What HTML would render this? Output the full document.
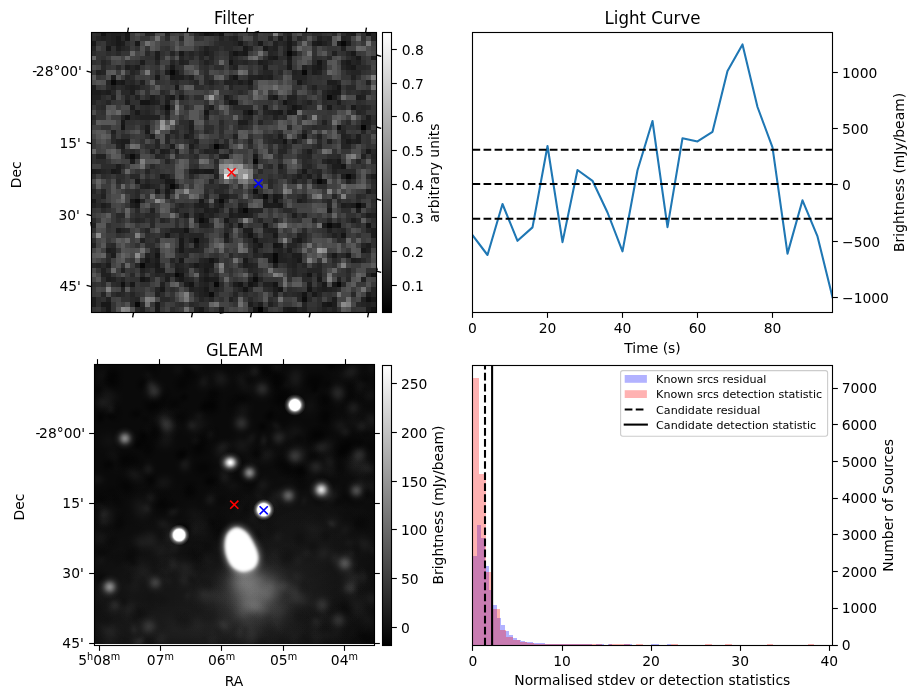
<!DOCTYPE html>
<html><head><meta charset="utf-8"><title>Candidate diagnostic plot</title>
<style>
html,body{margin:0;padding:0;background:#fff;}
body{width:918px;height:699px;overflow:hidden;}
svg{display:block;will-change:transform;font-family:'DejaVu Sans','Liberation Sans',sans-serif;fill:#000;}
</style></head><body>
<svg width="918" height="699" viewBox="0 0 918 699">
<defs>
<linearGradient id="gcb" x1="0" y1="1" x2="0" y2="0"><stop offset="0" stop-color="#000"/><stop offset="1" stop-color="#fff"/></linearGradient>
</defs>
<rect width="918" height="699" fill="#fff"/>
<g shape-rendering="crispEdges">
<rect x="92" y="33" width="284" height="279" fill="#383838"/>
<path fill="#000000" d="M258 307h5v5h-5z"/>
<path fill="#040404" d="M361 125h5v5h-5zM214 144h5v5h-5z"/>
<path fill="#080808" d="M341 41h5v5h-5zM287 51h5v5h-5zM170 70h5v5h-5zM302 70h5v5h-5zM111 80h5v5h-5zM327 95h5v5h-5zM253 159h5v5h-5zM346 174h5v5h-5zM317 179h5v5h-5zM170 184h5v5h-5zM356 203h5v5h-5zM243 208h5v5h-5zM327 223h5v5h-5zM273 253h5v5h-5zM273 258h5v5h-5zM140 263h5v5h-5zM175 273h4v4h-4zM214 282h5v5h-5zM337 282h4v5h-4zM135 302h5v5h-5z"/>
<path fill="#0c0c0c" d="M165 105h5v5h-5zM130 154h5v5h-5zM263 194h5v5h-5zM135 199h5v4h-5zM219 199h5v4h-5zM199 218h5v5h-5zM194 238h5v5h-5zM253 277h5v5h-5zM209 292h5v5h-5zM302 297h5v5h-5z"/>
<path fill="#101010" d="M248 110h5v5h-5zM337 125h4v5h-4zM253 189h5v5h-5zM121 282h4v5h-4zM366 297h5v5h-5z"/>
<path fill="#141414" d="M101 33h5v3h-5zM204 33h5v3h-5zM219 33h5v3h-5zM366 33h5v3h-5zM233 51h5v5h-5zM229 60h4v5h-4zM317 60h5v5h-5zM233 75h5v5h-5zM337 85h4v5h-4zM140 100h5v5h-5zM145 100h5v5h-5zM229 100h4v5h-4zM283 100h4v5h-4zM292 105h5v5h-5zM204 110h5v5h-5zM125 115h5v5h-5zM121 125h4v5h-4zM302 134h5v5h-5zM283 139h4v5h-4zM341 164h5v5h-5zM273 199h5v4h-5zM238 223h5v5h-5zM337 223h4v5h-4zM366 223h5v5h-5zM184 228h5v5h-5zM248 233h5v5h-5zM341 233h5v5h-5zM253 238h5v5h-5zM273 243h5v5h-5zM155 253h5v5h-5zM209 258h5v5h-5zM179 273h5v4h-5zM307 273h5v4h-5zM371 273h5v4h-5zM140 277h5v5h-5zM189 282h5v5h-5zM238 282h5v5h-5zM248 282h5v5h-5zM273 282h5v5h-5zM243 287h5v5h-5zM278 287h5v5h-5zM307 287h5v5h-5zM302 292h5v5h-5zM327 302h5v5h-5zM253 307h5v5h-5zM371 307h5v5h-5z"/>
<path fill="#181818" d="M125 33h5v3h-5zM209 33h5v3h-5zM116 36h5v5h-5zM125 36h5v5h-5zM92 41h4v5h-4zM116 41h5v5h-5zM135 41h5v5h-5zM238 41h5v5h-5zM258 41h5v5h-5zM287 41h5v5h-5zM317 41h5v5h-5zM337 41h4v5h-4zM106 46h5v5h-5zM243 46h5v5h-5zM263 46h5v5h-5zM287 46h5v5h-5zM179 51h5v5h-5zM243 51h5v5h-5zM351 51h5v5h-5zM273 56h5v4h-5zM287 56h5v4h-5zM356 56h5v4h-5zM346 60h5v5h-5zM170 65h5v5h-5zM287 65h5v5h-5zM317 65h5v5h-5zM351 65h5v5h-5zM155 75h5v5h-5zM170 75h5v5h-5zM121 80h4v5h-4zM248 80h5v5h-5zM297 80h5v5h-5zM175 85h4v5h-4zM332 90h5v5h-5zM337 90h4v5h-4zM170 95h5v5h-5zM179 95h5v5h-5zM273 95h5v5h-5zM233 100h5v5h-5zM327 105h5v5h-5zM351 105h5v5h-5zM135 110h5v5h-5zM278 110h5v5h-5zM287 110h5v5h-5zM121 120h4v5h-4zM145 130h5v4h-5zM346 139h5v5h-5zM366 149h5v5h-5zM253 154h5v5h-5zM337 159h4v5h-4zM111 169h5v5h-5zM194 169h5v5h-5zM204 169h5v5h-5zM209 169h5v5h-5zM302 169h5v5h-5zM160 174h5v5h-5zM135 179h5v5h-5zM165 179h5v5h-5zM170 179h5v5h-5zM322 179h5v5h-5zM155 189h5v5h-5zM165 189h5v5h-5zM273 194h5v5h-5zM92 199h4v4h-4zM130 199h5v4h-5zM199 199h5v4h-5zM135 203h5v5h-5zM278 203h5v5h-5zM238 208h5v5h-5zM327 208h5v5h-5zM184 213h5v5h-5zM199 213h5v5h-5zM204 218h5v5h-5zM224 218h5v5h-5zM263 223h5v5h-5zM332 223h5v5h-5zM165 233h5v5h-5zM224 233h5v5h-5zM273 233h5v5h-5zM179 238h5v5h-5zM297 238h5v5h-5zM179 243h5v5h-5zM194 243h5v5h-5zM258 243h5v5h-5zM278 243h5v5h-5zM179 248h5v5h-5zM361 248h5v5h-5zM332 253h5v5h-5zM346 253h5v5h-5zM145 258h5v5h-5zM179 258h5v5h-5zM243 258h5v5h-5zM297 258h5v5h-5zM155 263h5v5h-5zM194 263h5v5h-5zM204 268h5v5h-5zM179 277h5v5h-5zM204 277h5v5h-5zM317 277h5v5h-5zM130 282h5v5h-5zM322 282h5v5h-5zM332 282h5v5h-5zM160 287h5v5h-5zM204 287h5v5h-5zM312 292h5v5h-5zM371 297h5v5h-5zM101 302h5v5h-5zM106 302h5v5h-5zM155 302h5v5h-5zM322 302h5v5h-5zM106 307h5v5h-5zM155 307h5v5h-5zM199 307h5v5h-5zM287 307h5v5h-5zM292 307h5v5h-5z"/>
<path fill="#1c1c1c" d="M351 33h5v3h-5zM278 36h5v5h-5zM287 36h5v5h-5zM121 41h4v5h-4zM312 41h5v5h-5zM346 41h5v5h-5zM116 46h5v5h-5zM155 51h5v5h-5zM204 51h5v5h-5zM238 51h5v5h-5zM292 51h5v5h-5zM155 56h5v4h-5zM268 56h5v4h-5zM140 60h5v5h-5zM258 60h5v5h-5zM287 60h5v5h-5zM125 65h5v5h-5zM135 65h5v5h-5zM263 65h5v5h-5zM312 65h5v5h-5zM346 65h5v5h-5zM165 70h5v5h-5zM175 70h4v5h-4zM312 70h5v5h-5zM111 75h5v5h-5zM175 75h4v5h-4zM179 75h5v5h-5zM258 75h5v5h-5zM268 75h5v5h-5zM116 80h5v5h-5zM238 80h5v5h-5zM327 80h5v5h-5zM332 80h5v5h-5zM92 85h4v5h-4zM130 85h5v5h-5zM92 90h4v5h-4zM96 90h5v5h-5zM106 90h5v5h-5zM130 90h5v5h-5zM327 90h5v5h-5zM150 95h5v5h-5zM224 95h5v5h-5zM332 95h5v5h-5zM356 95h5v5h-5zM125 100h5v5h-5zM150 100h5v5h-5zM165 100h5v5h-5zM337 100h4v5h-4zM130 105h5v5h-5zM209 105h5v5h-5zM263 105h5v5h-5zM297 105h5v5h-5zM165 110h5v5h-5zM243 110h5v5h-5zM273 110h5v5h-5zM292 110h5v5h-5zM366 115h5v5h-5zM238 120h5v5h-5zM243 120h5v5h-5zM145 125h5v5h-5zM189 125h5v5h-5zM150 134h5v5h-5zM184 134h5v5h-5zM278 134h5v5h-5zM356 134h5v5h-5zM121 139h4v5h-4zM125 139h5v5h-5zM292 139h5v5h-5zM356 139h5v5h-5zM121 144h4v5h-4zM170 144h5v5h-5zM189 144h5v5h-5zM219 144h5v5h-5zM160 149h5v5h-5zM307 149h5v5h-5zM224 154h5v5h-5zM130 159h5v5h-5zM327 159h5v5h-5zM116 164h5v5h-5zM278 164h5v5h-5zM332 164h5v5h-5zM337 164h4v5h-4zM92 169h4v5h-4zM116 169h5v5h-5zM189 169h5v5h-5zM199 169h5v5h-5zM297 174h5v5h-5zM307 174h5v5h-5zM341 174h5v5h-5zM351 174h5v5h-5zM371 174h5v5h-5zM145 184h5v5h-5zM175 184h4v5h-4zM366 189h5v5h-5zM219 194h5v5h-5zM224 194h5v5h-5zM278 194h5v5h-5zM263 199h5v4h-5zM297 199h5v4h-5zM101 203h5v5h-5zM199 203h5v5h-5zM219 203h5v5h-5zM263 203h5v5h-5zM268 203h5v5h-5zM273 203h5v5h-5zM341 203h5v5h-5zM351 203h5v5h-5zM361 203h5v5h-5zM204 208h5v5h-5zM214 208h5v5h-5zM356 208h5v5h-5zM229 213h4v5h-4zM238 213h5v5h-5zM243 213h5v5h-5zM292 213h5v5h-5zM366 213h5v5h-5zM351 218h5v5h-5zM322 223h5v5h-5zM116 228h5v5h-5zM243 228h5v5h-5zM248 228h5v5h-5zM371 228h5v5h-5zM371 233h5v5h-5zM366 243h5v5h-5zM106 248h5v5h-5zM253 248h5v5h-5zM287 248h5v5h-5zM111 253h5v5h-5zM263 253h5v5h-5zM268 253h5v5h-5zM292 253h5v5h-5zM297 253h5v5h-5zM155 258h5v5h-5zM268 258h5v5h-5zM351 258h5v5h-5zM106 263h5v5h-5zM204 263h5v5h-5zM209 263h5v5h-5zM243 263h5v5h-5zM273 263h5v5h-5zM155 268h5v5h-5zM160 268h5v5h-5zM175 268h4v5h-4zM106 277h5v5h-5zM145 277h5v5h-5zM165 277h5v5h-5zM209 277h5v5h-5zM214 277h5v5h-5zM184 282h5v5h-5zM233 282h5v5h-5zM253 282h5v5h-5zM307 282h5v5h-5zM273 287h5v5h-5zM322 287h5v5h-5zM204 292h5v5h-5zM366 292h5v5h-5zM92 297h4v5h-4zM332 297h5v5h-5zM92 302h4v5h-4zM248 302h5v5h-5zM258 302h5v5h-5zM332 302h5v5h-5zM219 307h5v5h-5zM283 307h4v5h-4zM366 307h5v5h-5z"/>
<path fill="#202020" d="M111 33h5v3h-5zM116 33h5v3h-5zM199 33h5v3h-5zM214 33h5v3h-5zM346 33h5v3h-5zM101 36h5v5h-5zM111 36h5v5h-5zM233 36h5v5h-5zM317 36h5v5h-5zM341 36h5v5h-5zM111 41h5v5h-5zM273 41h5v5h-5zM322 41h5v5h-5zM204 46h5v5h-5zM273 46h5v5h-5zM341 46h5v5h-5zM229 51h4v5h-4zM332 51h5v5h-5zM229 56h4v4h-4zM371 56h5v4h-5zM179 60h5v5h-5zM204 60h5v5h-5zM263 60h5v5h-5zM341 60h5v5h-5zM356 60h5v5h-5zM233 65h5v5h-5zM302 65h5v5h-5zM96 70h5v5h-5zM292 70h5v5h-5zM317 70h5v5h-5zM189 75h5v5h-5zM229 75h4v5h-4zM248 75h5v5h-5zM253 75h5v5h-5zM263 75h5v5h-5zM351 75h5v5h-5zM140 80h5v5h-5zM209 80h5v5h-5zM224 80h5v5h-5zM229 80h4v5h-4zM366 80h5v5h-5zM111 85h5v5h-5zM125 85h5v5h-5zM135 85h5v5h-5zM312 85h5v5h-5zM332 85h5v5h-5zM101 90h5v5h-5zM92 95h4v5h-4zM96 95h5v5h-5zM111 95h5v5h-5zM135 95h5v5h-5zM165 95h5v5h-5zM268 95h5v5h-5zM287 95h5v5h-5zM292 95h5v5h-5zM361 95h5v5h-5zM155 100h5v5h-5zM287 100h5v5h-5zM307 100h5v5h-5zM268 110h5v5h-5zM140 115h5v5h-5zM145 115h5v5h-5zM150 115h5v5h-5zM155 115h5v5h-5zM204 115h5v5h-5zM273 115h5v5h-5zM189 120h5v5h-5zM322 120h5v5h-5zM361 120h5v5h-5zM366 120h5v5h-5zM111 130h5v4h-5zM189 130h5v4h-5zM233 134h5v5h-5zM317 134h5v5h-5zM341 134h5v5h-5zM116 139h5v5h-5zM194 139h5v5h-5zM327 139h5v5h-5zM351 139h5v5h-5zM150 149h5v5h-5zM165 149h5v5h-5zM175 149h4v5h-4zM204 149h5v5h-5zM214 149h5v5h-5zM96 154h5v5h-5zM101 154h5v5h-5zM125 154h5v5h-5zM135 154h5v5h-5zM219 154h5v5h-5zM361 154h5v5h-5zM332 159h5v5h-5zM96 169h5v5h-5zM332 169h5v5h-5zM165 174h5v5h-5zM214 174h5v5h-5zM317 174h5v5h-5zM292 179h5v5h-5zM312 179h5v5h-5zM346 179h5v5h-5zM140 184h5v5h-5zM165 184h5v5h-5zM101 194h5v5h-5zM165 194h5v5h-5zM258 194h5v5h-5zM214 199h5v4h-5zM92 203h4v5h-4zM130 203h5v5h-5zM194 203h5v5h-5zM204 203h5v5h-5zM238 203h5v5h-5zM346 203h5v5h-5zM150 208h5v5h-5zM209 208h5v5h-5zM229 208h4v5h-4zM248 208h5v5h-5zM194 213h5v5h-5zM209 213h5v5h-5zM233 213h5v5h-5zM248 213h5v5h-5zM371 213h5v5h-5zM92 223h4v5h-4zM199 223h5v5h-5zM204 223h5v5h-5zM229 223h4v5h-4zM170 228h5v5h-5zM175 228h4v5h-4zM179 228h5v5h-5zM268 228h5v5h-5zM273 228h5v5h-5zM327 228h5v5h-5zM179 233h5v5h-5zM297 233h5v5h-5zM332 233h5v5h-5zM140 238h5v5h-5zM189 238h5v5h-5zM224 238h5v5h-5zM292 238h5v5h-5zM92 243h4v5h-4zM253 243h5v5h-5zM111 248h5v5h-5zM155 248h5v5h-5zM278 248h5v5h-5zM366 248h5v5h-5zM145 253h5v5h-5zM278 253h5v5h-5zM204 258h5v5h-5zM214 258h5v5h-5zM278 258h5v5h-5zM283 258h4v5h-4zM292 258h5v5h-5zM356 258h5v5h-5zM96 263h5v5h-5zM145 263h5v5h-5zM150 263h5v5h-5zM175 263h4v5h-4zM199 263h5v5h-5zM248 263h5v5h-5zM292 263h5v5h-5zM101 268h5v5h-5zM121 268h4v5h-4zM140 268h5v5h-5zM179 268h5v5h-5zM101 273h5v4h-5zM106 273h5v4h-5zM165 273h5v4h-5zM204 273h5v4h-5zM253 273h5v4h-5zM317 273h5v4h-5zM111 277h5v5h-5zM175 277h4v5h-4zM199 277h5v5h-5zM248 277h5v5h-5zM337 277h4v5h-4zM361 277h5v5h-5zM160 282h5v5h-5zM204 282h5v5h-5zM263 282h5v5h-5zM268 282h5v5h-5zM189 287h5v5h-5zM199 287h5v5h-5zM317 287h5v5h-5zM327 287h5v5h-5zM155 292h5v5h-5zM199 292h5v5h-5zM273 292h5v5h-5zM106 297h5v5h-5zM229 297h4v5h-4zM361 297h5v5h-5zM268 302h5v5h-5zM366 302h5v5h-5zM140 307h5v5h-5zM194 307h5v5h-5zM302 307h5v5h-5zM322 307h5v5h-5zM332 307h5v5h-5z"/>
<path fill="#242424" d="M106 33h5v3h-5zM121 33h4v3h-4zM145 33h5v3h-5zM165 33h5v3h-5zM287 33h5v3h-5zM371 33h5v3h-5zM96 36h5v5h-5zM106 36h5v5h-5zM219 36h5v5h-5zM229 36h4v5h-4zM268 36h5v5h-5zM327 36h5v5h-5zM346 36h5v5h-5zM371 36h5v5h-5zM106 41h5v5h-5zM233 41h5v5h-5zM283 41h4v5h-4zM292 41h5v5h-5zM92 46h4v5h-4zM121 46h4v5h-4zM248 46h5v5h-5zM268 46h5v5h-5zM170 51h5v5h-5zM189 51h5v5h-5zM199 51h5v5h-5zM209 51h5v5h-5zM268 51h5v5h-5zM283 51h4v5h-4zM346 51h5v5h-5zM179 56h5v4h-5zM199 56h5v4h-5zM209 56h5v4h-5zM351 56h5v4h-5zM101 60h5v5h-5zM155 60h5v5h-5zM170 60h5v5h-5zM184 60h5v5h-5zM233 60h5v5h-5zM243 60h5v5h-5zM351 60h5v5h-5zM130 65h5v5h-5zM341 65h5v5h-5zM101 70h5v5h-5zM130 70h5v5h-5zM263 70h5v5h-5zM268 70h5v5h-5zM297 70h5v5h-5zM351 70h5v5h-5zM356 70h5v5h-5zM125 75h5v5h-5zM292 75h5v5h-5zM297 75h5v5h-5zM302 75h5v5h-5zM106 80h5v5h-5zM130 80h5v5h-5zM194 80h5v5h-5zM233 80h5v5h-5zM243 80h5v5h-5zM337 80h4v5h-4zM229 85h4v5h-4zM248 85h5v5h-5zM322 90h5v5h-5zM361 90h5v5h-5zM125 95h5v5h-5zM322 95h5v5h-5zM92 100h4v5h-4zM106 100h5v5h-5zM292 100h5v5h-5zM160 105h5v5h-5zM287 105h5v5h-5zM361 105h5v5h-5zM145 110h5v5h-5zM263 110h5v5h-5zM356 110h5v5h-5zM121 115h4v5h-4zM135 115h5v5h-5zM165 115h5v5h-5zM248 115h5v5h-5zM258 120h5v5h-5zM366 125h5v5h-5zM170 130h5v4h-5zM302 130h5v4h-5zM341 130h5v4h-5zM361 130h5v4h-5zM165 134h5v5h-5zM189 134h5v5h-5zM346 134h5v5h-5zM155 139h5v5h-5zM165 139h5v5h-5zM248 139h5v5h-5zM273 139h5v5h-5zM278 139h5v5h-5zM341 139h5v5h-5zM116 144h5v5h-5zM155 144h5v5h-5zM224 144h5v5h-5zM283 144h4v5h-4zM317 144h5v5h-5zM341 144h5v5h-5zM346 144h5v5h-5zM121 149h4v5h-4zM209 149h5v5h-5zM278 149h5v5h-5zM283 149h4v5h-4zM155 154h5v5h-5zM307 154h5v5h-5zM371 154h5v5h-5zM165 159h5v5h-5zM322 159h5v5h-5zM356 159h5v5h-5zM307 164h5v5h-5zM101 169h5v5h-5zM145 169h5v5h-5zM317 169h5v5h-5zM145 179h5v5h-5zM209 179h5v5h-5zM150 184h5v5h-5zM92 189h4v5h-4zM101 189h5v5h-5zM204 194h5v5h-5zM302 194h5v5h-5zM332 194h5v5h-5zM140 199h5v4h-5zM302 199h5v4h-5zM327 199h5v4h-5zM106 203h5v5h-5zM179 203h5v5h-5zM214 203h5v5h-5zM327 203h5v5h-5zM175 208h4v5h-4zM253 208h5v5h-5zM258 208h5v5h-5zM204 213h5v5h-5zM302 213h5v5h-5zM135 218h5v5h-5zM160 218h5v5h-5zM194 218h5v5h-5zM258 218h5v5h-5zM273 218h5v5h-5zM312 218h5v5h-5zM327 218h5v5h-5zM121 228h4v5h-4zM145 228h5v5h-5zM263 228h5v5h-5zM341 228h5v5h-5zM366 228h5v5h-5zM189 233h5v5h-5zM194 233h5v5h-5zM199 233h5v5h-5zM243 233h5v5h-5zM302 233h5v5h-5zM199 238h5v5h-5zM287 243h5v5h-5zM292 243h5v5h-5zM361 243h5v5h-5zM189 248h5v5h-5zM194 248h5v5h-5zM273 248h5v5h-5zM253 253h5v5h-5zM283 253h4v5h-4zM150 258h5v5h-5zM170 258h5v5h-5zM199 258h5v5h-5zM287 258h5v5h-5zM92 263h4v5h-4zM135 263h5v5h-5zM179 263h5v5h-5zM189 263h5v5h-5zM253 263h5v5h-5zM287 263h5v5h-5zM302 263h5v5h-5zM317 263h5v5h-5zM199 268h5v5h-5zM209 268h5v5h-5zM248 268h5v5h-5zM292 268h5v5h-5zM307 268h5v5h-5zM312 268h5v5h-5zM317 268h5v5h-5zM155 273h5v4h-5zM170 273h5v4h-5zM292 273h5v4h-5zM302 273h5v4h-5zM366 273h5v4h-5zM121 277h4v5h-4zM184 277h5v5h-5zM258 277h5v5h-5zM199 282h5v5h-5zM121 287h4v5h-4zM155 287h5v5h-5zM194 287h5v5h-5zM214 287h5v5h-5zM238 287h5v5h-5zM332 287h5v5h-5zM371 287h5v5h-5zM101 292h5v5h-5zM116 292h5v5h-5zM130 292h5v5h-5zM233 292h5v5h-5zM297 292h5v5h-5zM317 292h5v5h-5zM371 292h5v5h-5zM135 297h5v5h-5zM199 297h5v5h-5zM209 297h5v5h-5zM302 302h5v5h-5zM361 302h5v5h-5zM371 302h5v5h-5zM263 307h5v5h-5zM297 307h5v5h-5z"/>
<path fill="#282828" d="M150 33h5v3h-5zM194 33h5v3h-5zM253 33h5v3h-5zM121 36h4v5h-4zM179 36h5v5h-5zM297 36h5v5h-5zM322 36h5v5h-5zM219 41h5v5h-5zM224 41h5v5h-5zM229 41h4v5h-4zM278 41h5v5h-5zM327 41h5v5h-5zM125 46h5v5h-5zM209 46h5v5h-5zM214 46h5v5h-5zM224 46h5v5h-5zM229 46h4v5h-4zM283 46h4v5h-4zM116 51h5v5h-5zM145 51h5v5h-5zM273 51h5v5h-5zM189 56h5v4h-5zM233 56h5v4h-5zM327 56h5v4h-5zM209 60h5v5h-5zM238 60h5v5h-5zM268 60h5v5h-5zM312 60h5v5h-5zM322 60h5v5h-5zM101 65h5v5h-5zM116 65h5v5h-5zM229 65h4v5h-4zM307 65h5v5h-5zM322 65h5v5h-5zM356 65h5v5h-5zM361 65h5v5h-5zM278 70h5v5h-5zM346 70h5v5h-5zM184 75h5v5h-5zM204 75h5v5h-5zM125 80h5v5h-5zM175 80h4v5h-4zM204 80h5v5h-5zM302 80h5v5h-5zM106 85h5v5h-5zM121 85h4v5h-4zM327 85h5v5h-5zM346 85h5v5h-5zM351 85h5v5h-5zM111 90h5v5h-5zM121 90h4v5h-4zM125 90h5v5h-5zM160 90h5v5h-5zM238 90h5v5h-5zM366 90h5v5h-5zM155 95h5v5h-5zM229 95h4v5h-4zM224 100h5v5h-5zM302 100h5v5h-5zM322 100h5v5h-5zM101 105h5v5h-5zM145 105h5v5h-5zM204 105h5v5h-5zM233 105h5v5h-5zM238 105h5v5h-5zM243 105h5v5h-5zM248 105h5v5h-5zM302 105h5v5h-5zM341 105h5v5h-5zM356 105h5v5h-5zM366 105h5v5h-5zM130 110h5v5h-5zM140 110h5v5h-5zM253 110h5v5h-5zM361 110h5v5h-5zM92 115h4v5h-4zM130 115h5v5h-5zM243 115h5v5h-5zM283 115h4v5h-4zM302 115h5v5h-5zM219 120h5v5h-5zM346 120h5v5h-5zM238 125h5v5h-5zM287 125h5v5h-5zM312 125h5v5h-5zM341 125h5v5h-5zM356 125h5v5h-5zM175 130h4v4h-4zM204 130h5v4h-5zM111 134h5v5h-5zM175 134h4v5h-4zM268 134h5v5h-5zM297 134h5v5h-5zM111 139h5v5h-5zM189 139h5v5h-5zM224 139h5v5h-5zM268 139h5v5h-5zM317 139h5v5h-5zM209 144h5v5h-5zM130 149h5v5h-5zM189 149h5v5h-5zM229 149h4v5h-4zM302 149h5v5h-5zM371 149h5v5h-5zM160 154h5v5h-5zM194 154h5v5h-5zM278 154h5v5h-5zM302 154h5v5h-5zM337 154h4v5h-4zM214 159h5v5h-5zM302 159h5v5h-5zM371 159h5v5h-5zM121 164h4v5h-4zM150 164h5v5h-5zM268 164h5v5h-5zM302 164h5v5h-5zM106 169h5v5h-5zM214 169h5v5h-5zM258 169h5v5h-5zM278 169h5v5h-5zM312 169h5v5h-5zM337 169h4v5h-4zM341 169h5v5h-5zM346 169h5v5h-5zM351 169h5v5h-5zM130 174h5v5h-5zM135 174h5v5h-5zM189 174h5v5h-5zM283 174h4v5h-4zM292 174h5v5h-5zM302 174h5v5h-5zM366 174h5v5h-5zM116 179h5v5h-5zM160 179h5v5h-5zM268 179h5v5h-5zM302 179h5v5h-5zM371 179h5v5h-5zM155 184h5v5h-5zM219 184h5v5h-5zM224 184h5v5h-5zM268 184h5v5h-5zM135 189h5v5h-5zM170 189h5v5h-5zM214 189h5v5h-5zM219 189h5v5h-5zM371 189h5v5h-5zM135 194h5v5h-5zM229 194h4v5h-4zM233 194h5v5h-5zM253 194h5v5h-5zM356 194h5v5h-5zM224 199h5v4h-5zM337 199h4v4h-4zM96 203h5v5h-5zM243 203h5v5h-5zM101 208h5v5h-5zM135 208h5v5h-5zM194 208h5v5h-5zM283 208h4v5h-4zM287 208h5v5h-5zM116 213h5v5h-5zM121 213h4v5h-4zM145 213h5v5h-5zM150 213h5v5h-5zM179 213h5v5h-5zM92 218h4v5h-4zM140 218h5v5h-5zM150 218h5v5h-5zM356 218h5v5h-5zM150 223h5v5h-5zM209 223h5v5h-5zM125 228h5v5h-5zM224 228h5v5h-5zM302 228h5v5h-5zM337 228h4v5h-4zM184 233h5v5h-5zM253 233h5v5h-5zM337 233h4v5h-4zM155 238h5v5h-5zM204 238h5v5h-5zM248 238h5v5h-5zM258 238h5v5h-5zM263 238h5v5h-5zM273 238h5v5h-5zM302 238h5v5h-5zM337 238h4v5h-4zM111 243h5v5h-5zM199 243h5v5h-5zM150 248h5v5h-5zM175 248h4v5h-4zM184 248h5v5h-5zM199 248h5v5h-5zM150 253h5v5h-5zM184 253h5v5h-5zM229 253h4v5h-4zM258 253h5v5h-5zM287 253h5v5h-5zM327 253h5v5h-5zM341 253h5v5h-5zM106 258h5v5h-5zM140 258h5v5h-5zM332 258h5v5h-5zM361 258h5v5h-5zM101 263h5v5h-5zM145 268h5v5h-5zM184 268h5v5h-5zM253 268h5v5h-5zM346 268h5v5h-5zM130 273h5v4h-5zM140 273h5v4h-5zM160 273h5v4h-5zM199 273h5v4h-5zM214 273h5v4h-5zM189 277h5v5h-5zM302 277h5v5h-5zM307 277h5v5h-5zM346 277h5v5h-5zM116 282h5v5h-5zM219 282h5v5h-5zM317 282h5v5h-5zM341 282h5v5h-5zM248 287h5v5h-5zM268 287h5v5h-5zM312 287h5v5h-5zM121 292h4v5h-4zM194 292h5v5h-5zM283 292h4v5h-4zM292 292h5v5h-5zM351 292h5v5h-5zM130 297h5v5h-5zM160 297h5v5h-5zM165 297h5v5h-5zM248 297h5v5h-5zM297 297h5v5h-5zM307 297h5v5h-5zM130 302h5v5h-5zM140 302h5v5h-5zM189 302h5v5h-5zM253 302h5v5h-5zM356 302h5v5h-5zM101 307h5v5h-5zM135 307h5v5h-5zM317 307h5v5h-5zM327 307h5v5h-5z"/>
<path fill="#2c2c2c" d="M96 33h5v3h-5zM283 33h4v3h-4zM312 33h5v3h-5zM317 33h5v3h-5zM332 33h5v3h-5zM341 33h5v3h-5zM92 36h4v5h-4zM165 36h5v5h-5zM224 36h5v5h-5zM253 36h5v5h-5zM214 41h5v5h-5zM243 41h5v5h-5zM253 41h5v5h-5zM199 46h5v5h-5zM92 51h4v5h-4zM106 51h5v5h-5zM184 51h5v5h-5zM194 51h5v5h-5zM263 56h5v4h-5zM278 56h5v4h-5zM283 56h4v4h-4zM312 56h5v4h-5zM346 56h5v4h-5zM106 60h5v5h-5zM199 60h5v5h-5zM248 60h5v5h-5zM175 65h4v5h-4zM204 65h5v5h-5zM214 65h5v5h-5zM219 65h5v5h-5zM366 65h5v5h-5zM135 70h5v5h-5zM155 70h5v5h-5zM179 70h5v5h-5zM204 70h5v5h-5zM258 70h5v5h-5zM307 70h5v5h-5zM130 75h5v5h-5zM170 80h5v5h-5zM189 80h5v5h-5zM214 80h5v5h-5zM116 85h5v5h-5zM140 85h5v5h-5zM194 85h5v5h-5zM199 85h5v5h-5zM209 85h5v5h-5zM307 85h5v5h-5zM179 90h5v5h-5zM292 90h5v5h-5zM312 90h5v5h-5zM346 90h5v5h-5zM356 90h5v5h-5zM101 95h5v5h-5zM145 95h5v5h-5zM184 95h5v5h-5zM194 95h5v5h-5zM199 95h5v5h-5zM101 100h5v5h-5zM327 100h5v5h-5zM332 100h5v5h-5zM356 100h5v5h-5zM96 105h5v5h-5zM140 105h5v5h-5zM150 105h5v5h-5zM170 105h5v5h-5zM184 105h5v5h-5zM337 105h4v5h-4zM150 110h5v5h-5zM263 115h5v5h-5zM278 115h5v5h-5zM145 120h5v5h-5zM179 120h5v5h-5zM184 120h5v5h-5zM248 120h5v5h-5zM371 120h5v5h-5zM140 125h5v5h-5zM184 125h5v5h-5zM204 125h5v5h-5zM209 125h5v5h-5zM219 125h5v5h-5zM243 125h5v5h-5zM317 125h5v5h-5zM322 125h5v5h-5zM219 130h5v4h-5zM278 130h5v4h-5zM337 130h4v4h-4zM121 134h4v5h-4zM125 134h5v5h-5zM145 134h5v5h-5zM263 134h5v5h-5zM214 139h5v5h-5zM297 139h5v5h-5zM145 144h5v5h-5zM194 144h5v5h-5zM248 144h5v5h-5zM278 144h5v5h-5zM287 144h5v5h-5zM312 144h5v5h-5zM125 149h5v5h-5zM199 149h5v5h-5zM268 149h5v5h-5zM175 154h4v5h-4zM297 154h5v5h-5zM327 154h5v5h-5zM332 154h5v5h-5zM96 159h5v5h-5zM101 159h5v5h-5zM307 159h5v5h-5zM101 164h5v5h-5zM106 164h5v5h-5zM111 164h5v5h-5zM194 164h5v5h-5zM327 164h5v5h-5zM283 169h4v5h-4zM297 169h5v5h-5zM92 174h4v5h-4zM101 174h5v5h-5zM116 174h5v5h-5zM121 174h4v5h-4zM150 179h5v5h-5zM155 179h5v5h-5zM351 179h5v5h-5zM317 184h5v5h-5zM322 184h5v5h-5zM371 184h5v5h-5zM204 189h5v5h-5zM92 194h4v5h-4zM96 194h5v5h-5zM268 194h5v5h-5zM297 194h5v5h-5zM361 194h5v5h-5zM96 199h5v4h-5zM278 199h5v4h-5zM322 199h5v4h-5zM356 199h5v4h-5zM371 199h5v4h-5zM175 203h4v5h-4zM184 203h5v5h-5zM199 208h5v5h-5zM219 208h5v5h-5zM341 208h5v5h-5zM346 208h5v5h-5zM371 208h5v5h-5zM135 213h5v5h-5zM214 213h5v5h-5zM361 213h5v5h-5zM116 218h5v5h-5zM130 218h5v5h-5zM165 218h5v5h-5zM175 218h4v5h-4zM229 218h4v5h-4zM233 218h5v5h-5zM337 218h4v5h-4zM346 218h5v5h-5zM371 218h5v5h-5zM175 223h4v5h-4zM224 223h5v5h-5zM356 223h5v5h-5zM165 228h5v5h-5zM332 228h5v5h-5zM145 233h5v5h-5zM160 233h5v5h-5zM170 233h5v5h-5zM263 233h5v5h-5zM268 233h5v5h-5zM327 233h5v5h-5zM92 238h4v5h-4zM184 238h5v5h-5zM268 238h5v5h-5zM341 238h5v5h-5zM106 243h5v5h-5zM145 243h5v5h-5zM150 243h5v5h-5zM248 243h5v5h-5zM283 248h4v5h-4zM106 253h5v5h-5zM179 253h5v5h-5zM243 253h5v5h-5zM337 253h4v5h-4zM248 258h5v5h-5zM184 263h5v5h-5zM238 263h5v5h-5zM297 263h5v5h-5zM312 263h5v5h-5zM287 268h5v5h-5zM297 268h5v5h-5zM302 268h5v5h-5zM150 273h5v4h-5zM287 273h5v4h-5zM297 273h5v4h-5zM346 273h5v4h-5zM101 277h5v5h-5zM116 277h5v5h-5zM101 282h5v5h-5zM111 282h5v5h-5zM125 282h5v5h-5zM209 282h5v5h-5zM243 282h5v5h-5zM170 287h5v5h-5zM209 287h5v5h-5zM219 287h5v5h-5zM233 287h5v5h-5zM263 287h5v5h-5zM287 287h5v5h-5zM337 287h4v5h-4zM111 292h5v5h-5zM160 292h5v5h-5zM214 292h5v5h-5zM243 292h5v5h-5zM287 292h5v5h-5zM307 292h5v5h-5zM96 297h5v5h-5zM204 297h5v5h-5zM233 297h5v5h-5zM268 297h5v5h-5zM317 297h5v5h-5zM96 302h5v5h-5zM179 302h5v5h-5zM194 302h5v5h-5zM273 302h5v5h-5zM317 302h5v5h-5zM170 307h5v5h-5zM204 307h5v5h-5z"/>
<path fill="#303030" d="M92 33h4v3h-4zM233 33h5v3h-5zM302 33h5v3h-5zM361 33h5v3h-5zM194 36h5v5h-5zM283 36h4v5h-4zM361 36h5v5h-5zM125 41h5v5h-5zM111 46h5v5h-5zM135 46h5v5h-5zM165 46h5v5h-5zM219 46h5v5h-5zM233 46h5v5h-5zM312 46h5v5h-5zM111 51h5v5h-5zM160 51h5v5h-5zM214 51h5v5h-5zM312 51h5v5h-5zM341 51h5v5h-5zM101 56h5v4h-5zM145 56h5v4h-5zM150 56h5v4h-5zM184 56h5v4h-5zM317 56h5v4h-5zM92 60h4v5h-4zM125 60h5v5h-5zM135 60h5v5h-5zM175 60h4v5h-4zM253 60h5v5h-5zM273 60h5v5h-5zM278 60h5v5h-5zM361 60h5v5h-5zM165 65h5v5h-5zM179 65h5v5h-5zM199 65h5v5h-5zM258 65h5v5h-5zM278 65h5v5h-5zM283 65h4v5h-4zM248 70h5v5h-5zM361 70h5v5h-5zM209 75h5v5h-5zM273 75h5v5h-5zM307 75h5v5h-5zM317 75h5v5h-5zM356 75h5v5h-5zM135 80h5v5h-5zM155 80h5v5h-5zM307 80h5v5h-5zM351 80h5v5h-5zM145 85h5v5h-5zM233 85h5v5h-5zM238 85h5v5h-5zM243 85h5v5h-5zM317 85h5v5h-5zM322 85h5v5h-5zM145 90h5v5h-5zM165 90h5v5h-5zM233 90h5v5h-5zM243 90h5v5h-5zM351 90h5v5h-5zM130 95h5v5h-5zM302 95h5v5h-5zM337 95h4v5h-4zM96 100h5v5h-5zM130 100h5v5h-5zM135 100h5v5h-5zM204 100h5v5h-5zM278 100h5v5h-5zM297 100h5v5h-5zM312 100h5v5h-5zM341 100h5v5h-5zM361 100h5v5h-5zM307 105h5v5h-5zM312 105h5v5h-5zM322 105h5v5h-5zM332 105h5v5h-5zM101 110h5v5h-5zM160 110h5v5h-5zM214 110h5v5h-5zM283 110h4v5h-4zM268 115h5v5h-5zM361 115h5v5h-5zM371 115h5v5h-5zM92 120h4v5h-4zM125 120h5v5h-5zM130 120h5v5h-5zM140 120h5v5h-5zM175 125h4v5h-4zM307 125h5v5h-5zM327 125h5v5h-5zM346 125h5v5h-5zM351 125h5v5h-5zM184 130h5v4h-5zM209 130h5v4h-5zM371 130h5v4h-5zM219 134h5v5h-5zM248 134h5v5h-5zM273 134h5v5h-5zM351 134h5v5h-5zM366 134h5v5h-5zM140 139h5v5h-5zM184 139h5v5h-5zM233 139h5v5h-5zM263 139h5v5h-5zM366 139h5v5h-5zM150 144h5v5h-5zM268 144h5v5h-5zM366 144h5v5h-5zM135 149h5v5h-5zM253 149h5v5h-5zM312 149h5v5h-5zM332 149h5v5h-5zM361 149h5v5h-5zM92 154h4v5h-4zM189 154h5v5h-5zM209 154h5v5h-5zM92 159h4v5h-4zM278 159h5v5h-5zM189 164h5v5h-5zM214 164h5v5h-5zM253 164h5v5h-5zM263 164h5v5h-5zM283 164h4v5h-4zM312 164h5v5h-5zM361 164h5v5h-5zM155 169h5v5h-5zM307 169h5v5h-5zM327 169h5v5h-5zM106 174h5v5h-5zM145 174h5v5h-5zM155 174h5v5h-5zM170 174h5v5h-5zM253 174h5v5h-5zM268 174h5v5h-5zM278 174h5v5h-5zM287 174h5v5h-5zM312 174h5v5h-5zM332 174h5v5h-5zM121 179h4v5h-4zM140 179h5v5h-5zM273 179h5v5h-5zM287 179h5v5h-5zM297 179h5v5h-5zM204 184h5v5h-5zM209 184h5v5h-5zM214 184h5v5h-5zM238 184h5v5h-5zM253 184h5v5h-5zM125 189h5v5h-5zM130 189h5v5h-5zM224 189h5v5h-5zM248 189h5v5h-5zM258 189h5v5h-5zM130 194h5v5h-5zM170 199h5v4h-5zM238 199h5v4h-5zM268 199h5v4h-5zM307 199h5v4h-5zM346 199h5v4h-5zM189 203h5v5h-5zM337 203h4v5h-4zM371 203h5v5h-5zM106 208h5v5h-5zM170 208h5v5h-5zM179 208h5v5h-5zM184 208h5v5h-5zM233 208h5v5h-5zM292 208h5v5h-5zM140 213h5v5h-5zM155 213h5v5h-5zM253 213h5v5h-5zM297 213h5v5h-5zM346 213h5v5h-5zM351 213h5v5h-5zM184 218h5v5h-5zM253 218h5v5h-5zM297 218h5v5h-5zM106 223h5v5h-5zM184 223h5v5h-5zM371 223h5v5h-5zM92 228h4v5h-4zM140 228h5v5h-5zM160 228h5v5h-5zM204 228h5v5h-5zM229 228h4v5h-4zM322 228h5v5h-5zM116 233h5v5h-5zM150 233h5v5h-5zM175 233h4v5h-4zM356 233h5v5h-5zM145 238h5v5h-5zM229 238h4v5h-4zM243 238h5v5h-5zM371 238h5v5h-5zM135 243h5v5h-5zM184 243h5v5h-5zM204 243h5v5h-5zM297 243h5v5h-5zM371 243h5v5h-5zM258 248h5v5h-5zM292 248h5v5h-5zM175 253h4v5h-4zM214 253h5v5h-5zM238 253h5v5h-5zM366 253h5v5h-5zM175 258h4v5h-4zM337 258h4v5h-4zM121 263h4v5h-4zM160 263h5v5h-5zM170 263h5v5h-5zM283 263h4v5h-4zM332 263h5v5h-5zM106 268h5v5h-5zM150 268h5v5h-5zM194 268h5v5h-5zM229 268h4v5h-4zM258 268h5v5h-5zM366 268h5v5h-5zM371 268h5v5h-5zM184 273h5v4h-5zM209 273h5v4h-5zM312 273h5v4h-5zM130 277h5v5h-5zM135 277h5v5h-5zM150 277h5v5h-5zM160 277h5v5h-5zM287 277h5v5h-5zM92 282h4v5h-4zM140 282h5v5h-5zM145 282h5v5h-5zM194 282h5v5h-5zM229 282h4v5h-4zM130 287h5v5h-5zM292 287h5v5h-5zM125 292h5v5h-5zM135 292h5v5h-5zM253 292h5v5h-5zM327 292h5v5h-5zM101 297h5v5h-5zM121 297h4v5h-4zM125 297h5v5h-5zM170 297h5v5h-5zM219 297h5v5h-5zM327 297h5v5h-5zM160 302h5v5h-5zM175 302h4v5h-4zM248 307h5v5h-5zM307 307h5v5h-5zM312 307h5v5h-5zM337 307h4v5h-4z"/>
<path fill="#343434" d="M248 33h5v3h-5zM322 33h5v3h-5zM140 36h5v5h-5zM145 36h5v5h-5zM199 36h5v5h-5zM214 36h5v5h-5zM238 36h5v5h-5zM302 36h5v5h-5zM96 41h5v5h-5zM263 41h5v5h-5zM145 46h5v5h-5zM160 46h5v5h-5zM238 46h5v5h-5zM327 46h5v5h-5zM332 46h5v5h-5zM96 51h5v5h-5zM101 51h5v5h-5zM121 51h4v5h-4zM125 51h5v5h-5zM150 51h5v5h-5zM224 51h5v5h-5zM297 51h5v5h-5zM337 51h4v5h-4zM96 56h5v4h-5zM140 56h5v4h-5zM160 56h5v4h-5zM204 56h5v4h-5zM214 56h5v4h-5zM238 56h5v4h-5zM322 56h5v4h-5zM361 56h5v4h-5zM96 60h5v5h-5zM130 60h5v5h-5zM145 60h5v5h-5zM150 60h5v5h-5zM106 65h5v5h-5zM140 65h5v5h-5zM155 65h5v5h-5zM248 65h5v5h-5zM273 70h5v5h-5zM322 70h5v5h-5zM341 70h5v5h-5zM366 70h5v5h-5zM96 75h5v5h-5zM243 75h5v5h-5zM278 75h5v5h-5zM312 75h5v5h-5zM322 75h5v5h-5zM327 75h5v5h-5zM341 75h5v5h-5zM346 75h5v5h-5zM160 80h5v5h-5zM179 80h5v5h-5zM184 80h5v5h-5zM219 80h5v5h-5zM312 80h5v5h-5zM317 80h5v5h-5zM204 85h5v5h-5zM214 85h5v5h-5zM219 85h5v5h-5zM292 85h5v5h-5zM297 85h5v5h-5zM341 85h5v5h-5zM175 90h4v5h-4zM229 90h4v5h-4zM268 90h5v5h-5zM106 95h5v5h-5zM160 95h5v5h-5zM297 95h5v5h-5zM111 100h5v5h-5zM160 100h5v5h-5zM179 100h5v5h-5zM268 100h5v5h-5zM346 100h5v5h-5zM135 105h5v5h-5zM155 105h5v5h-5zM229 105h4v5h-4zM278 105h5v5h-5zM283 105h4v5h-4zM371 105h5v5h-5zM96 110h5v5h-5zM209 110h5v5h-5zM233 110h5v5h-5zM238 110h5v5h-5zM327 110h5v5h-5zM96 115h5v5h-5zM101 115h5v5h-5zM179 115h5v5h-5zM322 115h5v5h-5zM135 120h5v5h-5zM204 120h5v5h-5zM263 120h5v5h-5zM268 120h5v5h-5zM317 120h5v5h-5zM327 120h5v5h-5zM341 120h5v5h-5zM356 120h5v5h-5zM101 125h5v5h-5zM106 125h5v5h-5zM125 125h5v5h-5zM130 125h5v5h-5zM179 125h5v5h-5zM233 125h5v5h-5zM248 125h5v5h-5zM302 125h5v5h-5zM121 130h4v4h-4zM194 130h5v4h-5zM273 130h5v4h-5zM307 130h5v4h-5zM170 134h5v5h-5zM179 134h5v5h-5zM312 134h5v5h-5zM361 134h5v5h-5zM175 139h4v5h-4zM287 139h5v5h-5zM361 139h5v5h-5zM165 144h5v5h-5zM371 144h5v5h-5zM341 149h5v5h-5zM346 149h5v5h-5zM165 154h5v5h-5zM179 154h5v5h-5zM273 154h5v5h-5zM106 159h5v5h-5zM170 159h5v5h-5zM189 159h5v5h-5zM258 159h5v5h-5zM312 159h5v5h-5zM155 164h5v5h-5zM351 164h5v5h-5zM135 169h5v5h-5zM150 169h5v5h-5zM92 184h4v5h-4zM116 184h5v5h-5zM96 189h5v5h-5zM140 189h5v5h-5zM160 189h5v5h-5zM145 194h5v5h-5zM287 194h5v5h-5zM292 194h5v5h-5zM371 194h5v5h-5zM101 199h5v4h-5zM204 199h5v4h-5zM243 199h5v4h-5zM341 199h5v4h-5zM125 203h5v5h-5zM92 208h4v5h-4zM268 208h5v5h-5zM278 208h5v5h-5zM366 208h5v5h-5zM130 213h5v5h-5zM219 213h5v5h-5zM224 213h5v5h-5zM287 213h5v5h-5zM121 218h4v5h-4zM145 218h5v5h-5zM292 218h5v5h-5zM322 218h5v5h-5zM248 223h5v5h-5zM268 223h5v5h-5zM351 223h5v5h-5zM361 223h5v5h-5zM106 228h5v5h-5zM189 228h5v5h-5zM199 228h5v5h-5zM209 228h5v5h-5zM317 228h5v5h-5zM361 228h5v5h-5zM121 233h4v5h-4zM155 233h5v5h-5zM238 233h5v5h-5zM287 233h5v5h-5zM307 233h5v5h-5zM322 233h5v5h-5zM150 238h5v5h-5zM263 243h5v5h-5zM116 248h5v5h-5zM248 248h5v5h-5zM199 253h5v5h-5zM209 253h5v5h-5zM248 253h5v5h-5zM361 253h5v5h-5zM130 258h5v5h-5zM224 258h5v5h-5zM253 258h5v5h-5zM317 258h5v5h-5zM346 258h5v5h-5zM366 258h5v5h-5zM224 263h5v5h-5zM278 263h5v5h-5zM322 263h5v5h-5zM96 268h5v5h-5zM130 268h5v5h-5zM341 268h5v5h-5zM111 273h5v4h-5zM229 273h4v4h-4zM322 273h5v4h-5zM337 273h4v4h-4zM341 273h5v4h-5zM125 277h5v5h-5zM233 277h5v5h-5zM263 277h5v5h-5zM268 277h5v5h-5zM273 277h5v5h-5zM96 282h5v5h-5zM258 282h5v5h-5zM165 287h5v5h-5zM175 287h4v5h-4zM297 287h5v5h-5zM140 292h5v5h-5zM170 292h5v5h-5zM229 292h4v5h-4zM248 292h5v5h-5zM322 292h5v5h-5zM194 297h5v5h-5zM253 297h5v5h-5zM273 297h5v5h-5zM111 302h5v5h-5zM199 302h5v5h-5zM204 302h5v5h-5zM233 302h5v5h-5zM307 302h5v5h-5zM312 302h5v5h-5zM92 307h4v5h-4zM111 307h5v5h-5zM175 307h4v5h-4zM214 307h5v5h-5zM351 307h5v5h-5z"/>
<path fill="#383838" d="M268 33h5v3h-5zM307 33h5v3h-5zM327 33h5v3h-5zM312 36h5v5h-5zM101 41h5v5h-5zM130 41h5v5h-5zM209 41h5v5h-5zM248 41h5v5h-5zM351 41h5v5h-5zM361 41h5v5h-5zM101 46h5v5h-5zM194 46h5v5h-5zM278 46h5v5h-5zM337 46h4v5h-4zM165 51h5v5h-5zM175 51h4v5h-4zM219 51h5v5h-5zM278 51h5v5h-5zM327 51h5v5h-5zM356 51h5v5h-5zM170 56h5v4h-5zM194 56h5v4h-5zM224 56h5v4h-5zM214 60h5v5h-5zM111 65h5v5h-5zM121 65h4v5h-4zM150 65h5v5h-5zM209 65h5v5h-5zM268 65h5v5h-5zM273 65h5v5h-5zM292 65h5v5h-5zM92 70h4v5h-4zM125 70h5v5h-5zM199 70h5v5h-5zM101 75h5v5h-5zM150 75h5v5h-5zM160 75h5v5h-5zM238 75h5v5h-5zM165 80h5v5h-5zM292 80h5v5h-5zM322 80h5v5h-5zM96 85h5v5h-5zM165 85h5v5h-5zM366 85h5v5h-5zM135 90h5v5h-5zM219 90h5v5h-5zM224 90h5v5h-5zM307 90h5v5h-5zM121 95h4v5h-4zM140 95h5v5h-5zM175 95h4v5h-4zM233 95h5v5h-5zM317 95h5v5h-5zM116 100h5v5h-5zM121 100h4v5h-4zM184 100h5v5h-5zM258 100h5v5h-5zM263 100h5v5h-5zM351 100h5v5h-5zM366 100h5v5h-5zM371 100h5v5h-5zM92 105h4v5h-4zM189 105h5v5h-5zM258 105h5v5h-5zM268 105h5v5h-5zM346 105h5v5h-5zM229 110h4v5h-4zM317 110h5v5h-5zM322 110h5v5h-5zM332 110h5v5h-5zM366 110h5v5h-5zM371 110h5v5h-5zM219 115h5v5h-5zM238 115h5v5h-5zM258 115h5v5h-5zM327 115h5v5h-5zM224 120h5v5h-5zM233 120h5v5h-5zM224 125h5v5h-5zM140 130h5v4h-5zM179 130h5v4h-5zM233 130h5v4h-5zM351 130h5v4h-5zM130 134h5v5h-5zM140 134h5v5h-5zM229 134h4v5h-4zM283 134h4v5h-4zM92 139h4v5h-4zM179 139h5v5h-5zM209 139h5v5h-5zM243 139h5v5h-5zM332 139h5v5h-5zM92 144h4v5h-4zM140 144h5v5h-5zM199 144h5v5h-5zM204 144h5v5h-5zM302 144h5v5h-5zM307 144h5v5h-5zM351 144h5v5h-5zM145 149h5v5h-5zM155 149h5v5h-5zM170 149h5v5h-5zM287 149h5v5h-5zM121 154h4v5h-4zM184 154h5v5h-5zM317 154h5v5h-5zM322 154h5v5h-5zM366 154h5v5h-5zM194 159h5v5h-5zM263 159h5v5h-5zM341 159h5v5h-5zM361 159h5v5h-5zM125 164h5v5h-5zM165 164h5v5h-5zM170 164h5v5h-5zM356 164h5v5h-5zM371 164h5v5h-5zM121 169h4v5h-4zM160 169h5v5h-5zM170 169h5v5h-5zM184 169h5v5h-5zM263 169h5v5h-5zM268 169h5v5h-5zM371 169h5v5h-5zM111 174h5v5h-5zM125 174h5v5h-5zM194 174h5v5h-5zM258 174h5v5h-5zM263 174h5v5h-5zM273 174h5v5h-5zM106 179h5v5h-5zM125 179h5v5h-5zM214 179h5v5h-5zM263 179h5v5h-5zM366 179h5v5h-5zM179 184h5v5h-5zM189 184h5v5h-5zM258 184h5v5h-5zM273 184h5v5h-5zM312 184h5v5h-5zM145 189h5v5h-5zM209 189h5v5h-5zM233 189h5v5h-5zM238 189h5v5h-5zM273 189h5v5h-5zM322 189h5v5h-5zM361 189h5v5h-5zM366 194h5v5h-5zM194 199h5v4h-5zM292 199h5v4h-5zM312 199h5v4h-5zM351 199h5v4h-5zM150 203h5v5h-5zM209 203h5v5h-5zM224 203h5v5h-5zM229 203h4v5h-4zM283 203h4v5h-4zM96 208h5v5h-5zM111 208h5v5h-5zM189 208h5v5h-5zM111 213h5v5h-5zM189 213h5v5h-5zM268 213h5v5h-5zM317 213h5v5h-5zM96 218h5v5h-5zM111 218h5v5h-5zM263 218h5v5h-5zM268 218h5v5h-5zM278 218h5v5h-5zM317 218h5v5h-5zM341 218h5v5h-5zM366 218h5v5h-5zM111 223h5v5h-5zM116 223h5v5h-5zM135 223h5v5h-5zM233 223h5v5h-5zM253 223h5v5h-5zM258 223h5v5h-5zM341 223h5v5h-5zM111 228h5v5h-5zM283 228h4v5h-4zM312 228h5v5h-5zM346 228h5v5h-5zM204 233h5v5h-5zM219 233h5v5h-5zM229 233h4v5h-4zM346 233h5v5h-5zM106 238h5v5h-5zM307 238h5v5h-5zM268 243h5v5h-5zM224 248h5v5h-5zM263 248h5v5h-5zM346 248h5v5h-5zM233 253h5v5h-5zM101 258h5v5h-5zM194 258h5v5h-5zM327 263h5v5h-5zM125 268h5v5h-5zM224 268h5v5h-5zM243 268h5v5h-5zM322 268h5v5h-5zM351 268h5v5h-5zM248 273h5v4h-5zM258 273h5v4h-5zM194 277h5v5h-5zM219 277h5v5h-5zM278 277h5v5h-5zM312 277h5v5h-5zM135 282h5v5h-5zM165 282h5v5h-5zM179 282h5v5h-5zM356 282h5v5h-5zM361 282h5v5h-5zM371 282h5v5h-5zM92 287h4v5h-4zM135 287h5v5h-5zM140 287h5v5h-5zM150 287h5v5h-5zM302 287h5v5h-5zM92 292h4v5h-4zM238 292h5v5h-5zM332 292h5v5h-5zM214 297h5v5h-5zM243 297h5v5h-5zM312 297h5v5h-5zM150 302h5v5h-5zM283 302h4v5h-4zM287 302h5v5h-5zM96 307h5v5h-5zM145 307h5v5h-5zM160 307h5v5h-5zM278 307h5v5h-5zM356 307h5v5h-5zM361 307h5v5h-5z"/>
<path fill="#3c3c3c" d="M130 33h5v3h-5zM179 33h5v3h-5zM189 33h5v3h-5zM229 33h4v3h-4zM263 33h5v3h-5zM130 36h5v5h-5zM209 36h5v5h-5zM258 36h5v5h-5zM263 36h5v5h-5zM273 36h5v5h-5zM160 41h5v5h-5zM165 41h5v5h-5zM179 41h5v5h-5zM268 41h5v5h-5zM130 46h5v5h-5zM253 46h5v5h-5zM322 46h5v5h-5zM248 51h5v5h-5zM361 51h5v5h-5zM106 56h5v4h-5zM219 56h5v4h-5zM243 56h5v4h-5zM292 56h5v4h-5zM341 56h5v4h-5zM366 56h5v4h-5zM189 60h5v5h-5zM194 60h5v5h-5zM283 60h4v5h-4zM292 60h5v5h-5zM366 60h5v5h-5zM253 65h5v5h-5zM116 70h5v5h-5zM150 70h5v5h-5zM160 70h5v5h-5zM229 70h4v5h-4zM287 70h5v5h-5zM121 75h4v5h-4zM140 75h5v5h-5zM224 75h5v5h-5zM361 80h5v5h-5zM101 85h5v5h-5zM160 85h5v5h-5zM170 85h5v5h-5zM253 85h5v5h-5zM204 90h5v5h-5zM341 90h5v5h-5zM371 90h5v5h-5zM189 95h5v5h-5zM278 95h5v5h-5zM170 100h5v5h-5zM194 100h5v5h-5zM199 100h5v5h-5zM214 100h5v5h-5zM253 100h5v5h-5zM317 100h5v5h-5zM116 105h5v5h-5zM155 110h5v5h-5zM184 110h5v5h-5zM307 110h5v5h-5zM312 110h5v5h-5zM351 110h5v5h-5zM111 115h5v5h-5zM116 115h5v5h-5zM229 115h4v5h-4zM297 115h5v5h-5zM317 115h5v5h-5zM150 120h5v5h-5zM229 120h4v5h-4zM297 120h5v5h-5zM214 125h5v5h-5zM116 130h5v4h-5zM263 130h5v4h-5zM346 130h5v4h-5zM356 130h5v4h-5zM366 130h5v4h-5zM116 134h5v5h-5zM135 134h5v5h-5zM194 134h5v5h-5zM224 134h5v5h-5zM322 134h5v5h-5zM135 139h5v5h-5zM150 139h5v5h-5zM219 139h5v5h-5zM322 139h5v5h-5zM160 144h5v5h-5zM322 144h5v5h-5zM327 144h5v5h-5zM361 144h5v5h-5zM224 149h5v5h-5zM238 149h5v5h-5zM243 149h5v5h-5zM297 149h5v5h-5zM258 154h5v5h-5zM283 154h4v5h-4zM287 154h5v5h-5zM312 154h5v5h-5zM160 159h5v5h-5zM243 159h5v5h-5zM297 159h5v5h-5zM317 159h5v5h-5zM351 159h5v5h-5zM145 164h5v5h-5zM160 164h5v5h-5zM366 164h5v5h-5zM140 169h5v5h-5zM165 169h5v5h-5zM322 169h5v5h-5zM150 174h5v5h-5zM184 174h5v5h-5zM356 174h5v5h-5zM175 179h4v5h-4zM189 179h5v5h-5zM341 179h5v5h-5zM101 184h5v5h-5zM106 184h5v5h-5zM135 184h5v5h-5zM160 184h5v5h-5zM302 184h5v5h-5zM106 189h5v5h-5zM121 189h4v5h-4zM292 189h5v5h-5zM302 189h5v5h-5zM356 189h5v5h-5zM214 194h5v5h-5zM238 194h5v5h-5zM248 194h5v5h-5zM337 194h4v5h-4zM346 194h5v5h-5zM351 194h5v5h-5zM184 199h5v4h-5zM317 199h5v4h-5zM361 199h5v4h-5zM121 208h4v5h-4zM130 208h5v5h-5zM145 208h5v5h-5zM337 208h4v5h-4zM92 213h4v5h-4zM307 213h5v5h-5zM327 213h5v5h-5zM337 213h4v5h-4zM356 213h5v5h-5zM155 218h5v5h-5zM179 218h5v5h-5zM209 218h5v5h-5zM287 218h5v5h-5zM332 218h5v5h-5zM121 223h4v5h-4zM194 228h5v5h-5zM219 228h5v5h-5zM238 228h5v5h-5zM106 233h5v5h-5zM111 233h5v5h-5zM125 233h5v5h-5zM130 233h5v5h-5zM292 233h5v5h-5zM351 233h5v5h-5zM361 233h5v5h-5zM366 233h5v5h-5zM130 238h5v5h-5zM175 238h4v5h-4zM332 238h5v5h-5zM351 238h5v5h-5zM361 238h5v5h-5zM130 243h5v5h-5zM155 243h5v5h-5zM175 243h4v5h-4zM341 243h5v5h-5zM356 243h5v5h-5zM233 248h5v5h-5zM268 248h5v5h-5zM297 248h5v5h-5zM194 253h5v5h-5zM219 253h5v5h-5zM302 253h5v5h-5zM125 258h5v5h-5zM189 258h5v5h-5zM219 258h5v5h-5zM229 258h4v5h-4zM327 258h5v5h-5zM130 263h5v5h-5zM229 263h4v5h-4zM351 263h5v5h-5zM356 263h5v5h-5zM116 268h5v5h-5zM135 268h5v5h-5zM214 268h5v5h-5zM233 268h5v5h-5zM263 268h5v5h-5zM337 268h4v5h-4zM125 273h5v4h-5zM332 273h5v4h-5zM170 277h5v5h-5zM229 277h4v5h-4zM238 277h5v5h-5zM322 277h5v5h-5zM341 277h5v5h-5zM278 282h5v5h-5zM312 282h5v5h-5zM184 287h5v5h-5zM351 287h5v5h-5zM96 292h5v5h-5zM219 292h5v5h-5zM224 292h5v5h-5zM258 292h5v5h-5zM268 292h5v5h-5zM258 297h5v5h-5zM170 302h5v5h-5zM184 302h5v5h-5zM229 302h4v5h-4zM263 302h5v5h-5zM179 307h5v5h-5zM209 307h5v5h-5zM268 307h5v5h-5z"/>
<path fill="#404040" d="M170 33h5v3h-5zM224 33h5v3h-5zM238 33h5v3h-5zM258 33h5v3h-5zM160 36h5v5h-5zM204 36h5v5h-5zM292 36h5v5h-5zM204 41h5v5h-5zM297 41h5v5h-5zM307 41h5v5h-5zM371 41h5v5h-5zM170 46h5v5h-5zM292 46h5v5h-5zM346 46h5v5h-5zM351 46h5v5h-5zM135 56h5v4h-5zM121 60h4v5h-4zM160 60h5v5h-5zM165 60h5v5h-5zM224 60h5v5h-5zM337 60h4v5h-4zM145 65h5v5h-5zM224 65h5v5h-5zM243 65h5v5h-5zM219 70h5v5h-5zM253 70h5v5h-5zM371 70h5v5h-5zM135 75h5v5h-5zM145 75h5v5h-5zM165 75h5v5h-5zM194 75h5v5h-5zM145 80h5v5h-5zM253 80h5v5h-5zM346 80h5v5h-5zM150 85h5v5h-5zM361 85h5v5h-5zM317 90h5v5h-5zM219 95h5v5h-5zM248 95h5v5h-5zM307 95h5v5h-5zM371 95h5v5h-5zM189 100h5v5h-5zM238 100h5v5h-5zM273 100h5v5h-5zM214 105h5v5h-5zM125 110h5v5h-5zM219 110h5v5h-5zM258 110h5v5h-5zM302 110h5v5h-5zM160 115h5v5h-5zM184 115h5v5h-5zM214 115h5v5h-5zM224 115h5v5h-5zM307 115h5v5h-5zM346 115h5v5h-5zM209 120h5v5h-5zM214 120h5v5h-5zM253 120h5v5h-5zM273 120h5v5h-5zM92 125h4v5h-4zM96 125h5v5h-5zM116 125h5v5h-5zM135 125h5v5h-5zM150 125h5v5h-5zM371 125h5v5h-5zM125 130h5v4h-5zM199 130h5v4h-5zM214 130h5v4h-5zM317 130h5v4h-5zM209 134h5v5h-5zM214 134h5v5h-5zM253 134h5v5h-5zM258 134h5v5h-5zM307 134h5v5h-5zM170 139h5v5h-5zM199 139h5v5h-5zM204 139h5v5h-5zM302 139h5v5h-5zM96 144h5v5h-5zM106 144h5v5h-5zM253 144h5v5h-5zM96 149h5v5h-5zM194 149h5v5h-5zM233 149h5v5h-5zM273 149h5v5h-5zM317 149h5v5h-5zM150 154h5v5h-5zM214 154h5v5h-5zM243 154h5v5h-5zM292 154h5v5h-5zM341 154h5v5h-5zM121 159h4v5h-4zM125 159h5v5h-5zM135 159h5v5h-5zM273 159h5v5h-5zM92 164h4v5h-4zM96 164h5v5h-5zM273 164h5v5h-5zM346 164h5v5h-5zM130 169h5v5h-5zM253 169h5v5h-5zM273 169h5v5h-5zM96 174h5v5h-5zM184 179h5v5h-5zM278 179h5v5h-5zM307 179h5v5h-5zM332 179h5v5h-5zM125 184h5v5h-5zM229 184h4v5h-4zM248 184h5v5h-5zM278 184h5v5h-5zM327 184h5v5h-5zM332 184h5v5h-5zM150 189h5v5h-5zM278 189h5v5h-5zM106 194h5v5h-5zM125 194h5v5h-5zM155 194h5v5h-5zM179 194h5v5h-5zM199 194h5v5h-5zM307 194h5v5h-5zM322 194h5v5h-5zM106 199h5v4h-5zM125 199h5v4h-5zM165 199h5v4h-5zM175 199h4v4h-4zM179 199h5v4h-5zM189 199h5v4h-5zM233 199h5v4h-5zM283 199h4v4h-4zM366 199h5v4h-5zM121 203h4v5h-4zM155 203h5v5h-5zM170 203h5v5h-5zM233 203h5v5h-5zM292 203h5v5h-5zM297 203h5v5h-5zM302 203h5v5h-5zM155 208h5v5h-5zM278 213h5v5h-5zM312 213h5v5h-5zM125 218h5v5h-5zM170 218h5v5h-5zM219 218h5v5h-5zM140 223h5v5h-5zM160 223h5v5h-5zM165 223h5v5h-5zM170 223h5v5h-5zM179 223h5v5h-5zM243 223h5v5h-5zM130 228h5v5h-5zM287 228h5v5h-5zM297 228h5v5h-5zM307 228h5v5h-5zM258 233h5v5h-5zM278 233h5v5h-5zM283 233h4v5h-4zM317 233h5v5h-5zM189 243h5v5h-5zM101 248h5v5h-5zM214 248h5v5h-5zM327 248h5v5h-5zM204 253h5v5h-5zM111 258h5v5h-5zM160 258h5v5h-5zM165 258h5v5h-5zM184 258h5v5h-5zM302 258h5v5h-5zM268 263h5v5h-5zM170 268h5v5h-5zM283 268h4v5h-4zM116 273h5v4h-5zM145 273h5v4h-5zM150 282h5v5h-5zM302 282h5v5h-5zM224 287h5v5h-5zM229 287h4v5h-4zM366 287h5v5h-5zM165 292h5v5h-5zM278 292h5v5h-5zM111 297h5v5h-5zM224 297h5v5h-5zM283 297h4v5h-4zM287 297h5v5h-5zM351 297h5v5h-5zM121 302h4v5h-4zM165 302h5v5h-5zM224 307h5v5h-5zM273 307h5v5h-5z"/>
<path fill="#444444" d="M140 33h5v3h-5zM175 33h4v3h-4zM243 33h5v3h-5zM278 33h5v3h-5zM135 36h5v5h-5zM150 36h5v5h-5zM351 36h5v5h-5zM170 41h5v5h-5zM194 41h5v5h-5zM199 41h5v5h-5zM356 41h5v5h-5zM96 46h5v5h-5zM258 46h5v5h-5zM371 46h5v5h-5zM135 51h5v5h-5zM121 56h4v4h-4zM130 56h5v4h-5zM297 56h5v4h-5zM111 60h5v5h-5zM371 60h5v5h-5zM96 65h5v5h-5zM238 65h5v5h-5zM327 65h5v5h-5zM233 70h5v5h-5zM283 70h4v5h-4zM361 75h5v5h-5zM199 80h5v5h-5zM278 80h5v5h-5zM341 80h5v5h-5zM356 80h5v5h-5zM179 85h5v5h-5zM224 85h5v5h-5zM302 85h5v5h-5zM356 85h5v5h-5zM184 90h5v5h-5zM194 90h5v5h-5zM199 90h5v5h-5zM248 90h5v5h-5zM273 90h5v5h-5zM283 95h4v5h-4zM121 110h4v5h-4zM170 110h5v5h-5zM179 110h5v5h-5zM199 115h5v5h-5zM253 115h5v5h-5zM116 120h5v5h-5zM175 120h4v5h-4zM351 120h5v5h-5zM111 125h5v5h-5zM258 125h5v5h-5zM263 125h5v5h-5zM106 130h5v4h-5zM224 130h5v4h-5zM229 130h4v4h-4zM268 130h5v4h-5zM92 134h4v5h-4zM106 139h5v5h-5zM130 139h5v5h-5zM238 139h5v5h-5zM337 139h4v5h-4zM371 139h5v5h-5zM111 144h5v5h-5zM125 144h5v5h-5zM243 144h5v5h-5zM292 144h5v5h-5zM297 144h5v5h-5zM332 144h5v5h-5zM101 149h5v5h-5zM140 149h5v5h-5zM184 149h5v5h-5zM219 149h5v5h-5zM106 154h5v5h-5zM199 154h5v5h-5zM204 154h5v5h-5zM111 159h5v5h-5zM209 159h5v5h-5zM268 159h5v5h-5zM317 164h5v5h-5zM322 164h5v5h-5zM356 169h5v5h-5zM209 174h5v5h-5zM327 174h5v5h-5zM337 174h4v5h-4zM130 179h5v5h-5zM204 179h5v5h-5zM341 189h5v5h-5zM351 189h5v5h-5zM170 194h5v5h-5zM184 194h5v5h-5zM209 194h5v5h-5zM145 199h5v4h-5zM248 199h5v4h-5zM111 203h5v5h-5zM307 203h5v5h-5zM366 203h5v5h-5zM140 208h5v5h-5zM224 208h5v5h-5zM263 208h5v5h-5zM273 208h5v5h-5zM297 208h5v5h-5zM302 208h5v5h-5zM307 208h5v5h-5zM351 208h5v5h-5zM96 213h5v5h-5zM341 213h5v5h-5zM145 223h5v5h-5zM155 223h5v5h-5zM194 223h5v5h-5zM312 223h5v5h-5zM346 223h5v5h-5zM150 228h5v5h-5zM214 228h5v5h-5zM253 228h5v5h-5zM209 233h5v5h-5zM312 233h5v5h-5zM111 238h5v5h-5zM209 238h5v5h-5zM233 238h5v5h-5zM287 238h5v5h-5zM366 238h5v5h-5zM96 243h5v5h-5zM125 243h5v5h-5zM229 243h4v5h-4zM233 243h5v5h-5zM283 243h4v5h-4zM312 243h5v5h-5zM92 248h4v5h-4zM229 248h4v5h-4zM307 248h5v5h-5zM332 248h5v5h-5zM341 248h5v5h-5zM371 248h5v5h-5zM160 253h5v5h-5zM189 253h5v5h-5zM224 253h5v5h-5zM351 253h5v5h-5zM96 258h5v5h-5zM111 263h5v5h-5zM307 263h5v5h-5zM346 263h5v5h-5zM165 268h5v5h-5zM238 268h5v5h-5zM278 268h5v5h-5zM135 273h5v4h-5zM219 273h5v4h-5zM224 273h5v4h-5zM233 273h5v4h-5zM263 273h5v4h-5zM351 273h5v4h-5zM92 277h4v5h-4zM243 277h5v5h-5zM371 277h5v5h-5zM224 282h5v5h-5zM101 287h5v5h-5zM116 287h5v5h-5zM145 287h5v5h-5zM283 287h4v5h-4zM189 292h5v5h-5zM361 292h5v5h-5zM116 297h5v5h-5zM175 297h4v5h-4zM322 297h5v5h-5zM337 297h4v5h-4zM341 297h5v5h-5zM219 302h5v5h-5zM224 302h5v5h-5zM278 302h5v5h-5zM292 302h5v5h-5zM150 307h5v5h-5zM165 307h5v5h-5z"/>
<path fill="#484848" d="M292 33h5v3h-5zM356 33h5v3h-5zM248 36h5v5h-5zM140 41h5v5h-5zM317 46h5v5h-5zM253 51h5v5h-5zM263 51h5v5h-5zM371 51h5v5h-5zM258 56h5v4h-5zM116 60h5v5h-5zM307 60h5v5h-5zM194 65h5v5h-5zM337 65h4v5h-4zM371 65h5v5h-5zM140 70h5v5h-5zM184 70h5v5h-5zM214 70h5v5h-5zM199 75h5v5h-5zM337 75h4v5h-4zM287 80h5v5h-5zM116 90h5v5h-5zM155 90h5v5h-5zM189 90h5v5h-5zM312 95h5v5h-5zM219 100h5v5h-5zM248 100h5v5h-5zM121 105h4v5h-4zM125 105h5v5h-5zM179 105h5v5h-5zM199 110h5v5h-5zM170 115h5v5h-5zM209 115h5v5h-5zM356 115h5v5h-5zM287 120h5v5h-5zM194 125h5v5h-5zM273 125h5v5h-5zM332 125h5v5h-5zM150 130h5v4h-5zM165 130h5v4h-5zM248 130h5v4h-5zM297 130h5v4h-5zM327 130h5v4h-5zM253 139h5v5h-5zM101 144h5v5h-5zM184 144h5v5h-5zM229 144h4v5h-4zM263 144h5v5h-5zM273 144h5v5h-5zM248 149h5v5h-5zM337 149h4v5h-4zM229 154h4v5h-4zM248 154h5v5h-5zM116 159h5v5h-5zM175 159h4v5h-4zM199 164h5v5h-5zM209 164h5v5h-5zM297 164h5v5h-5zM287 169h5v5h-5zM292 169h5v5h-5zM366 169h5v5h-5zM140 174h5v5h-5zM199 174h5v5h-5zM92 179h4v5h-4zM233 179h5v5h-5zM258 179h5v5h-5zM283 179h4v5h-4zM356 179h5v5h-5zM287 184h5v5h-5zM292 184h5v5h-5zM337 184h4v5h-4zM366 184h5v5h-5zM116 189h5v5h-5zM229 189h4v5h-4zM243 189h5v5h-5zM263 189h5v5h-5zM297 189h5v5h-5zM332 189h5v5h-5zM160 194h5v5h-5zM327 194h5v5h-5zM116 203h5v5h-5zM332 208h5v5h-5zM361 208h5v5h-5zM258 213h5v5h-5zM263 213h5v5h-5zM283 213h4v5h-4zM322 213h5v5h-5zM238 218h5v5h-5zM273 223h5v5h-5zM135 228h5v5h-5zM356 228h5v5h-5zM92 233h4v5h-4zM101 233h5v5h-5zM214 233h5v5h-5zM96 238h5v5h-5zM135 238h5v5h-5zM140 243h5v5h-5zM224 243h5v5h-5zM243 243h5v5h-5zM145 248h5v5h-5zM204 248h5v5h-5zM130 253h5v5h-5zM238 258h5v5h-5zM233 263h5v5h-5zM92 268h4v5h-4zM273 268h5v5h-5zM96 273h5v4h-5zM189 273h5v4h-5zM155 277h5v5h-5zM366 277h5v5h-5zM155 282h5v5h-5zM287 282h5v5h-5zM96 287h5v5h-5zM111 287h5v5h-5zM253 287h5v5h-5zM258 287h5v5h-5zM150 292h5v5h-5zM341 292h5v5h-5zM346 292h5v5h-5zM155 297h5v5h-5zM292 297h5v5h-5zM356 297h5v5h-5zM116 302h5v5h-5zM351 302h5v5h-5zM189 307h5v5h-5zM233 307h5v5h-5z"/>
<path fill="#4c4c4c" d="M175 36h4v5h-4zM243 36h5v5h-5zM366 36h5v5h-5zM155 41h5v5h-5zM155 46h5v5h-5zM179 46h5v5h-5zM184 46h5v5h-5zM189 46h5v5h-5zM366 46h5v5h-5zM140 51h5v5h-5zM302 51h5v5h-5zM317 51h5v5h-5zM332 56h5v4h-5zM92 65h4v5h-4zM160 65h5v5h-5zM297 65h5v5h-5zM209 70h5v5h-5zM224 70h5v5h-5zM337 70h4v5h-4zM106 75h5v5h-5zM332 75h5v5h-5zM92 80h4v5h-4zM140 90h5v5h-5zM150 90h5v5h-5zM170 90h5v5h-5zM209 90h5v5h-5zM258 90h5v5h-5zM287 90h5v5h-5zM302 90h5v5h-5zM116 95h5v5h-5zM238 95h5v5h-5zM243 95h5v5h-5zM346 95h5v5h-5zM351 95h5v5h-5zM366 95h5v5h-5zM92 110h4v5h-4zM341 110h5v5h-5zM175 115h4v5h-4zM199 125h5v5h-5zM229 125h4v5h-4zM268 125h5v5h-5zM130 130h5v4h-5zM160 130h5v4h-5zM287 130h5v4h-5zM155 134h5v5h-5zM204 134h5v5h-5zM292 134h5v5h-5zM327 134h5v5h-5zM337 134h4v5h-4zM96 139h5v5h-5zM145 139h5v5h-5zM229 139h4v5h-4zM312 139h5v5h-5zM175 144h4v5h-4zM356 144h5v5h-5zM116 149h5v5h-5zM292 149h5v5h-5zM351 149h5v5h-5zM356 149h5v5h-5zM140 154h5v5h-5zM145 154h5v5h-5zM248 159h5v5h-5zM204 164h5v5h-5zM204 174h5v5h-5zM101 179h5v5h-5zM111 179h5v5h-5zM179 179h5v5h-5zM111 194h5v5h-5zM116 194h5v5h-5zM140 194h5v5h-5zM283 194h4v5h-4zM111 199h5v4h-5zM150 199h5v4h-5zM229 199h4v4h-4zM287 199h5v4h-5zM332 199h5v4h-5zM140 203h5v5h-5zM322 203h5v5h-5zM116 208h5v5h-5zM101 213h5v5h-5zM160 213h5v5h-5zM165 213h5v5h-5zM175 213h4v5h-4zM273 213h5v5h-5zM106 218h5v5h-5zM302 218h5v5h-5zM307 218h5v5h-5zM130 223h5v5h-5zM292 223h5v5h-5zM302 223h5v5h-5zM101 228h5v5h-5zM258 228h5v5h-5zM140 233h5v5h-5zM165 238h5v5h-5zM170 238h5v5h-5zM219 238h5v5h-5zM238 238h5v5h-5zM322 238h5v5h-5zM116 243h5v5h-5zM302 243h5v5h-5zM322 243h5v5h-5zM332 243h5v5h-5zM130 248h5v5h-5zM170 248h5v5h-5zM92 258h4v5h-4zM263 258h5v5h-5zM371 258h5v5h-5zM165 263h5v5h-5zM214 263h5v5h-5zM361 263h5v5h-5zM366 263h5v5h-5zM189 268h5v5h-5zM327 268h5v5h-5zM356 268h5v5h-5zM361 268h5v5h-5zM268 273h5v4h-5zM283 273h4v4h-4zM292 277h5v5h-5zM332 277h5v5h-5zM106 282h5v5h-5zM179 287h5v5h-5zM341 287h5v5h-5zM356 287h5v5h-5zM106 292h5v5h-5zM145 292h5v5h-5zM140 297h5v5h-5zM189 297h5v5h-5zM229 307h4v5h-4zM243 307h5v5h-5z"/>
<path fill="#505050" d="M135 33h5v3h-5zM155 33h5v3h-5zM337 33h4v3h-4zM170 36h5v5h-5zM140 46h5v5h-5zM302 46h5v5h-5zM366 51h5v5h-5zM297 60h5v5h-5zM189 70h5v5h-5zM287 75h5v5h-5zM366 75h5v5h-5zM101 80h5v5h-5zM268 80h5v5h-5zM371 80h5v5h-5zM297 90h5v5h-5zM263 95h5v5h-5zM243 100h5v5h-5zM253 105h5v5h-5zM273 105h5v5h-5zM337 110h4v5h-4zM106 115h5v5h-5zM155 120h5v5h-5zM312 120h5v5h-5zM170 125h5v5h-5zM292 125h5v5h-5zM92 130h4v4h-4zM283 130h4v4h-4zM371 134h5v5h-5zM337 144h4v5h-4zM179 149h5v5h-5zM258 149h5v5h-5zM283 159h4v5h-4zM287 164h5v5h-5zM322 174h5v5h-5zM194 179h5v5h-5zM219 179h5v5h-5zM199 184h5v5h-5zM233 184h5v5h-5zM268 189h5v5h-5zM317 189h5v5h-5zM317 203h5v5h-5zM312 208h5v5h-5zM96 228h5v5h-5zM278 228h5v5h-5zM351 228h5v5h-5zM233 233h5v5h-5zM101 238h5v5h-5zM160 238h5v5h-5zM278 238h5v5h-5zM312 238h5v5h-5zM317 238h5v5h-5zM170 243h5v5h-5zM209 243h5v5h-5zM327 243h5v5h-5zM346 243h5v5h-5zM125 248h5v5h-5zM135 248h5v5h-5zM160 248h5v5h-5zM116 253h5v5h-5zM312 253h5v5h-5zM322 253h5v5h-5zM371 253h5v5h-5zM341 258h5v5h-5zM116 263h5v5h-5zM258 263h5v5h-5zM263 263h5v5h-5zM121 273h4v4h-4zM238 273h5v4h-5zM297 277h5v5h-5zM327 282h5v5h-5zM346 282h5v5h-5zM366 282h5v5h-5zM175 292h4v5h-4zM125 302h5v5h-5zM243 302h5v5h-5zM297 302h5v5h-5zM337 302h4v5h-4z"/>
<path fill="#545454" d="M160 33h5v3h-5zM297 33h5v3h-5zM307 36h5v5h-5zM175 41h4v5h-4zM307 46h5v5h-5zM111 56h5v4h-5zM116 56h5v4h-5zM165 56h5v4h-5zM175 56h4v4h-4zM337 56h4v4h-4zM327 60h5v5h-5zM116 75h5v5h-5zM96 80h5v5h-5zM273 80h5v5h-5zM283 80h4v5h-4zM214 95h5v5h-5zM106 105h5v5h-5zM287 115h5v5h-5zM341 115h5v5h-5zM283 120h4v5h-4zM337 120h4v5h-4zM253 125h5v5h-5zM297 125h5v5h-5zM135 130h5v4h-5zM258 130h5v4h-5zM96 134h5v5h-5zM160 134h5v5h-5zM101 139h5v5h-5zM160 139h5v5h-5zM258 139h5v5h-5zM233 144h5v5h-5zM356 154h5v5h-5zM145 159h5v5h-5zM150 159h5v5h-5zM287 159h5v5h-5zM130 164h5v5h-5zM184 164h5v5h-5zM361 174h5v5h-5zM199 179h5v5h-5zM111 184h5v5h-5zM130 184h5v5h-5zM184 184h5v5h-5zM111 189h5v5h-5zM199 189h5v5h-5zM307 189h5v5h-5zM346 189h5v5h-5zM258 203h5v5h-5zM287 203h5v5h-5zM312 203h5v5h-5zM101 218h5v5h-5zM248 218h5v5h-5zM283 218h4v5h-4zM125 223h5v5h-5zM219 223h5v5h-5zM287 223h5v5h-5zM297 223h5v5h-5zM307 223h5v5h-5zM155 228h5v5h-5zM121 238h4v5h-4zM96 248h5v5h-5zM121 248h4v5h-4zM209 248h5v5h-5zM312 248h5v5h-5zM356 248h5v5h-5zM140 253h5v5h-5zM170 253h5v5h-5zM356 253h5v5h-5zM116 258h5v5h-5zM258 258h5v5h-5zM337 263h4v5h-4zM96 277h5v5h-5zM351 277h5v5h-5zM346 287h5v5h-5zM263 292h5v5h-5zM356 292h5v5h-5zM116 307h5v5h-5zM130 307h5v5h-5zM238 307h5v5h-5zM346 307h5v5h-5z"/>
<path fill="#585858" d="M189 36h5v5h-5zM332 36h5v5h-5zM189 41h5v5h-5zM332 41h5v5h-5zM150 46h5v5h-5zM322 51h5v5h-5zM302 56h5v4h-5zM307 56h5v4h-5zM302 60h5v5h-5zM332 60h5v5h-5zM184 65h5v5h-5zM189 65h5v5h-5zM332 65h5v5h-5zM106 70h5v5h-5zM332 70h5v5h-5zM92 75h4v5h-4zM283 75h4v5h-4zM258 80h5v5h-5zM263 80h5v5h-5zM278 85h5v5h-5zM287 85h5v5h-5zM258 95h5v5h-5zM209 100h5v5h-5zM111 105h5v5h-5zM194 105h5v5h-5zM199 105h5v5h-5zM224 105h5v5h-5zM111 110h5v5h-5zM189 110h5v5h-5zM194 110h5v5h-5zM224 110h5v5h-5zM189 115h5v5h-5zM194 115h5v5h-5zM332 115h5v5h-5zM101 120h5v5h-5zM106 120h5v5h-5zM111 120h5v5h-5zM165 120h5v5h-5zM194 120h5v5h-5zM155 125h5v5h-5zM96 130h5v4h-5zM101 130h5v4h-5zM243 130h5v4h-5zM292 130h5v4h-5zM106 134h5v5h-5zM199 134h5v5h-5zM238 134h5v5h-5zM258 144h5v5h-5zM106 149h5v5h-5zM263 149h5v5h-5zM116 154h5v5h-5zM238 154h5v5h-5zM155 159h5v5h-5zM184 159h5v5h-5zM135 164h5v5h-5zM175 164h4v5h-4zM248 164h5v5h-5zM258 164h5v5h-5zM292 164h5v5h-5zM175 169h4v5h-4zM179 169h5v5h-5zM361 169h5v5h-5zM175 174h4v5h-4zM219 174h5v5h-5zM229 179h4v5h-4zM253 179h5v5h-5zM337 179h4v5h-4zM361 179h5v5h-5zM194 184h5v5h-5zM263 184h5v5h-5zM346 184h5v5h-5zM351 184h5v5h-5zM189 189h5v5h-5zM194 189h5v5h-5zM312 189h5v5h-5zM116 199h5v4h-5zM253 199h5v4h-5zM258 199h5v4h-5zM145 203h5v5h-5zM160 203h5v5h-5zM165 203h5v5h-5zM248 203h5v5h-5zM332 203h5v5h-5zM165 208h5v5h-5zM322 208h5v5h-5zM96 223h5v5h-5zM101 223h5v5h-5zM292 228h5v5h-5zM214 238h5v5h-5zM327 238h5v5h-5zM101 243h5v5h-5zM121 243h4v5h-4zM317 243h5v5h-5zM351 243h5v5h-5zM165 248h5v5h-5zM351 248h5v5h-5zM92 253h4v5h-4zM125 253h5v5h-5zM165 253h5v5h-5zM307 253h5v5h-5zM312 258h5v5h-5zM92 273h4v4h-4zM361 273h5v4h-5zM125 287h5v5h-5zM263 297h5v5h-5z"/>
<path fill="#5c5c5c" d="M184 33h5v3h-5zM184 36h5v5h-5zM150 41h5v5h-5zM184 41h5v5h-5zM175 46h4v5h-4zM111 70h5v5h-5zM214 75h5v5h-5zM155 85h5v5h-5zM189 85h5v5h-5zM258 85h5v5h-5zM268 85h5v5h-5zM283 85h4v5h-4zM283 90h4v5h-4zM292 115h5v5h-5zM96 120h5v5h-5zM199 120h5v5h-5zM278 120h5v5h-5zM292 120h5v5h-5zM307 120h5v5h-5zM278 125h5v5h-5zM283 125h4v5h-4zM238 130h5v4h-5zM253 130h5v4h-5zM312 130h5v4h-5zM332 130h5v4h-5zM243 134h5v5h-5zM332 134h5v5h-5zM111 154h5v5h-5zM170 154h5v5h-5zM233 154h5v5h-5zM263 154h5v5h-5zM219 159h5v5h-5zM238 159h5v5h-5zM366 159h5v5h-5zM179 174h5v5h-5zM327 179h5v5h-5zM96 184h5v5h-5zM317 208h5v5h-5zM106 213h5v5h-5zM125 213h5v5h-5zM214 218h5v5h-5zM361 218h5v5h-5zM189 223h5v5h-5zM214 223h5v5h-5zM233 228h5v5h-5zM116 238h5v5h-5zM356 238h5v5h-5zM160 243h5v5h-5zM337 243h4v5h-4zM337 248h4v5h-4zM96 253h5v5h-5zM121 258h4v5h-4zM135 258h5v5h-5zM371 263h5v5h-5zM356 277h5v5h-5zM170 282h5v5h-5zM292 282h5v5h-5zM297 282h5v5h-5zM351 282h5v5h-5zM179 297h5v5h-5zM341 307h5v5h-5z"/>
<path fill="#606060" d="M150 80h5v5h-5zM184 85h5v5h-5zM263 85h5v5h-5zM106 110h5v5h-5zM337 115h4v5h-4zM101 134h5v5h-5zM111 149h5v5h-5zM179 159h5v5h-5zM233 159h5v5h-5zM179 164h5v5h-5zM248 179h5v5h-5zM243 184h5v5h-5zM356 184h5v5h-5zM179 189h5v5h-5zM253 203h5v5h-5zM160 208h5v5h-5z"/>
<path fill="#646464" d="M297 46h5v5h-5zM361 46h5v5h-5zM92 56h4v4h-4zM125 56h5v4h-5zM248 56h5v4h-5zM219 60h5v5h-5zM121 70h4v5h-4zM243 70h5v5h-5zM327 70h5v5h-5zM219 75h5v5h-5zM263 90h5v5h-5zM278 90h5v5h-5zM204 95h5v5h-5zM175 100h4v5h-4zM346 110h5v5h-5zM233 115h5v5h-5zM302 120h5v5h-5zM322 130h5v4h-5zM92 149h4v5h-4zM327 149h5v5h-5zM268 154h5v5h-5zM346 159h5v5h-5zM125 169h5v5h-5zM96 179h5v5h-5zM307 184h5v5h-5zM361 184h5v5h-5zM175 189h4v5h-4zM194 194h5v5h-5zM243 194h5v5h-5zM209 199h5v4h-5zM125 208h5v5h-5zM332 213h5v5h-5zM189 218h5v5h-5zM125 238h5v5h-5zM346 238h5v5h-5zM214 243h5v5h-5zM219 248h5v5h-5zM243 248h5v5h-5zM302 248h5v5h-5zM101 253h5v5h-5zM121 253h4v5h-4zM317 253h5v5h-5zM125 263h5v5h-5zM332 268h5v5h-5zM194 273h5v4h-5zM243 273h5v4h-5zM356 273h5v4h-5zM224 277h5v5h-5zM175 282h4v5h-4zM179 292h5v5h-5zM238 297h5v5h-5zM209 302h5v5h-5z"/>
<path fill="#686868" d="M337 36h4v5h-4zM356 36h5v5h-5zM302 41h5v5h-5zM356 46h5v5h-5zM130 51h5v5h-5zM194 70h5v5h-5zM253 95h5v5h-5zM341 95h5v5h-5zM219 105h5v5h-5zM317 105h5v5h-5zM116 110h5v5h-5zM287 134h5v5h-5zM135 144h5v5h-5zM204 159h5v5h-5zM243 164h5v5h-5zM121 184h4v5h-4zM337 189h4v5h-4zM121 199h4v4h-4zM111 268h5v5h-5zM283 277h4v5h-4z"/>
<path fill="#6c6c6c" d="M229 159h4v5h-4z"/>
<path fill="#707070" d="M155 36h5v5h-5zM145 41h5v5h-5zM258 51h5v5h-5zM307 51h5v5h-5zM253 56h5v4h-5zM238 70h5v5h-5zM273 85h5v5h-5zM371 85h5v5h-5zM214 90h5v5h-5zM253 90h5v5h-5zM175 110h4v5h-4zM297 110h5v5h-5zM351 115h5v5h-5zM332 120h5v5h-5zM307 139h5v5h-5zM130 144h5v5h-5zM179 144h5v5h-5zM238 144h5v5h-5zM322 149h5v5h-5zM346 154h5v5h-5zM199 159h5v5h-5zM224 159h5v5h-5zM292 159h5v5h-5zM140 164h5v5h-5zM233 174h5v5h-5zM224 179h5v5h-5zM283 184h4v5h-4zM297 184h5v5h-5zM341 184h5v5h-5zM287 189h5v5h-5zM121 194h4v5h-4zM150 194h5v5h-5zM175 194h4v5h-4zM189 194h5v5h-5zM312 194h5v5h-5zM160 199h5v4h-5zM170 213h5v5h-5zM317 223h5v5h-5zM165 243h5v5h-5zM219 243h5v5h-5zM238 243h5v5h-5zM307 243h5v5h-5zM140 248h5v5h-5zM238 248h5v5h-5zM233 258h5v5h-5zM322 258h5v5h-5zM219 268h5v5h-5zM268 268h5v5h-5zM278 273h5v4h-5zM327 273h5v4h-5zM283 282h4v5h-4zM361 287h5v5h-5zM337 292h4v5h-4zM278 297h5v5h-5zM346 297h5v5h-5zM145 302h5v5h-5zM214 302h5v5h-5zM238 302h5v5h-5zM184 307h5v5h-5z"/>
<path fill="#787878" d="M366 41h5v5h-5zM145 70h5v5h-5zM165 125h5v5h-5zM238 179h5v5h-5zM278 223h5v5h-5zM150 297h5v5h-5zM184 297h5v5h-5z"/>
<path fill="#808080" d="M273 33h5v3h-5zM371 75h5v5h-5zM175 105h4v5h-4zM312 115h5v5h-5zM155 130h5v4h-5zM351 154h5v5h-5zM140 159h5v5h-5zM248 169h5v5h-5zM248 174h5v5h-5zM243 179h5v5h-5zM283 189h4v5h-4zM327 189h5v5h-5zM317 194h5v5h-5zM341 194h5v5h-5zM243 218h5v5h-5zM283 223h4v5h-4zM135 233h5v5h-5zM283 238h4v5h-4zM307 258h5v5h-5zM219 263h5v5h-5zM341 263h5v5h-5zM273 273h5v4h-5zM327 277h5v5h-5zM106 287h5v5h-5zM184 292h5v5h-5zM145 297h5v5h-5zM346 302h5v5h-5z"/>
<path fill="#848484" d="M219 169h5v5h-5zM125 307h5v5h-5z"/>
<path fill="#8c8c8c" d="M170 120h5v5h-5zM219 164h5v5h-5zM229 174h4v5h-4zM184 189h5v5h-5zM155 199h5v4h-5zM96 233h5v5h-5zM322 248h5v5h-5zM135 253h5v5h-5zM341 302h5v5h-5zM121 307h4v5h-4z"/>
<path fill="#949494" d="M160 120h5v5h-5zM224 164h5v5h-5zM233 164h5v5h-5zM238 169h5v5h-5zM243 169h5v5h-5zM238 174h5v5h-5z"/>
<path fill="#9c9c9c" d="M209 95h5v5h-5zM160 125h5v5h-5zM238 164h5v5h-5zM317 248h5v5h-5z"/>
<path fill="#a4a4a4" d="M229 164h4v5h-4z"/>
<path fill="#bcbcbc" d="M224 169h5v5h-5zM233 169h5v5h-5z"/>
<path fill="#c4c4c4" d="M243 174h5v5h-5z"/>
<path fill="#d0d0d0" d="M229 169h4v5h-4z"/>
<path fill="#ececec" d="M224 174h5v5h-5z"/>
</g>
<path d="M227.4 168.3L235.6 176.5M227.4 176.5L235.6 168.3" stroke="#ff0000" stroke-width="1.6" fill="none"/>
<path d="M254.3 179.4L262.5 187.6M254.3 187.6L262.5 179.4" stroke="#0000ff" stroke-width="1.6" fill="none"/>
<rect x="91.5" y="32.5" width="285" height="280" fill="none" stroke="#000" stroke-width="1.11"/>
<line x1="127.6" y1="32.5" x2="128.45" y2="27.6" stroke="#000" stroke-width="1.35"/>
<line x1="187.1" y1="32.5" x2="187.95" y2="27.6" stroke="#000" stroke-width="1.35"/>
<line x1="246.6" y1="32.5" x2="247.45" y2="27.6" stroke="#000" stroke-width="1.35"/>
<line x1="306.1" y1="32.5" x2="306.95" y2="27.6" stroke="#000" stroke-width="1.35"/>
<line x1="365.6" y1="32.5" x2="366.45" y2="27.6" stroke="#000" stroke-width="1.35"/>
<line x1="133.6" y1="312.5" x2="132.6" y2="317.3" stroke="#000" stroke-width="1.35"/>
<line x1="192.5" y1="312.5" x2="191.5" y2="317.3" stroke="#000" stroke-width="1.35"/>
<line x1="251.5" y1="312.5" x2="250.5" y2="317.3" stroke="#000" stroke-width="1.35"/>
<line x1="310.2" y1="312.5" x2="309.2" y2="317.3" stroke="#000" stroke-width="1.35"/>
<line x1="368.6" y1="312.5" x2="367.6" y2="317.3" stroke="#000" stroke-width="1.35"/>
<line x1="91.5" y1="72.4" x2="86.6" y2="71.05" stroke="#000" stroke-width="1.35"/>
<line x1="91.5" y1="143.7" x2="86.6" y2="142.35" stroke="#000" stroke-width="1.35"/>
<line x1="91.5" y1="215.7" x2="86.6" y2="214.35" stroke="#000" stroke-width="1.35"/>
<line x1="91.5" y1="286.7" x2="86.6" y2="285.35" stroke="#000" stroke-width="1.35"/>
<line x1="376.5" y1="55" x2="381.2" y2="56.3" stroke="#000" stroke-width="1.35"/>
<line x1="376.5" y1="127" x2="381.2" y2="128.3" stroke="#000" stroke-width="1.35"/>
<line x1="376.5" y1="199" x2="381.2" y2="200.3" stroke="#000" stroke-width="1.35"/>
<line x1="376.5" y1="271.1" x2="381.2" y2="272.4" stroke="#000" stroke-width="1.35"/>
<line x1="254.5" y1="32.2" x2="259.2" y2="31.2" stroke="#000" stroke-width="1"/>
<line x1="91.3" y1="226.5" x2="90.6" y2="222" stroke="#000" stroke-width="1"/>
<line x1="224.5" y1="312.5" x2="219.8" y2="313.4" stroke="#000" stroke-width="1"/>
<line x1="376.8" y1="267.6" x2="377.5" y2="270.4" stroke="#000" stroke-width="1"/>
<text x="80.55" y="75.5" font-size="13.89" text-anchor="end"><tspan dx="1.4">-</tspan><tspan dx="-1.4">28°00'</tspan></text>
<text x="80.9" y="147.5" font-size="13.89" text-anchor="end">15'</text>
<text x="79.9" y="219.5" font-size="13.89" text-anchor="end">30'</text>
<text x="80.9" y="290.5" font-size="13.89" text-anchor="end">45'</text>
<text x="0" y="0" font-size="16.67" text-anchor="middle" transform="matrix(0.965 0 0 1.075 234 24)">Filter</text>
<text x="21.2" y="174.7" font-size="13.89" text-anchor="middle" transform="rotate(-90 21.2 174.7)">Dec</text>
<rect x="382.5" y="32.5" width="9" height="280" fill="url(#gcb)"/>
<rect x="382.5" y="32.5" width="9" height="280" fill="none" stroke="#000" stroke-width="1.11"/>
<line x1="391.5" y1="285.5" x2="396.86" y2="285.5" stroke="#000" stroke-width="1.11"/>
<text x="401.8" y="290.55" font-size="13.89" text-anchor="start">0.1</text>
<line x1="391.5" y1="251.5" x2="396.86" y2="251.5" stroke="#000" stroke-width="1.11"/>
<text x="401.8" y="256.55" font-size="13.89" text-anchor="start">0.2</text>
<line x1="391.5" y1="217.5" x2="396.86" y2="217.5" stroke="#000" stroke-width="1.11"/>
<text x="401.8" y="222.55" font-size="13.89" text-anchor="start">0.3</text>
<line x1="391.5" y1="184.5" x2="396.86" y2="184.5" stroke="#000" stroke-width="1.11"/>
<text x="401.8" y="189.55" font-size="13.89" text-anchor="start">0.4</text>
<line x1="391.5" y1="150.5" x2="396.86" y2="150.5" stroke="#000" stroke-width="1.11"/>
<text x="401.8" y="155.55" font-size="13.89" text-anchor="start">0.5</text>
<line x1="391.5" y1="116.5" x2="396.86" y2="116.5" stroke="#000" stroke-width="1.11"/>
<text x="401.8" y="121.55" font-size="13.89" text-anchor="start">0.6</text>
<line x1="391.5" y1="83.5" x2="396.86" y2="83.5" stroke="#000" stroke-width="1.11"/>
<text x="401.8" y="88.55" font-size="13.89" text-anchor="start">0.7</text>
<line x1="391.5" y1="49.5" x2="396.86" y2="49.5" stroke="#000" stroke-width="1.11"/>
<text x="401.8" y="54.55" font-size="13.89" text-anchor="start">0.8</text>
<text x="439.4" y="173" font-size="13.89" text-anchor="middle" transform="rotate(-90 439.4 173)">arbitrary units</text>
<clipPath id="clB"><rect x="472.5" y="32.5" width="360" height="280"/></clipPath>
<g clip-path="url(#clB)">
<polyline points="472.5,235.2 487.5,255 502.5,204 517.5,240.8 532.5,227.4 547.5,146 562.5,242.1 577.5,170 592.5,180.8 607.5,212.5 622.5,251.4 637.5,170.3 652.5,121 667.5,227.2 682.5,138.2 697.5,141.4 712.5,131.8 727.5,70.9 742.5,44.4 757.5,107 772.5,147.4 787.5,253.6 802.5,200.3 817.5,236.4 832.5,297.3" fill="none" stroke="#1f77b4" stroke-width="2.08" stroke-linejoin="round" stroke-linecap="square"/>
<line x1="472.5" y1="149.8" x2="832.5" y2="149.8" stroke="#000" stroke-width="2.08" stroke-dasharray="7.71 3.33"/>
<line x1="472.5" y1="184" x2="832.5" y2="184" stroke="#000" stroke-width="2.08" stroke-dasharray="7.71 3.33"/>
<line x1="472.5" y1="218.8" x2="832.5" y2="218.8" stroke="#000" stroke-width="2.08" stroke-dasharray="7.71 3.33"/>
</g>
<rect x="472.5" y="32.5" width="360" height="280" fill="none" stroke="#000" stroke-width="1.11"/>
<line x1="472.5" y1="312.5" x2="472.5" y2="317.86" stroke="#000" stroke-width="1.11"/>
<text x="472.5" y="333" font-size="13.89" text-anchor="middle">0</text>
<line x1="547.5" y1="312.5" x2="547.5" y2="317.86" stroke="#000" stroke-width="1.11"/>
<text x="547.5" y="333" font-size="13.89" text-anchor="middle">20</text>
<line x1="622.5" y1="312.5" x2="622.5" y2="317.86" stroke="#000" stroke-width="1.11"/>
<text x="622.5" y="333" font-size="13.89" text-anchor="middle">40</text>
<line x1="697.5" y1="312.5" x2="697.5" y2="317.86" stroke="#000" stroke-width="1.11"/>
<text x="697.5" y="333" font-size="13.89" text-anchor="middle">60</text>
<line x1="772.5" y1="312.5" x2="772.5" y2="317.86" stroke="#000" stroke-width="1.11"/>
<text x="772.5" y="333" font-size="13.89" text-anchor="middle">80</text>
<line x1="832.5" y1="72.5" x2="837.86" y2="72.5" stroke="#000" stroke-width="1.11"/>
<text x="842" y="78" font-size="13.89" text-anchor="start">1000</text>
<line x1="832.5" y1="128.5" x2="837.86" y2="128.5" stroke="#000" stroke-width="1.11"/>
<text x="842" y="134" font-size="13.89" text-anchor="start">500</text>
<line x1="832.5" y1="184.5" x2="837.86" y2="184.5" stroke="#000" stroke-width="1.11"/>
<text x="842" y="190" font-size="13.89" text-anchor="start">0</text>
<line x1="832.5" y1="241.5" x2="837.86" y2="241.5" stroke="#000" stroke-width="1.11"/>
<text x="842" y="247" font-size="13.89" text-anchor="start">−500</text>
<line x1="832.5" y1="297.5" x2="837.86" y2="297.5" stroke="#000" stroke-width="1.11"/>
<text x="842" y="303" font-size="13.89" text-anchor="start">−1000</text>
<text x="0" y="0" font-size="16.67" text-anchor="middle" transform="matrix(1.000 0 0 1.075 652.5 24)">Light Curve</text>
<text x="652.5" y="352.8" font-size="13.89" text-anchor="middle">Time (s)</text>
<text x="904" y="172.4" font-size="13.89" text-anchor="middle" transform="rotate(-90 904 172.4)">Brightness (mJy/beam)</text>
<defs><radialGradient id="g0"><stop offset="0" stop-color="#000" stop-opacity="0.35"/><stop offset="0.07" stop-color="#000" stop-opacity="0.342"/><stop offset="0.14" stop-color="#000" stop-opacity="0.319"/><stop offset="0.21" stop-color="#000" stop-opacity="0.285"/><stop offset="0.29" stop-color="#000" stop-opacity="0.242"/><stop offset="0.36" stop-color="#000" stop-opacity="0.197"/><stop offset="0.43" stop-color="#000" stop-opacity="0.153"/><stop offset="0.5" stop-color="#000" stop-opacity="0.114"/><stop offset="0.57" stop-color="#000" stop-opacity="0.081"/><stop offset="0.64" stop-color="#000" stop-opacity="0.055"/><stop offset="0.71" stop-color="#000" stop-opacity="0.035"/><stop offset="0.79" stop-color="#000" stop-opacity="0.022"/><stop offset="0.86" stop-color="#000" stop-opacity="0.013"/><stop offset="0.93" stop-color="#000" stop-opacity="0.007"/><stop offset="1" stop-color="#000" stop-opacity="0"/></radialGradient><radialGradient id="g1"><stop offset="0" stop-color="#fff" stop-opacity="0.025"/><stop offset="0.07" stop-color="#fff" stop-opacity="0.024"/><stop offset="0.14" stop-color="#fff" stop-opacity="0.023"/><stop offset="0.21" stop-color="#fff" stop-opacity="0.02"/><stop offset="0.29" stop-color="#fff" stop-opacity="0.017"/><stop offset="0.36" stop-color="#fff" stop-opacity="0.014"/><stop offset="0.43" stop-color="#fff" stop-opacity="0.011"/><stop offset="0.5" stop-color="#fff" stop-opacity="0.008"/><stop offset="0.57" stop-color="#fff" stop-opacity="0.006"/><stop offset="0.64" stop-color="#fff" stop-opacity="0.004"/><stop offset="0.71" stop-color="#fff" stop-opacity="0.003"/><stop offset="0.79" stop-color="#fff" stop-opacity="0.002"/><stop offset="0.86" stop-color="#fff" stop-opacity="0.001"/><stop offset="0.93" stop-color="#fff" stop-opacity="0.001"/><stop offset="1" stop-color="#fff" stop-opacity="0"/></radialGradient><radialGradient id="g2"><stop offset="0" stop-color="#000" stop-opacity="0.55"/><stop offset="0.07" stop-color="#000" stop-opacity="0.538"/><stop offset="0.14" stop-color="#000" stop-opacity="0.502"/><stop offset="0.21" stop-color="#000" stop-opacity="0.447"/><stop offset="0.29" stop-color="#000" stop-opacity="0.381"/><stop offset="0.36" stop-color="#000" stop-opacity="0.31"/><stop offset="0.43" stop-color="#000" stop-opacity="0.241"/><stop offset="0.5" stop-color="#000" stop-opacity="0.179"/><stop offset="0.57" stop-color="#000" stop-opacity="0.127"/><stop offset="0.64" stop-color="#000" stop-opacity="0.086"/><stop offset="0.71" stop-color="#000" stop-opacity="0.055"/><stop offset="0.79" stop-color="#000" stop-opacity="0.034"/><stop offset="0.86" stop-color="#000" stop-opacity="0.02"/><stop offset="0.93" stop-color="#000" stop-opacity="0.011"/><stop offset="1" stop-color="#000" stop-opacity="0"/></radialGradient><radialGradient id="g3"><stop offset="0" stop-color="#000" stop-opacity="0.45"/><stop offset="0.07" stop-color="#000" stop-opacity="0.44"/><stop offset="0.14" stop-color="#000" stop-opacity="0.411"/><stop offset="0.21" stop-color="#000" stop-opacity="0.366"/><stop offset="0.29" stop-color="#000" stop-opacity="0.312"/><stop offset="0.36" stop-color="#000" stop-opacity="0.253"/><stop offset="0.43" stop-color="#000" stop-opacity="0.197"/><stop offset="0.5" stop-color="#000" stop-opacity="0.146"/><stop offset="0.57" stop-color="#000" stop-opacity="0.104"/><stop offset="0.64" stop-color="#000" stop-opacity="0.07"/><stop offset="0.71" stop-color="#000" stop-opacity="0.045"/><stop offset="0.79" stop-color="#000" stop-opacity="0.028"/><stop offset="0.86" stop-color="#000" stop-opacity="0.016"/><stop offset="0.93" stop-color="#000" stop-opacity="0.009"/><stop offset="1" stop-color="#000" stop-opacity="0"/></radialGradient><radialGradient id="g4"><stop offset="0" stop-color="#fff" stop-opacity="0.04"/><stop offset="0.07" stop-color="#fff" stop-opacity="0.039"/><stop offset="0.14" stop-color="#fff" stop-opacity="0.036"/><stop offset="0.21" stop-color="#fff" stop-opacity="0.033"/><stop offset="0.29" stop-color="#fff" stop-opacity="0.028"/><stop offset="0.36" stop-color="#fff" stop-opacity="0.023"/><stop offset="0.43" stop-color="#fff" stop-opacity="0.018"/><stop offset="0.5" stop-color="#fff" stop-opacity="0.013"/><stop offset="0.57" stop-color="#fff" stop-opacity="0.009"/><stop offset="0.64" stop-color="#fff" stop-opacity="0.006"/><stop offset="0.71" stop-color="#fff" stop-opacity="0.004"/><stop offset="0.79" stop-color="#fff" stop-opacity="0.002"/><stop offset="0.86" stop-color="#fff" stop-opacity="0.001"/><stop offset="0.93" stop-color="#fff" stop-opacity="0.001"/><stop offset="1" stop-color="#fff" stop-opacity="0"/></radialGradient><radialGradient id="g5"><stop offset="0" stop-color="#000" stop-opacity="0.25"/><stop offset="0.07" stop-color="#000" stop-opacity="0.244"/><stop offset="0.14" stop-color="#000" stop-opacity="0.228"/><stop offset="0.21" stop-color="#000" stop-opacity="0.203"/><stop offset="0.29" stop-color="#000" stop-opacity="0.173"/><stop offset="0.36" stop-color="#000" stop-opacity="0.141"/><stop offset="0.43" stop-color="#000" stop-opacity="0.109"/><stop offset="0.5" stop-color="#000" stop-opacity="0.081"/><stop offset="0.57" stop-color="#000" stop-opacity="0.058"/><stop offset="0.64" stop-color="#000" stop-opacity="0.039"/><stop offset="0.71" stop-color="#000" stop-opacity="0.025"/><stop offset="0.79" stop-color="#000" stop-opacity="0.016"/><stop offset="0.86" stop-color="#000" stop-opacity="0.009"/><stop offset="0.93" stop-color="#000" stop-opacity="0.005"/><stop offset="1" stop-color="#000" stop-opacity="0"/></radialGradient><radialGradient id="g6"><stop offset="0" stop-color="#fff" stop-opacity="0.05"/><stop offset="0.07" stop-color="#fff" stop-opacity="0.049"/><stop offset="0.14" stop-color="#fff" stop-opacity="0.046"/><stop offset="0.21" stop-color="#fff" stop-opacity="0.041"/><stop offset="0.29" stop-color="#fff" stop-opacity="0.035"/><stop offset="0.36" stop-color="#fff" stop-opacity="0.028"/><stop offset="0.43" stop-color="#fff" stop-opacity="0.022"/><stop offset="0.5" stop-color="#fff" stop-opacity="0.016"/><stop offset="0.57" stop-color="#fff" stop-opacity="0.012"/><stop offset="0.64" stop-color="#fff" stop-opacity="0.008"/><stop offset="0.71" stop-color="#fff" stop-opacity="0.005"/><stop offset="0.79" stop-color="#fff" stop-opacity="0.003"/><stop offset="0.86" stop-color="#fff" stop-opacity="0.002"/><stop offset="0.93" stop-color="#fff" stop-opacity="0.001"/><stop offset="1" stop-color="#fff" stop-opacity="0"/></radialGradient><radialGradient id="g7"><stop offset="0" stop-color="#fff" stop-opacity="0.06"/><stop offset="0.07" stop-color="#fff" stop-opacity="0.059"/><stop offset="0.14" stop-color="#fff" stop-opacity="0.055"/><stop offset="0.21" stop-color="#fff" stop-opacity="0.049"/><stop offset="0.29" stop-color="#fff" stop-opacity="0.042"/><stop offset="0.36" stop-color="#fff" stop-opacity="0.034"/><stop offset="0.43" stop-color="#fff" stop-opacity="0.026"/><stop offset="0.5" stop-color="#fff" stop-opacity="0.019"/><stop offset="0.57" stop-color="#fff" stop-opacity="0.014"/><stop offset="0.64" stop-color="#fff" stop-opacity="0.009"/><stop offset="0.71" stop-color="#fff" stop-opacity="0.006"/><stop offset="0.79" stop-color="#fff" stop-opacity="0.004"/><stop offset="0.86" stop-color="#fff" stop-opacity="0.002"/><stop offset="0.93" stop-color="#fff" stop-opacity="0.001"/><stop offset="1" stop-color="#fff" stop-opacity="0"/></radialGradient><radialGradient id="g8"><stop offset="0" stop-color="#fff" stop-opacity="0.3"/><stop offset="0.07" stop-color="#fff" stop-opacity="0.293"/><stop offset="0.14" stop-color="#fff" stop-opacity="0.274"/><stop offset="0.21" stop-color="#fff" stop-opacity="0.244"/><stop offset="0.29" stop-color="#fff" stop-opacity="0.208"/><stop offset="0.36" stop-color="#fff" stop-opacity="0.169"/><stop offset="0.43" stop-color="#fff" stop-opacity="0.131"/><stop offset="0.5" stop-color="#fff" stop-opacity="0.097"/><stop offset="0.57" stop-color="#fff" stop-opacity="0.069"/><stop offset="0.64" stop-color="#fff" stop-opacity="0.047"/><stop offset="0.71" stop-color="#fff" stop-opacity="0.03"/><stop offset="0.79" stop-color="#fff" stop-opacity="0.019"/><stop offset="0.86" stop-color="#fff" stop-opacity="0.011"/><stop offset="0.93" stop-color="#fff" stop-opacity="0.006"/><stop offset="1" stop-color="#fff" stop-opacity="0"/></radialGradient><radialGradient id="g9"><stop offset="0" stop-color="#fff" stop-opacity="0.12"/><stop offset="0.07" stop-color="#fff" stop-opacity="0.117"/><stop offset="0.14" stop-color="#fff" stop-opacity="0.109"/><stop offset="0.21" stop-color="#fff" stop-opacity="0.098"/><stop offset="0.29" stop-color="#fff" stop-opacity="0.083"/><stop offset="0.36" stop-color="#fff" stop-opacity="0.068"/><stop offset="0.43" stop-color="#fff" stop-opacity="0.053"/><stop offset="0.5" stop-color="#fff" stop-opacity="0.039"/><stop offset="0.57" stop-color="#fff" stop-opacity="0.028"/><stop offset="0.64" stop-color="#fff" stop-opacity="0.019"/><stop offset="0.71" stop-color="#fff" stop-opacity="0.012"/><stop offset="0.79" stop-color="#fff" stop-opacity="0.007"/><stop offset="0.86" stop-color="#fff" stop-opacity="0.004"/><stop offset="0.93" stop-color="#fff" stop-opacity="0.002"/><stop offset="1" stop-color="#fff" stop-opacity="0"/></radialGradient><radialGradient id="g10"><stop offset="0" stop-color="#fff" stop-opacity="0.1"/><stop offset="0.07" stop-color="#fff" stop-opacity="0.098"/><stop offset="0.14" stop-color="#fff" stop-opacity="0.091"/><stop offset="0.21" stop-color="#fff" stop-opacity="0.081"/><stop offset="0.29" stop-color="#fff" stop-opacity="0.069"/><stop offset="0.36" stop-color="#fff" stop-opacity="0.056"/><stop offset="0.43" stop-color="#fff" stop-opacity="0.044"/><stop offset="0.5" stop-color="#fff" stop-opacity="0.032"/><stop offset="0.57" stop-color="#fff" stop-opacity="0.023"/><stop offset="0.64" stop-color="#fff" stop-opacity="0.016"/><stop offset="0.71" stop-color="#fff" stop-opacity="0.01"/><stop offset="0.79" stop-color="#fff" stop-opacity="0.006"/><stop offset="0.86" stop-color="#fff" stop-opacity="0.004"/><stop offset="0.93" stop-color="#fff" stop-opacity="0.002"/><stop offset="1" stop-color="#fff" stop-opacity="0"/></radialGradient><radialGradient id="g11"><stop offset="0" stop-color="#fff" stop-opacity="0.08"/><stop offset="0.07" stop-color="#fff" stop-opacity="0.078"/><stop offset="0.14" stop-color="#fff" stop-opacity="0.073"/><stop offset="0.21" stop-color="#fff" stop-opacity="0.065"/><stop offset="0.29" stop-color="#fff" stop-opacity="0.055"/><stop offset="0.36" stop-color="#fff" stop-opacity="0.045"/><stop offset="0.43" stop-color="#fff" stop-opacity="0.035"/><stop offset="0.5" stop-color="#fff" stop-opacity="0.026"/><stop offset="0.57" stop-color="#fff" stop-opacity="0.018"/><stop offset="0.64" stop-color="#fff" stop-opacity="0.012"/><stop offset="0.71" stop-color="#fff" stop-opacity="0.008"/><stop offset="0.79" stop-color="#fff" stop-opacity="0.005"/><stop offset="0.86" stop-color="#fff" stop-opacity="0.003"/><stop offset="0.93" stop-color="#fff" stop-opacity="0.002"/><stop offset="1" stop-color="#fff" stop-opacity="0"/></radialGradient><radialGradient id="g12"><stop offset="0" stop-color="#fff" stop-opacity="0.14"/><stop offset="0.07" stop-color="#fff" stop-opacity="0.137"/><stop offset="0.14" stop-color="#fff" stop-opacity="0.128"/><stop offset="0.21" stop-color="#fff" stop-opacity="0.114"/><stop offset="0.29" stop-color="#fff" stop-opacity="0.097"/><stop offset="0.36" stop-color="#fff" stop-opacity="0.079"/><stop offset="0.43" stop-color="#fff" stop-opacity="0.061"/><stop offset="0.5" stop-color="#fff" stop-opacity="0.045"/><stop offset="0.57" stop-color="#fff" stop-opacity="0.032"/><stop offset="0.64" stop-color="#fff" stop-opacity="0.022"/><stop offset="0.71" stop-color="#fff" stop-opacity="0.014"/><stop offset="0.79" stop-color="#fff" stop-opacity="0.009"/><stop offset="0.86" stop-color="#fff" stop-opacity="0.005"/><stop offset="0.93" stop-color="#fff" stop-opacity="0.003"/><stop offset="1" stop-color="#fff" stop-opacity="0"/></radialGradient><radialGradient id="g13"><stop offset="0" stop-color="#fff" stop-opacity="1"/><stop offset="0.07" stop-color="#fff" stop-opacity="1"/><stop offset="0.14" stop-color="#fff" stop-opacity="1"/><stop offset="0.21" stop-color="#fff" stop-opacity="1"/><stop offset="0.29" stop-color="#fff" stop-opacity="1"/><stop offset="0.36" stop-color="#fff" stop-opacity="1"/><stop offset="0.43" stop-color="#fff" stop-opacity="1"/><stop offset="0.5" stop-color="#fff" stop-opacity="1"/><stop offset="0.57" stop-color="#fff" stop-opacity="0.736"/><stop offset="0.64" stop-color="#fff" stop-opacity="0.498"/><stop offset="0.71" stop-color="#fff" stop-opacity="0.322"/><stop offset="0.79" stop-color="#fff" stop-opacity="0.199"/><stop offset="0.86" stop-color="#fff" stop-opacity="0.117"/><stop offset="0.93" stop-color="#fff" stop-opacity="0.066"/><stop offset="1" stop-color="#fff" stop-opacity="0"/></radialGradient><radialGradient id="g14"><stop offset="0" stop-color="#fff" stop-opacity="0.52"/><stop offset="0.07" stop-color="#fff" stop-opacity="0.508"/><stop offset="0.14" stop-color="#fff" stop-opacity="0.474"/><stop offset="0.21" stop-color="#fff" stop-opacity="0.423"/><stop offset="0.29" stop-color="#fff" stop-opacity="0.36"/><stop offset="0.36" stop-color="#fff" stop-opacity="0.293"/><stop offset="0.43" stop-color="#fff" stop-opacity="0.228"/><stop offset="0.5" stop-color="#fff" stop-opacity="0.169"/><stop offset="0.57" stop-color="#fff" stop-opacity="0.12"/><stop offset="0.64" stop-color="#fff" stop-opacity="0.081"/><stop offset="0.71" stop-color="#fff" stop-opacity="0.052"/><stop offset="0.79" stop-color="#fff" stop-opacity="0.032"/><stop offset="0.86" stop-color="#fff" stop-opacity="0.019"/><stop offset="0.93" stop-color="#fff" stop-opacity="0.011"/><stop offset="1" stop-color="#fff" stop-opacity="0"/></radialGradient><radialGradient id="g15"><stop offset="0" stop-color="#fff" stop-opacity="0.86"/><stop offset="0.07" stop-color="#fff" stop-opacity="0.84"/><stop offset="0.14" stop-color="#fff" stop-opacity="0.785"/><stop offset="0.21" stop-color="#fff" stop-opacity="0.699"/><stop offset="0.29" stop-color="#fff" stop-opacity="0.596"/><stop offset="0.36" stop-color="#fff" stop-opacity="0.484"/><stop offset="0.43" stop-color="#fff" stop-opacity="0.376"/><stop offset="0.5" stop-color="#fff" stop-opacity="0.279"/><stop offset="0.57" stop-color="#fff" stop-opacity="0.198"/><stop offset="0.64" stop-color="#fff" stop-opacity="0.134"/><stop offset="0.71" stop-color="#fff" stop-opacity="0.087"/><stop offset="0.79" stop-color="#fff" stop-opacity="0.053"/><stop offset="0.86" stop-color="#fff" stop-opacity="0.032"/><stop offset="0.93" stop-color="#fff" stop-opacity="0.018"/><stop offset="1" stop-color="#fff" stop-opacity="0"/></radialGradient><radialGradient id="g16"><stop offset="0" stop-color="#fff" stop-opacity="0.32"/><stop offset="0.07" stop-color="#fff" stop-opacity="0.313"/><stop offset="0.14" stop-color="#fff" stop-opacity="0.292"/><stop offset="0.21" stop-color="#fff" stop-opacity="0.26"/><stop offset="0.29" stop-color="#fff" stop-opacity="0.222"/><stop offset="0.36" stop-color="#fff" stop-opacity="0.18"/><stop offset="0.43" stop-color="#fff" stop-opacity="0.14"/><stop offset="0.5" stop-color="#fff" stop-opacity="0.104"/><stop offset="0.57" stop-color="#fff" stop-opacity="0.074"/><stop offset="0.64" stop-color="#fff" stop-opacity="0.05"/><stop offset="0.71" stop-color="#fff" stop-opacity="0.032"/><stop offset="0.79" stop-color="#fff" stop-opacity="0.02"/><stop offset="0.86" stop-color="#fff" stop-opacity="0.012"/><stop offset="0.93" stop-color="#fff" stop-opacity="0.007"/><stop offset="1" stop-color="#fff" stop-opacity="0"/></radialGradient><radialGradient id="g17"><stop offset="0" stop-color="#fff" stop-opacity="0.27"/><stop offset="0.07" stop-color="#fff" stop-opacity="0.264"/><stop offset="0.14" stop-color="#fff" stop-opacity="0.246"/><stop offset="0.21" stop-color="#fff" stop-opacity="0.22"/><stop offset="0.29" stop-color="#fff" stop-opacity="0.187"/><stop offset="0.36" stop-color="#fff" stop-opacity="0.152"/><stop offset="0.43" stop-color="#fff" stop-opacity="0.118"/><stop offset="0.5" stop-color="#fff" stop-opacity="0.088"/><stop offset="0.57" stop-color="#fff" stop-opacity="0.062"/><stop offset="0.64" stop-color="#fff" stop-opacity="0.042"/><stop offset="0.71" stop-color="#fff" stop-opacity="0.027"/><stop offset="0.79" stop-color="#fff" stop-opacity="0.017"/><stop offset="0.86" stop-color="#fff" stop-opacity="0.01"/><stop offset="0.93" stop-color="#fff" stop-opacity="0.006"/><stop offset="1" stop-color="#fff" stop-opacity="0"/></radialGradient><radialGradient id="g18"><stop offset="0" stop-color="#fff" stop-opacity="0.5"/><stop offset="0.07" stop-color="#fff" stop-opacity="0.489"/><stop offset="0.14" stop-color="#fff" stop-opacity="0.456"/><stop offset="0.21" stop-color="#fff" stop-opacity="0.407"/><stop offset="0.29" stop-color="#fff" stop-opacity="0.346"/><stop offset="0.36" stop-color="#fff" stop-opacity="0.282"/><stop offset="0.43" stop-color="#fff" stop-opacity="0.219"/><stop offset="0.5" stop-color="#fff" stop-opacity="0.162"/><stop offset="0.57" stop-color="#fff" stop-opacity="0.115"/><stop offset="0.64" stop-color="#fff" stop-opacity="0.078"/><stop offset="0.71" stop-color="#fff" stop-opacity="0.05"/><stop offset="0.79" stop-color="#fff" stop-opacity="0.031"/><stop offset="0.86" stop-color="#fff" stop-opacity="0.018"/><stop offset="0.93" stop-color="#fff" stop-opacity="0.01"/><stop offset="1" stop-color="#fff" stop-opacity="0"/></radialGradient><radialGradient id="g19"><stop offset="0" stop-color="#fff" stop-opacity="1"/><stop offset="0.07" stop-color="#fff" stop-opacity="1"/><stop offset="0.14" stop-color="#fff" stop-opacity="1"/><stop offset="0.21" stop-color="#fff" stop-opacity="1"/><stop offset="0.29" stop-color="#fff" stop-opacity="1"/><stop offset="0.36" stop-color="#fff" stop-opacity="1"/><stop offset="0.43" stop-color="#fff" stop-opacity="1"/><stop offset="0.5" stop-color="#fff" stop-opacity="1"/><stop offset="0.57" stop-color="#fff" stop-opacity="0.92"/><stop offset="0.64" stop-color="#fff" stop-opacity="0.623"/><stop offset="0.71" stop-color="#fff" stop-opacity="0.403"/><stop offset="0.79" stop-color="#fff" stop-opacity="0.249"/><stop offset="0.86" stop-color="#fff" stop-opacity="0.147"/><stop offset="0.93" stop-color="#fff" stop-opacity="0.083"/><stop offset="1" stop-color="#fff" stop-opacity="0"/></radialGradient><radialGradient id="g20"><stop offset="0" stop-color="#fff" stop-opacity="0.2"/><stop offset="0.07" stop-color="#fff" stop-opacity="0.195"/><stop offset="0.14" stop-color="#fff" stop-opacity="0.182"/><stop offset="0.21" stop-color="#fff" stop-opacity="0.163"/><stop offset="0.29" stop-color="#fff" stop-opacity="0.139"/><stop offset="0.36" stop-color="#fff" stop-opacity="0.113"/><stop offset="0.43" stop-color="#fff" stop-opacity="0.088"/><stop offset="0.5" stop-color="#fff" stop-opacity="0.065"/><stop offset="0.57" stop-color="#fff" stop-opacity="0.046"/><stop offset="0.64" stop-color="#fff" stop-opacity="0.031"/><stop offset="0.71" stop-color="#fff" stop-opacity="0.02"/><stop offset="0.79" stop-color="#fff" stop-opacity="0.012"/><stop offset="0.86" stop-color="#fff" stop-opacity="0.007"/><stop offset="0.93" stop-color="#fff" stop-opacity="0.004"/><stop offset="1" stop-color="#fff" stop-opacity="0"/></radialGradient><radialGradient id="g21"><stop offset="0" stop-color="#fff" stop-opacity="1"/><stop offset="0.07" stop-color="#fff" stop-opacity="1"/><stop offset="0.14" stop-color="#fff" stop-opacity="1"/><stop offset="0.21" stop-color="#fff" stop-opacity="1"/><stop offset="0.29" stop-color="#fff" stop-opacity="1"/><stop offset="0.36" stop-color="#fff" stop-opacity="1"/><stop offset="0.43" stop-color="#fff" stop-opacity="1"/><stop offset="0.5" stop-color="#fff" stop-opacity="1"/><stop offset="0.57" stop-color="#fff" stop-opacity="1"/><stop offset="0.64" stop-color="#fff" stop-opacity="0.716"/><stop offset="0.71" stop-color="#fff" stop-opacity="0.463"/><stop offset="0.79" stop-color="#fff" stop-opacity="0.286"/><stop offset="0.86" stop-color="#fff" stop-opacity="0.169"/><stop offset="0.93" stop-color="#fff" stop-opacity="0.095"/><stop offset="1" stop-color="#fff" stop-opacity="0"/></radialGradient><radialGradient id="g22"><stop offset="0" stop-color="#fff" stop-opacity="0.15"/><stop offset="0.07" stop-color="#fff" stop-opacity="0.147"/><stop offset="0.14" stop-color="#fff" stop-opacity="0.137"/><stop offset="0.21" stop-color="#fff" stop-opacity="0.122"/><stop offset="0.29" stop-color="#fff" stop-opacity="0.104"/><stop offset="0.36" stop-color="#fff" stop-opacity="0.084"/><stop offset="0.43" stop-color="#fff" stop-opacity="0.066"/><stop offset="0.5" stop-color="#fff" stop-opacity="0.049"/><stop offset="0.57" stop-color="#fff" stop-opacity="0.035"/><stop offset="0.64" stop-color="#fff" stop-opacity="0.023"/><stop offset="0.71" stop-color="#fff" stop-opacity="0.015"/><stop offset="0.79" stop-color="#fff" stop-opacity="0.009"/><stop offset="0.86" stop-color="#fff" stop-opacity="0.005"/><stop offset="0.93" stop-color="#fff" stop-opacity="0.003"/><stop offset="1" stop-color="#fff" stop-opacity="0"/></radialGradient><radialGradient id="g23"><stop offset="0" stop-color="#fff" stop-opacity="0.13"/><stop offset="0.07" stop-color="#fff" stop-opacity="0.127"/><stop offset="0.14" stop-color="#fff" stop-opacity="0.119"/><stop offset="0.21" stop-color="#fff" stop-opacity="0.106"/><stop offset="0.29" stop-color="#fff" stop-opacity="0.09"/><stop offset="0.36" stop-color="#fff" stop-opacity="0.073"/><stop offset="0.43" stop-color="#fff" stop-opacity="0.057"/><stop offset="0.5" stop-color="#fff" stop-opacity="0.042"/><stop offset="0.57" stop-color="#fff" stop-opacity="0.03"/><stop offset="0.64" stop-color="#fff" stop-opacity="0.02"/><stop offset="0.71" stop-color="#fff" stop-opacity="0.013"/><stop offset="0.79" stop-color="#fff" stop-opacity="0.008"/><stop offset="0.86" stop-color="#fff" stop-opacity="0.005"/><stop offset="0.93" stop-color="#fff" stop-opacity="0.003"/><stop offset="1" stop-color="#fff" stop-opacity="0"/></radialGradient><radialGradient id="g24"><stop offset="0" stop-color="#fff" stop-opacity="0.11"/><stop offset="0.07" stop-color="#fff" stop-opacity="0.108"/><stop offset="0.14" stop-color="#fff" stop-opacity="0.1"/><stop offset="0.21" stop-color="#fff" stop-opacity="0.089"/><stop offset="0.29" stop-color="#fff" stop-opacity="0.076"/><stop offset="0.36" stop-color="#fff" stop-opacity="0.062"/><stop offset="0.43" stop-color="#fff" stop-opacity="0.048"/><stop offset="0.5" stop-color="#fff" stop-opacity="0.036"/><stop offset="0.57" stop-color="#fff" stop-opacity="0.025"/><stop offset="0.64" stop-color="#fff" stop-opacity="0.017"/><stop offset="0.71" stop-color="#fff" stop-opacity="0.011"/><stop offset="0.79" stop-color="#fff" stop-opacity="0.007"/><stop offset="0.86" stop-color="#fff" stop-opacity="0.004"/><stop offset="0.93" stop-color="#fff" stop-opacity="0.002"/><stop offset="1" stop-color="#fff" stop-opacity="0"/></radialGradient><radialGradient id="g25"><stop offset="0" stop-color="#fff" stop-opacity="1"/><stop offset="0.07" stop-color="#fff" stop-opacity="0.977"/><stop offset="0.14" stop-color="#fff" stop-opacity="0.912"/><stop offset="0.21" stop-color="#fff" stop-opacity="0.813"/><stop offset="0.29" stop-color="#fff" stop-opacity="0.693"/><stop offset="0.36" stop-color="#fff" stop-opacity="0.563"/><stop offset="0.43" stop-color="#fff" stop-opacity="0.438"/><stop offset="0.5" stop-color="#fff" stop-opacity="0.325"/><stop offset="0.57" stop-color="#fff" stop-opacity="0.23"/><stop offset="0.64" stop-color="#fff" stop-opacity="0.156"/><stop offset="0.71" stop-color="#fff" stop-opacity="0.101"/><stop offset="0.79" stop-color="#fff" stop-opacity="0.062"/><stop offset="0.86" stop-color="#fff" stop-opacity="0.037"/><stop offset="0.93" stop-color="#fff" stop-opacity="0.021"/><stop offset="1" stop-color="#fff" stop-opacity="0"/></radialGradient><filter id="blur3" x="-30%" y="-30%" width="160%" height="160%"><feGaussianBlur stdDeviation="3"/></filter><filter id="blur1" x="-30%" y="-30%" width="160%" height="160%"><feGaussianBlur stdDeviation="1.6"/></filter><clipPath id="clC"><rect x="95" y="365" width="279" height="279"/></clipPath></defs>
<g clip-path="url(#clC)">
<rect x="95" y="365" width="279" height="279" fill="#0a0a0a"/>
<ellipse cx="221.21" cy="521.18" rx="17.27" ry="14.32" fill="url(#g0)" transform="rotate(92.14 221.21 521.18)"/>
<ellipse cx="270.74" cy="586.24" rx="9.3" ry="10.02" fill="url(#g1)" transform="rotate(160.27 270.74 586.24)"/>
<ellipse cx="272.01" cy="531.13" rx="12.2" ry="13.87" fill="url(#g0)" transform="rotate(149.71 272.01 531.13)"/>
<ellipse cx="112.62" cy="374.95" rx="16.84" ry="15.64" fill="url(#g2)" transform="rotate(106.37 112.62 374.95)"/>
<ellipse cx="149.49" cy="430.19" rx="11.22" ry="11.45" fill="url(#g1)" transform="rotate(50.07 149.49 430.19)"/>
<ellipse cx="373.35" cy="642.8" rx="16.47" ry="20.26" fill="url(#g3)" transform="rotate(92.32 373.35 642.8)"/>
<ellipse cx="103.3" cy="522.12" rx="9.44" ry="9.16" fill="url(#g4)" transform="rotate(172.45 103.3 522.12)"/>
<ellipse cx="331.4" cy="365.15" rx="10.41" ry="10.03" fill="url(#g2)" transform="rotate(127.6 331.4 365.15)"/>
<ellipse cx="212.12" cy="522.98" rx="10.31" ry="7.84" fill="url(#g3)" transform="rotate(59.87 212.12 522.98)"/>
<ellipse cx="363.98" cy="576.49" rx="9.53" ry="6.75" fill="url(#g1)" transform="rotate(83.69 363.98 576.49)"/>
<ellipse cx="230.82" cy="555.3" rx="10.21" ry="10.14" fill="url(#g0)" transform="rotate(69.08 230.82 555.3)"/>
<ellipse cx="205.16" cy="641.22" rx="8.4" ry="11.75" fill="url(#g3)" transform="rotate(3.53 205.16 641.22)"/>
<ellipse cx="147.26" cy="642.84" rx="14.18" ry="19.74" fill="url(#g5)" transform="rotate(38.38 147.26 642.84)"/>
<ellipse cx="167.06" cy="580.58" rx="11.56" ry="8.69" fill="url(#g1)" transform="rotate(37.57 167.06 580.58)"/>
<ellipse cx="272.61" cy="369.33" rx="11.94" ry="16.37" fill="url(#g0)" transform="rotate(87.07 272.61 369.33)"/>
<ellipse cx="255.31" cy="606.76" rx="10.16" ry="12.92" fill="url(#g1)" transform="rotate(44.91 255.31 606.76)"/>
<ellipse cx="147.95" cy="571.3" rx="17.43" ry="22.96" fill="url(#g6)" transform="rotate(108.64 147.95 571.3)"/>
<ellipse cx="212.59" cy="393.97" rx="8.77" ry="10.68" fill="url(#g0)" transform="rotate(70.49 212.59 393.97)"/>
<ellipse cx="212.41" cy="617.45" rx="13.11" ry="10.34" fill="url(#g5)" transform="rotate(86.27 212.41 617.45)"/>
<ellipse cx="277.33" cy="536.83" rx="9.11" ry="11.16" fill="url(#g1)" transform="rotate(12.45 277.33 536.83)"/>
<ellipse cx="209.79" cy="434.49" rx="8.85" ry="9.74" fill="url(#g7)" transform="rotate(23.68 209.79 434.49)"/>
<ellipse cx="196.04" cy="613.57" rx="17.81" ry="19.82" fill="url(#g0)" transform="rotate(166.25 196.04 613.57)"/>
<ellipse cx="227.47" cy="464.73" rx="11.39" ry="13.05" fill="url(#g7)" transform="rotate(86.8 227.47 464.73)"/>
<ellipse cx="298.81" cy="453.97" rx="17.99" ry="17.23" fill="url(#g7)" transform="rotate(8 298.81 453.97)"/>
<ellipse cx="356.21" cy="570.66" rx="9.64" ry="9.13" fill="url(#g3)" transform="rotate(123.33 356.21 570.66)"/>
<ellipse cx="346.33" cy="608.04" rx="12.4" ry="13.66" fill="url(#g2)" transform="rotate(112.49 346.33 608.04)"/>
<ellipse cx="201.67" cy="527.57" rx="14.25" ry="19.88" fill="url(#g1)" transform="rotate(158.36 201.67 527.57)"/>
<ellipse cx="298.17" cy="473.37" rx="15.46" ry="15.82" fill="url(#g2)" transform="rotate(97.43 298.17 473.37)"/>
<ellipse cx="239.72" cy="508.55" rx="11.38" ry="9.8" fill="url(#g1)" transform="rotate(125.7 239.72 508.55)"/>
<ellipse cx="233.73" cy="536.45" rx="17.24" ry="16.51" fill="url(#g1)" transform="rotate(25.78 233.73 536.45)"/>
<ellipse cx="265.68" cy="509.63" rx="15.64" ry="16.4" fill="url(#g6)" transform="rotate(43.47 265.68 509.63)"/>
<ellipse cx="207.93" cy="434.92" rx="14.49" ry="19.07" fill="url(#g0)" transform="rotate(69.2 207.93 434.92)"/>
<ellipse cx="257.69" cy="453.3" rx="9.71" ry="11.63" fill="url(#g5)" transform="rotate(171 257.69 453.3)"/>
<ellipse cx="172.23" cy="412.19" rx="12.73" ry="16.31" fill="url(#g1)" transform="rotate(68.86 172.23 412.19)"/>
<ellipse cx="240.07" cy="552.53" rx="15.28" ry="14.12" fill="url(#g2)" transform="rotate(149.17 240.07 552.53)"/>
<ellipse cx="172.6" cy="534.51" rx="14.91" ry="13.66" fill="url(#g4)" transform="rotate(142.47 172.6 534.51)"/>
<ellipse cx="100.33" cy="402.91" rx="12.77" ry="11.06" fill="url(#g4)" transform="rotate(25.36 100.33 402.91)"/>
<ellipse cx="108.1" cy="540.54" rx="12.69" ry="17.39" fill="url(#g3)" transform="rotate(123.21 108.1 540.54)"/>
<ellipse cx="150.62" cy="497.56" rx="10.12" ry="10.87" fill="url(#g6)" transform="rotate(6.51 150.62 497.56)"/>
<ellipse cx="158.18" cy="582.22" rx="13.58" ry="13.25" fill="url(#g0)" transform="rotate(142.55 158.18 582.22)"/>
<ellipse cx="347.84" cy="389.33" rx="17.35" ry="17.62" fill="url(#g0)" transform="rotate(35.44 347.84 389.33)"/>
<ellipse cx="342.56" cy="366.88" rx="13.68" ry="14.02" fill="url(#g3)" transform="rotate(117.24 342.56 366.88)"/>
<ellipse cx="152.17" cy="566.42" rx="16.26" ry="13.81" fill="url(#g5)" transform="rotate(162 152.17 566.42)"/>
<ellipse cx="368.56" cy="637.68" rx="13.55" ry="11.97" fill="url(#g3)" transform="rotate(129.29 368.56 637.68)"/>
<ellipse cx="99.37" cy="505.82" rx="8.76" ry="10.84" fill="url(#g6)" transform="rotate(87.74 99.37 505.82)"/>
<ellipse cx="102.93" cy="590.75" rx="9.01" ry="9.67" fill="url(#g0)" transform="rotate(123.59 102.93 590.75)"/>
<ellipse cx="350.57" cy="496.29" rx="18" ry="24.51" fill="url(#g2)" transform="rotate(88.66 350.57 496.29)"/>
<ellipse cx="359.81" cy="389" rx="10.53" ry="13.49" fill="url(#g3)" transform="rotate(101.08 359.81 389)"/>
<ellipse cx="140.85" cy="508.47" rx="17.11" ry="23.41" fill="url(#g6)" transform="rotate(156.61 140.85 508.47)"/>
<ellipse cx="265.03" cy="449.94" rx="9.76" ry="10.74" fill="url(#g3)" transform="rotate(36.17 265.03 449.94)"/>
<ellipse cx="244.52" cy="505.39" rx="14.21" ry="15.08" fill="url(#g1)" transform="rotate(72.11 244.52 505.39)"/>
<ellipse cx="318.5" cy="522.04" rx="13.11" ry="17.72" fill="url(#g5)" transform="rotate(82.61 318.5 522.04)"/>
<ellipse cx="351.9" cy="588.31" rx="12.28" ry="9.69" fill="url(#g6)" transform="rotate(78.06 351.9 588.31)"/>
<ellipse cx="322.59" cy="616.25" rx="12.97" ry="12.89" fill="url(#g1)" transform="rotate(5.29 322.59 616.25)"/>
<ellipse cx="167.6" cy="560.89" rx="17.78" ry="15.28" fill="url(#g1)" transform="rotate(123.67 167.6 560.89)"/>
<ellipse cx="184.86" cy="464.14" rx="14.35" ry="11.28" fill="url(#g7)" transform="rotate(91.88 184.86 464.14)"/>
<ellipse cx="164.9" cy="420.17" rx="13.49" ry="15.42" fill="url(#g6)" transform="rotate(148.53 164.9 420.17)"/>
<ellipse cx="266.81" cy="515.15" rx="16.69" ry="17.87" fill="url(#g0)" transform="rotate(153.23 266.81 515.15)"/>
<ellipse cx="265.67" cy="604.04" rx="10.63" ry="14.16" fill="url(#g3)" transform="rotate(56.86 265.67 604.04)"/>
<ellipse cx="182.88" cy="622.45" rx="10.49" ry="8.33" fill="url(#g5)" transform="rotate(43.08 182.88 622.45)"/>
<ellipse cx="297.71" cy="437.4" rx="9.33" ry="10.08" fill="url(#g2)" transform="rotate(126.87 297.71 437.4)"/>
<ellipse cx="150.98" cy="540.21" rx="16.07" ry="18.92" fill="url(#g7)" transform="rotate(164.05 150.98 540.21)"/>
<ellipse cx="365.18" cy="397.2" rx="13.25" ry="16.73" fill="url(#g0)" transform="rotate(86.77 365.18 397.2)"/>
<ellipse cx="101.78" cy="577.6" rx="14.29" ry="11.47" fill="url(#g2)" transform="rotate(33.22 101.78 577.6)"/>
<ellipse cx="151.89" cy="599.42" rx="17.91" ry="19.8" fill="url(#g5)" transform="rotate(24.2 151.89 599.42)"/>
<ellipse cx="284.99" cy="386.65" rx="9.33" ry="9.89" fill="url(#g6)" transform="rotate(77.41 284.99 386.65)"/>
<ellipse cx="262.66" cy="368.7" rx="15.13" ry="14.91" fill="url(#g0)" transform="rotate(64.72 262.66 368.7)"/>
<ellipse cx="198.28" cy="622.2" rx="14.21" ry="13.16" fill="url(#g1)" transform="rotate(15.27 198.28 622.2)"/>
<ellipse cx="329.89" cy="609.3" rx="17.12" ry="18.03" fill="url(#g0)" transform="rotate(176.88 329.89 609.3)"/>
<ellipse cx="319.55" cy="437.06" rx="17.15" ry="21.78" fill="url(#g0)" transform="rotate(73.01 319.55 437.06)"/>
<ellipse cx="345.14" cy="610.48" rx="15.07" ry="14.83" fill="url(#g0)" transform="rotate(130.07 345.14 610.48)"/>
<ellipse cx="114.68" cy="460.34" rx="12.9" ry="17.98" fill="url(#g4)" transform="rotate(162.49 114.68 460.34)"/>
<ellipse cx="108.83" cy="441.16" rx="17.63" ry="20.48" fill="url(#g1)" transform="rotate(102.52 108.83 441.16)"/>
<ellipse cx="243.73" cy="473.7" rx="18" ry="22.2" fill="url(#g5)" transform="rotate(176.42 243.73 473.7)"/>
<ellipse cx="101.37" cy="536.7" rx="15.49" ry="16.32" fill="url(#g6)" transform="rotate(137.03 101.37 536.7)"/>
<ellipse cx="275.79" cy="368.01" rx="10.88" ry="11.81" fill="url(#g4)" transform="rotate(91.41 275.79 368.01)"/>
<ellipse cx="364.83" cy="523.47" rx="17.95" ry="19.47" fill="url(#g5)" transform="rotate(120.32 364.83 523.47)"/>
<ellipse cx="361.54" cy="472.81" rx="17.41" ry="22.62" fill="url(#g1)" transform="rotate(97.55 361.54 472.81)"/>
<ellipse cx="261.44" cy="484.85" rx="13.15" ry="14.71" fill="url(#g6)" transform="rotate(65.8 261.44 484.85)"/>
<ellipse cx="174.72" cy="547.78" rx="13.78" ry="9.91" fill="url(#g4)" transform="rotate(139.05 174.72 547.78)"/>
<ellipse cx="258.44" cy="541.6" rx="12.32" ry="16.37" fill="url(#g5)" transform="rotate(134.71 258.44 541.6)"/>
<ellipse cx="108.99" cy="640.87" rx="17.47" ry="17.48" fill="url(#g1)" transform="rotate(85.97 108.99 640.87)"/>
<ellipse cx="366.51" cy="432.99" rx="13.42" ry="10.75" fill="url(#g2)" transform="rotate(172.79 366.51 432.99)"/>
<ellipse cx="163.41" cy="562.09" rx="8.88" ry="7.49" fill="url(#g1)" transform="rotate(9.37 163.41 562.09)"/>
<ellipse cx="242.34" cy="399.69" rx="12.65" ry="14.18" fill="url(#g2)" transform="rotate(115.13 242.34 399.69)"/>
<ellipse cx="285.28" cy="466.56" rx="15.54" ry="21.24" fill="url(#g0)" transform="rotate(132.17 285.28 466.56)"/>
<ellipse cx="161.52" cy="396.77" rx="16.97" ry="15.14" fill="url(#g3)" transform="rotate(109.77 161.52 396.77)"/>
<ellipse cx="297.3" cy="560.03" rx="10.22" ry="8.52" fill="url(#g1)" transform="rotate(44.81 297.3 560.03)"/>
<ellipse cx="368.34" cy="620.49" rx="16.84" ry="11.9" fill="url(#g1)" transform="rotate(46.71 368.34 620.49)"/>
<ellipse cx="102.51" cy="375.61" rx="10.54" ry="14.11" fill="url(#g1)" transform="rotate(28.95 102.51 375.61)"/>
<ellipse cx="160.5" cy="638.84" rx="13.05" ry="12.27" fill="url(#g4)" transform="rotate(134.07 160.5 638.84)"/>
<ellipse cx="328.96" cy="385.74" rx="9.55" ry="9.66" fill="url(#g0)" transform="rotate(134.52 328.96 385.74)"/>
<ellipse cx="203.85" cy="407.04" rx="9.87" ry="8.92" fill="url(#g3)" transform="rotate(136.62 203.85 407.04)"/>
<ellipse cx="325.5" cy="416.3" rx="14.68" ry="19.26" fill="url(#g2)" transform="rotate(14.13 325.5 416.3)"/>
<ellipse cx="118.16" cy="522.42" rx="13.05" ry="16.66" fill="url(#g3)" transform="rotate(1.67 118.16 522.42)"/>
<ellipse cx="181.53" cy="619.08" rx="14.2" ry="17.14" fill="url(#g2)" transform="rotate(124.92 181.53 619.08)"/>
<ellipse cx="173.93" cy="404.87" rx="11.83" ry="15.79" fill="url(#g3)" transform="rotate(58.04 173.93 404.87)"/>
<ellipse cx="218.03" cy="530.94" rx="17.06" ry="17.18" fill="url(#g3)" transform="rotate(144.55 218.03 530.94)"/>
<ellipse cx="180.03" cy="453.62" rx="12.24" ry="9.29" fill="url(#g0)" transform="rotate(149.13 180.03 453.62)"/>
<ellipse cx="101.73" cy="553.88" rx="14.01" ry="17.63" fill="url(#g3)" transform="rotate(97.3 101.73 553.88)"/>
<ellipse cx="328.35" cy="522.02" rx="10.1" ry="12.8" fill="url(#g3)" transform="rotate(39.82 328.35 522.02)"/>
<ellipse cx="111.11" cy="409.27" rx="11.24" ry="8.37" fill="url(#g6)" transform="rotate(98.43 111.11 409.27)"/>
<ellipse cx="314.87" cy="388.45" rx="9.18" ry="6.97" fill="url(#g3)" transform="rotate(114.14 314.87 388.45)"/>
<ellipse cx="135.14" cy="573.08" rx="14.63" ry="15.25" fill="url(#g1)" transform="rotate(163.39 135.14 573.08)"/>
<ellipse cx="189.35" cy="493.08" rx="11.76" ry="13.77" fill="url(#g3)" transform="rotate(88.86 189.35 493.08)"/>
<ellipse cx="244.92" cy="566.14" rx="15.2" ry="18.69" fill="url(#g2)" transform="rotate(177.43 244.92 566.14)"/>
<ellipse cx="192.42" cy="366.08" rx="12.03" ry="16.48" fill="url(#g6)" transform="rotate(115.25 192.42 366.08)"/>
<ellipse cx="241.16" cy="563.11" rx="16.1" ry="21.59" fill="url(#g6)" transform="rotate(44.23 241.16 563.11)"/>
<ellipse cx="140.27" cy="542.22" rx="14.97" ry="14.93" fill="url(#g6)" transform="rotate(52.56 140.27 542.22)"/>
<ellipse cx="365.56" cy="381.52" rx="11.36" ry="14.12" fill="url(#g1)" transform="rotate(32.3 365.56 381.52)"/>
<ellipse cx="112.39" cy="492.99" rx="14.01" ry="12.87" fill="url(#g5)" transform="rotate(35.57 112.39 492.99)"/>
<ellipse cx="195.25" cy="529.15" rx="14.16" ry="14.29" fill="url(#g0)" transform="rotate(161.01 195.25 529.15)"/>
<ellipse cx="207.29" cy="619.08" rx="17.4" ry="22.57" fill="url(#g2)" transform="rotate(87.26 207.29 619.08)"/>
<ellipse cx="207.33" cy="631.64" rx="14.74" ry="15.3" fill="url(#g5)" transform="rotate(39.78 207.33 631.64)"/>
<ellipse cx="108.87" cy="629.36" rx="16.09" ry="20.22" fill="url(#g7)" transform="rotate(139.35 108.87 629.36)"/>
<ellipse cx="314.76" cy="381.16" rx="17.27" ry="23.04" fill="url(#g2)" transform="rotate(81 314.76 381.16)"/>
<ellipse cx="163.79" cy="482.58" rx="16.8" ry="13.46" fill="url(#g4)" transform="rotate(163.46 163.79 482.58)"/>
<ellipse cx="320.99" cy="401.58" rx="15.52" ry="12.5" fill="url(#g5)" transform="rotate(138.67 320.99 401.58)"/>
<ellipse cx="95.38" cy="594.18" rx="16.52" ry="15.63" fill="url(#g5)" transform="rotate(110.68 95.38 594.18)"/>
<ellipse cx="242.3" cy="613.21" rx="15.06" ry="16.27" fill="url(#g7)" transform="rotate(91.07 242.3 613.21)"/>
<ellipse cx="100.31" cy="417.39" rx="10.25" ry="8.67" fill="url(#g2)" transform="rotate(97.81 100.31 417.39)"/>
<ellipse cx="241.66" cy="408.96" rx="16.39" ry="16.12" fill="url(#g4)" transform="rotate(100.15 241.66 408.96)"/>
<ellipse cx="373.24" cy="551.13" rx="9.04" ry="7" fill="url(#g1)" transform="rotate(70.96 373.24 551.13)"/>
<ellipse cx="223.83" cy="634.77" rx="16.37" ry="21.35" fill="url(#g5)" transform="rotate(128.12 223.83 634.77)"/>
<ellipse cx="227.6" cy="446.88" rx="9.49" ry="12.63" fill="url(#g0)" transform="rotate(27.38 227.6 446.88)"/>
<ellipse cx="270.15" cy="626.55" rx="15.6" ry="16.98" fill="url(#g2)" transform="rotate(15.65 270.15 626.55)"/>
<ellipse cx="147.64" cy="470.06" rx="9.45" ry="10.34" fill="url(#g4)" transform="rotate(130.28 147.64 470.06)"/>
<ellipse cx="187.53" cy="595.7" rx="9.29" ry="7.35" fill="url(#g1)" transform="rotate(113.47 187.53 595.7)"/>
<ellipse cx="145.01" cy="418.89" rx="8.75" ry="6.74" fill="url(#g5)" transform="rotate(5.82 145.01 418.89)"/>
<ellipse cx="370.49" cy="486.03" rx="15.8" ry="21.32" fill="url(#g6)" transform="rotate(25.03 370.49 486.03)"/>
<ellipse cx="152.32" cy="406.28" rx="15.04" ry="17.08" fill="url(#g2)" transform="rotate(130.85 152.32 406.28)"/>
<ellipse cx="266.05" cy="453.64" rx="15.97" ry="17.1" fill="url(#g7)" transform="rotate(46.93 266.05 453.64)"/>
<ellipse cx="147.66" cy="450.59" rx="12.64" ry="13.35" fill="url(#g0)" transform="rotate(141.94 147.66 450.59)"/>
<ellipse cx="325.23" cy="535.59" rx="9.92" ry="10.75" fill="url(#g3)" transform="rotate(63.46 325.23 535.59)"/>
<ellipse cx="234.62" cy="404.55" rx="15.25" ry="16.73" fill="url(#g0)" transform="rotate(4.81 234.62 404.55)"/>
<ellipse cx="278.98" cy="581.68" rx="9.71" ry="11.53" fill="url(#g2)" transform="rotate(59.25 278.98 581.68)"/>
<ellipse cx="354.21" cy="465.77" rx="12.85" ry="11.14" fill="url(#g1)" transform="rotate(102.48 354.21 465.77)"/>
<ellipse cx="247.38" cy="382.74" rx="17.18" ry="19.27" fill="url(#g4)" transform="rotate(22.08 247.38 382.74)"/>
<ellipse cx="325.08" cy="445.51" rx="17.01" ry="16.23" fill="url(#g7)" transform="rotate(29.86 325.08 445.51)"/>
<ellipse cx="261.73" cy="591.34" rx="12.76" ry="11.68" fill="url(#g1)" transform="rotate(120.82 261.73 591.34)"/>
<ellipse cx="300.81" cy="471.48" rx="14.08" ry="11.42" fill="url(#g5)" transform="rotate(74.16 300.81 471.48)"/>
<ellipse cx="104.22" cy="512.27" rx="9.54" ry="10.14" fill="url(#g4)" transform="rotate(47.46 104.22 512.27)"/>
<ellipse cx="253.48" cy="457.66" rx="14.56" ry="14.3" fill="url(#g1)" transform="rotate(89.56 253.48 457.66)"/>
<ellipse cx="123.6" cy="461.38" rx="17.01" ry="20.86" fill="url(#g2)" transform="rotate(87.44 123.6 461.38)"/>
<ellipse cx="372.5" cy="598.87" rx="16.61" ry="12.99" fill="url(#g6)" transform="rotate(20.63 372.5 598.87)"/>
<ellipse cx="356.96" cy="457.17" rx="13.4" ry="12.39" fill="url(#g1)" transform="rotate(9.84 356.96 457.17)"/>
<ellipse cx="297.44" cy="616.14" rx="15.43" ry="20.33" fill="url(#g3)" transform="rotate(157.87 297.44 616.14)"/>
<ellipse cx="163.17" cy="600.58" rx="10.73" ry="11.08" fill="url(#g5)" transform="rotate(18.97 163.17 600.58)"/>
<ellipse cx="348.88" cy="517.05" rx="14.71" ry="20.58" fill="url(#g5)" transform="rotate(131.54 348.88 517.05)"/>
<ellipse cx="338.14" cy="467.89" rx="13.64" ry="11.67" fill="url(#g0)" transform="rotate(134.39 338.14 467.89)"/>
<ellipse cx="253.14" cy="617.05" rx="9.35" ry="12.31" fill="url(#g5)" transform="rotate(103.66 253.14 617.05)"/>
<ellipse cx="221.44" cy="447.61" rx="15.39" ry="11.45" fill="url(#g1)" transform="rotate(161.12 221.44 447.61)"/>
<ellipse cx="322.51" cy="475.83" rx="11.82" ry="10.81" fill="url(#g5)" transform="rotate(81.88 322.51 475.83)"/>
<ellipse cx="182.55" cy="455.49" rx="9.77" ry="12.86" fill="url(#g2)" transform="rotate(36.48 182.55 455.49)"/>
<ellipse cx="334.66" cy="558.21" rx="8.97" ry="11.92" fill="url(#g4)" transform="rotate(2.89 334.66 558.21)"/>
<ellipse cx="272.27" cy="559.72" rx="13.77" ry="11.49" fill="url(#g0)" transform="rotate(158.43 272.27 559.72)"/>
<ellipse cx="108.95" cy="394.6" rx="15.37" ry="20.11" fill="url(#g4)" transform="rotate(128.37 108.95 394.6)"/>
<ellipse cx="132.63" cy="559.17" rx="17.4" ry="14.25" fill="url(#g1)" transform="rotate(155.08 132.63 559.17)"/>
<ellipse cx="128.66" cy="557.83" rx="10.98" ry="13.76" fill="url(#g3)" transform="rotate(67.05 128.66 557.83)"/>
<ellipse cx="279.7" cy="611.76" rx="14.06" ry="18.66" fill="url(#g4)" transform="rotate(32.5 279.7 611.76)"/>
<ellipse cx="158.04" cy="401.98" rx="14.81" ry="14.93" fill="url(#g5)" transform="rotate(95.09 158.04 401.98)"/>
<ellipse cx="243.1" cy="377.65" rx="14.16" ry="14.11" fill="url(#g4)" transform="rotate(102.34 243.1 377.65)"/>
<ellipse cx="140.9" cy="640.75" rx="10.22" ry="7.36" fill="url(#g7)" transform="rotate(142.27 140.9 640.75)"/>
<ellipse cx="137.07" cy="615.51" rx="14.37" ry="10.09" fill="url(#g2)" transform="rotate(160.48 137.07 615.51)"/>
<ellipse cx="111.8" cy="382.86" rx="15.86" ry="18.41" fill="url(#g3)" transform="rotate(140.94 111.8 382.86)"/>
<ellipse cx="239.17" cy="506.07" rx="16.52" ry="18.43" fill="url(#g0)" transform="rotate(138.82 239.17 506.07)"/>
<ellipse cx="126.28" cy="486.52" rx="14.82" ry="18.53" fill="url(#g3)" transform="rotate(142.4 126.28 486.52)"/>
<ellipse cx="160.83" cy="501.46" rx="10.52" ry="9.29" fill="url(#g2)" transform="rotate(36.45 160.83 501.46)"/>
<ellipse cx="365.81" cy="379.65" rx="12.7" ry="10.24" fill="url(#g3)" transform="rotate(3.2 365.81 379.65)"/>
<ellipse cx="233.41" cy="486.26" rx="12.64" ry="9.49" fill="url(#g1)" transform="rotate(163.32 233.41 486.26)"/>
<ellipse cx="253.72" cy="516.56" rx="16" ry="11.8" fill="url(#g1)" transform="rotate(76.56 253.72 516.56)"/>
<ellipse cx="289.09" cy="593.68" rx="15.49" ry="11.8" fill="url(#g2)" transform="rotate(147.7 289.09 593.68)"/>
<ellipse cx="142.88" cy="436.1" rx="9.93" ry="7.38" fill="url(#g2)" transform="rotate(73.91 142.88 436.1)"/>
<ellipse cx="196.67" cy="425.36" rx="17.72" ry="21.77" fill="url(#g6)" transform="rotate(108.13 196.67 425.36)"/>
<ellipse cx="132.54" cy="572.74" rx="13.41" ry="11.64" fill="url(#g5)" transform="rotate(160.22 132.54 572.74)"/>
<ellipse cx="134.49" cy="474.62" rx="11.26" ry="15.54" fill="url(#g1)" transform="rotate(122.37 134.49 474.62)"/>
<ellipse cx="295.05" cy="637.32" rx="14.28" ry="15.51" fill="url(#g1)" transform="rotate(43.5 295.05 637.32)"/>
<ellipse cx="223.77" cy="625.15" rx="11.89" ry="10.14" fill="url(#g7)" transform="rotate(28.87 223.77 625.15)"/>
<ellipse cx="258.28" cy="642.53" rx="15.48" ry="15.85" fill="url(#g0)" transform="rotate(70.73 258.28 642.53)"/>
<ellipse cx="330.21" cy="471.34" rx="15.9" ry="13.87" fill="url(#g4)" transform="rotate(142.79 330.21 471.34)"/>
<ellipse cx="319.36" cy="498.97" rx="12.24" ry="12.62" fill="url(#g3)" transform="rotate(88.24 319.36 498.97)"/>
<ellipse cx="269.84" cy="415.67" rx="13.08" ry="9.82" fill="url(#g2)" transform="rotate(124.44 269.84 415.67)"/>
<ellipse cx="196.23" cy="441.59" rx="8.58" ry="9.08" fill="url(#g4)" transform="rotate(102.13 196.23 441.59)"/>
<ellipse cx="276.2" cy="425.69" rx="9.39" ry="7.48" fill="url(#g4)" transform="rotate(43.36 276.2 425.69)"/>
<ellipse cx="329.17" cy="398.27" rx="17.98" ry="13.63" fill="url(#g2)" transform="rotate(158.83 329.17 398.27)"/>
<ellipse cx="185.74" cy="580.03" rx="13.39" ry="15.07" fill="url(#g6)" transform="rotate(87.92 185.74 580.03)"/>
<ellipse cx="147.38" cy="508.38" rx="9.63" ry="9.59" fill="url(#g6)" transform="rotate(97.92 147.38 508.38)"/>
<ellipse cx="132.95" cy="562.14" rx="10.9" ry="8.75" fill="url(#g2)" transform="rotate(36.87 132.95 562.14)"/>
<ellipse cx="173.22" cy="563.86" rx="12.29" ry="10.55" fill="url(#g4)" transform="rotate(52.57 173.22 563.86)"/>
<ellipse cx="191.24" cy="425.2" rx="8.79" ry="9.64" fill="url(#g6)" transform="rotate(145.58 191.24 425.2)"/>
<ellipse cx="367.19" cy="448.17" rx="14.84" ry="16.18" fill="url(#g0)" transform="rotate(63.61 367.19 448.17)"/>
<ellipse cx="129.07" cy="581.15" rx="11.99" ry="9.15" fill="url(#g3)" transform="rotate(76.99 129.07 581.15)"/>
<ellipse cx="204.49" cy="381.77" rx="12.08" ry="14.4" fill="url(#g6)" transform="rotate(39.89 204.49 381.77)"/>
<ellipse cx="353.21" cy="421.34" rx="15.78" ry="16.79" fill="url(#g1)" transform="rotate(133.7 353.21 421.34)"/>
<ellipse cx="348.2" cy="589.37" rx="12.99" ry="11.9" fill="url(#g7)" transform="rotate(164.62 348.2 589.37)"/>
<ellipse cx="346.81" cy="398.57" rx="17.13" ry="12.65" fill="url(#g3)" transform="rotate(89.2 346.81 398.57)"/>
<ellipse cx="258.46" cy="495.83" rx="11.53" ry="8.35" fill="url(#g1)" transform="rotate(58.24 258.46 495.83)"/>
<ellipse cx="199.14" cy="447.95" rx="16.23" ry="15.72" fill="url(#g2)" transform="rotate(61.46 199.14 447.95)"/>
<ellipse cx="345.46" cy="373.66" rx="15.19" ry="17.3" fill="url(#g1)" transform="rotate(111.75 345.46 373.66)"/>
<ellipse cx="209.66" cy="480.94" rx="11.05" ry="10.69" fill="url(#g2)" transform="rotate(163.73 209.66 480.94)"/>
<ellipse cx="105.64" cy="402.9" rx="13.27" ry="13.68" fill="url(#g4)" transform="rotate(3.8 105.64 402.9)"/>
<ellipse cx="263.91" cy="440.27" rx="10.88" ry="7.62" fill="url(#g7)" transform="rotate(97.89 263.91 440.27)"/>
<ellipse cx="204.9" cy="431.77" rx="13.14" ry="14.94" fill="url(#g5)" transform="rotate(100.94 204.9 431.77)"/>
<ellipse cx="326.88" cy="635.3" rx="11.6" ry="10.67" fill="url(#g1)" transform="rotate(128.87 326.88 635.3)"/>
<ellipse cx="289.01" cy="556.55" rx="17.65" ry="16.47" fill="url(#g0)" transform="rotate(124.07 289.01 556.55)"/>
<ellipse cx="319.59" cy="446.94" rx="12.38" ry="12.99" fill="url(#g7)" transform="rotate(116.33 319.59 446.94)"/>
<ellipse cx="196.06" cy="562.02" rx="17.21" ry="23.96" fill="url(#g5)" transform="rotate(147.21 196.06 562.02)"/>
<ellipse cx="342.09" cy="451.54" rx="16.55" ry="12.05" fill="url(#g2)" transform="rotate(111.88 342.09 451.54)"/>
<ellipse cx="210.15" cy="499.47" rx="11.71" ry="10.27" fill="url(#g6)" transform="rotate(114.26 210.15 499.47)"/>
<ellipse cx="197.59" cy="555.51" rx="10.16" ry="13.11" fill="url(#g0)" transform="rotate(149.14 197.59 555.51)"/>
<ellipse cx="253.32" cy="482.35" rx="15.19" ry="19.15" fill="url(#g3)" transform="rotate(22.54 253.32 482.35)"/>
<ellipse cx="200.17" cy="551.75" rx="10.62" ry="10.94" fill="url(#g1)" transform="rotate(124.89 200.17 551.75)"/>
<ellipse cx="315.62" cy="623.78" rx="10.97" ry="12.53" fill="url(#g4)" transform="rotate(71.41 315.62 623.78)"/>
<ellipse cx="355.41" cy="640.88" rx="8.87" ry="11.61" fill="url(#g5)" transform="rotate(34.88 355.41 640.88)"/>
<ellipse cx="194.45" cy="515.23" rx="16.1" ry="20.65" fill="url(#g1)" transform="rotate(154 194.45 515.23)"/>
<ellipse cx="142.77" cy="383.8" rx="12.61" ry="10.8" fill="url(#g3)" transform="rotate(129.94 142.77 383.8)"/>
<ellipse cx="208.88" cy="404.62" rx="13.93" ry="15.08" fill="url(#g0)" transform="rotate(144.03 208.88 404.62)"/>
<ellipse cx="135.98" cy="413.85" rx="9.43" ry="12.41" fill="url(#g3)" transform="rotate(77.87 135.98 413.85)"/>
<ellipse cx="137.37" cy="611.76" rx="10.99" ry="12.51" fill="url(#g3)" transform="rotate(49.32 137.37 611.76)"/>
<ellipse cx="158.49" cy="499.53" rx="11.91" ry="9.6" fill="url(#g1)" transform="rotate(1.28 158.49 499.53)"/>
<ellipse cx="307.21" cy="552" rx="8.44" ry="11.8" fill="url(#g1)" transform="rotate(36.4 307.21 552)"/>
<ellipse cx="336.96" cy="500.11" rx="12.38" ry="13.5" fill="url(#g2)" transform="rotate(38.69 336.96 500.11)"/>
<ellipse cx="267.06" cy="595.77" rx="10.82" ry="14.13" fill="url(#g4)" transform="rotate(178.97 267.06 595.77)"/>
<ellipse cx="218.65" cy="597.61" rx="15.36" ry="20.91" fill="url(#g1)" transform="rotate(97.02 218.65 597.61)"/>
<ellipse cx="283.28" cy="440.62" rx="8.63" ry="9.15" fill="url(#g5)" transform="rotate(1.89 283.28 440.62)"/>
<ellipse cx="153.63" cy="632.63" rx="8.51" ry="10.67" fill="url(#g0)" transform="rotate(132.37 153.63 632.63)"/>
<ellipse cx="206.4" cy="589.06" rx="16.35" ry="22.15" fill="url(#g5)" transform="rotate(86.78 206.4 589.06)"/>
<ellipse cx="329.34" cy="478.98" rx="17.03" ry="18.8" fill="url(#g5)" transform="rotate(40.9 329.34 478.98)"/>
<ellipse cx="203.36" cy="468.04" rx="14.71" ry="16.75" fill="url(#g3)" transform="rotate(80.96 203.36 468.04)"/>
<ellipse cx="182.09" cy="383.6" rx="14.67" ry="13.71" fill="url(#g3)" transform="rotate(133.49 182.09 383.6)"/>
<ellipse cx="153.96" cy="572.35" rx="13.64" ry="12.87" fill="url(#g0)" transform="rotate(28.01 153.96 572.35)"/>
<ellipse cx="199.01" cy="415.87" rx="8.61" ry="8.46" fill="url(#g1)" transform="rotate(57.87 199.01 415.87)"/>
<ellipse cx="244.86" cy="630.69" rx="10.36" ry="7.74" fill="url(#g3)" transform="rotate(106.03 244.86 630.69)"/>
<ellipse cx="256.48" cy="454.71" rx="12.94" ry="12.76" fill="url(#g2)" transform="rotate(127.09 256.48 454.71)"/>
<ellipse cx="144.61" cy="441.27" rx="14.9" ry="19.63" fill="url(#g3)" transform="rotate(139.98 144.61 441.27)"/>
<ellipse cx="241.5" cy="367.81" rx="15.41" ry="13.08" fill="url(#g5)" transform="rotate(110.93 241.5 367.81)"/>
<ellipse cx="342.65" cy="603.92" rx="14.43" ry="11.33" fill="url(#g5)" transform="rotate(132.96 342.65 603.92)"/>
<ellipse cx="302.62" cy="486.69" rx="12.89" ry="12.41" fill="url(#g0)" transform="rotate(97.41 302.62 486.69)"/>
<ellipse cx="106.87" cy="621.66" rx="13.47" ry="15.02" fill="url(#g3)" transform="rotate(107.02 106.87 621.66)"/>
<ellipse cx="354.92" cy="407.39" rx="12.9" ry="10.73" fill="url(#g3)" transform="rotate(84.41 354.92 407.39)"/>
<ellipse cx="248.92" cy="379.64" rx="17.69" ry="13.76" fill="url(#g2)" transform="rotate(33.65 248.92 379.64)"/>
<ellipse cx="352.77" cy="585.39" rx="9.77" ry="10.33" fill="url(#g1)" transform="rotate(178.86 352.77 585.39)"/>
<ellipse cx="113.09" cy="607.76" rx="15.23" ry="15.5" fill="url(#g4)" transform="rotate(96.54 113.09 607.76)"/>
<ellipse cx="336.49" cy="419.68" rx="11.08" ry="8.59" fill="url(#g5)" transform="rotate(79.29 336.49 419.68)"/>
<ellipse cx="306.22" cy="609.63" rx="9.09" ry="11.27" fill="url(#g5)" transform="rotate(98.87 306.22 609.63)"/>
<ellipse cx="347.69" cy="587.3" rx="9.86" ry="9.2" fill="url(#g1)" transform="rotate(167.19 347.69 587.3)"/>
<ellipse cx="361.52" cy="426.26" rx="11.17" ry="10.86" fill="url(#g7)" transform="rotate(152.86 361.52 426.26)"/>
<ellipse cx="267.16" cy="616.6" rx="9.09" ry="9.75" fill="url(#g0)" transform="rotate(56.95 267.16 616.6)"/>
<ellipse cx="362.01" cy="635.68" rx="13.78" ry="9.79" fill="url(#g2)" transform="rotate(61.12 362.01 635.68)"/>
<ellipse cx="182.98" cy="540.69" rx="11.07" ry="9.15" fill="url(#g0)" transform="rotate(23.05 182.98 540.69)"/>
<ellipse cx="288.56" cy="495.14" rx="9.64" ry="10.86" fill="url(#g4)" transform="rotate(64.36 288.56 495.14)"/>
<ellipse cx="149.73" cy="642.56" rx="15.04" ry="19.69" fill="url(#g3)" transform="rotate(138.56 149.73 642.56)"/>
<ellipse cx="150.85" cy="384.93" rx="10.95" ry="10.8" fill="url(#g7)" transform="rotate(82.22 150.85 384.93)"/>
<ellipse cx="236.31" cy="627.72" rx="11.72" ry="12.25" fill="url(#g0)" transform="rotate(21.16 236.31 627.72)"/>
<ellipse cx="129.37" cy="609.62" rx="17.54" ry="15.05" fill="url(#g6)" transform="rotate(85.95 129.37 609.62)"/>
<ellipse cx="150.44" cy="480.52" rx="10.52" ry="10.45" fill="url(#g3)" transform="rotate(50.63 150.44 480.52)"/>
<ellipse cx="218.01" cy="631.31" rx="11.21" ry="7.97" fill="url(#g0)" transform="rotate(67.47 218.01 631.31)"/>
<ellipse cx="260.53" cy="606.68" rx="12.13" ry="15.45" fill="url(#g1)" transform="rotate(153.05 260.53 606.68)"/>
<ellipse cx="259.81" cy="517.31" rx="9.35" ry="11.72" fill="url(#g5)" transform="rotate(2.91 259.81 517.31)"/>
<ellipse cx="103.44" cy="529.67" rx="15.09" ry="17.62" fill="url(#g5)" transform="rotate(28.03 103.44 529.67)"/>
<ellipse cx="115.24" cy="412.55" rx="13.26" ry="18.28" fill="url(#g5)" transform="rotate(175.76 115.24 412.55)"/>
<ellipse cx="371.94" cy="475.24" rx="16.36" ry="22.87" fill="url(#g5)" transform="rotate(11.98 371.94 475.24)"/>
<ellipse cx="223.96" cy="476.96" rx="14.7" ry="12.44" fill="url(#g7)" transform="rotate(66.58 223.96 476.96)"/>
<ellipse cx="134.89" cy="475.11" rx="15.52" ry="21.28" fill="url(#g1)" transform="rotate(125.26 134.89 475.11)"/>
<ellipse cx="314.39" cy="617.81" rx="14.77" ry="18.36" fill="url(#g2)" transform="rotate(21.54 314.39 617.81)"/>
<ellipse cx="225.76" cy="369.41" rx="16.65" ry="12.93" fill="url(#g5)" transform="rotate(74.33 225.76 369.41)"/>
<ellipse cx="251.54" cy="636.86" rx="15.85" ry="17.35" fill="url(#g7)" transform="rotate(12.19 251.54 636.86)"/>
<ellipse cx="161.36" cy="549.89" rx="13.29" ry="16.54" fill="url(#g4)" transform="rotate(44.42 161.36 549.89)"/>
<ellipse cx="210.48" cy="380.15" rx="10.49" ry="10.72" fill="url(#g5)" transform="rotate(153.13 210.48 380.15)"/>
<ellipse cx="124.11" cy="602.18" rx="9.89" ry="9.73" fill="url(#g0)" transform="rotate(110.2 124.11 602.18)"/>
<ellipse cx="336.01" cy="633.89" rx="12.37" ry="15.56" fill="url(#g1)" transform="rotate(19.72 336.01 633.89)"/>
<ellipse cx="300.7" cy="470.06" rx="11.22" ry="8.72" fill="url(#g2)" transform="rotate(54.14 300.7 470.06)"/>
<ellipse cx="364.57" cy="544.41" rx="16.54" ry="15.04" fill="url(#g6)" transform="rotate(38.64 364.57 544.41)"/>
<ellipse cx="244.75" cy="548.35" rx="12.42" ry="14.39" fill="url(#g0)" transform="rotate(159.6 244.75 548.35)"/>
<ellipse cx="359.06" cy="523.45" rx="13.21" ry="15.03" fill="url(#g2)" transform="rotate(48.14 359.06 523.45)"/>
<ellipse cx="262.34" cy="426.39" rx="9.21" ry="8.76" fill="url(#g2)" transform="rotate(77.49 262.34 426.39)"/>
<ellipse cx="220.78" cy="378.83" rx="16.42" ry="15.89" fill="url(#g7)" transform="rotate(58.09 220.78 378.83)"/>
<ellipse cx="323.4" cy="553.34" rx="15.25" ry="15.84" fill="url(#g4)" transform="rotate(41.46 323.4 553.34)"/>
<ellipse cx="304.1" cy="500.99" rx="8.49" ry="5.98" fill="url(#g1)" transform="rotate(106.81 304.1 500.99)"/>
<ellipse cx="363.06" cy="467.01" rx="14.14" ry="11.98" fill="url(#g4)" transform="rotate(137.28 363.06 467.01)"/>
<ellipse cx="110.64" cy="416.25" rx="9.53" ry="7.03" fill="url(#g3)" transform="rotate(16.71 110.64 416.25)"/>
<ellipse cx="165.3" cy="440.36" rx="16.04" ry="15.74" fill="url(#g4)" transform="rotate(51.44 165.3 440.36)"/>
<ellipse cx="284.69" cy="388.84" rx="17.85" ry="12.9" fill="url(#g3)" transform="rotate(26.89 284.69 388.84)"/>
<ellipse cx="138.5" cy="444.65" rx="11.11" ry="8.15" fill="url(#g2)" transform="rotate(112.45 138.5 444.65)"/>
<ellipse cx="249.03" cy="623.72" rx="14.53" ry="16.07" fill="url(#g1)" transform="rotate(1 249.03 623.72)"/>
<ellipse cx="300.6" cy="481.72" rx="14.92" ry="12.25" fill="url(#g5)" transform="rotate(15.02 300.6 481.72)"/>
<ellipse cx="286.21" cy="404.07" rx="15.67" ry="15.85" fill="url(#g5)" transform="rotate(161.51 286.21 404.07)"/>
<ellipse cx="298.03" cy="598.08" rx="17.58" ry="21.07" fill="url(#g7)" transform="rotate(126.54 298.03 598.08)"/>
<ellipse cx="205.81" cy="557.77" rx="14.67" ry="11.26" fill="url(#g1)" transform="rotate(58.35 205.81 557.77)"/>
<ellipse cx="134.06" cy="629.33" rx="9.89" ry="7.14" fill="url(#g6)" transform="rotate(77.75 134.06 629.33)"/>
<ellipse cx="200.33" cy="553.15" rx="17.31" ry="18.32" fill="url(#g2)" transform="rotate(86.71 200.33 553.15)"/>
<ellipse cx="248.32" cy="603.53" rx="15.82" ry="14.91" fill="url(#g1)" transform="rotate(29.49 248.32 603.53)"/>
<ellipse cx="192.58" cy="530" rx="13.39" ry="14.89" fill="url(#g7)" transform="rotate(83.21 192.58 530)"/>
<ellipse cx="310.07" cy="406.25" rx="15.16" ry="18.01" fill="url(#g1)" transform="rotate(42.05 310.07 406.25)"/>
<ellipse cx="167.89" cy="568.78" rx="13.92" ry="17.57" fill="url(#g1)" transform="rotate(45.86 167.89 568.78)"/>
<ellipse cx="162.86" cy="424.52" rx="17.12" ry="23.67" fill="url(#g1)" transform="rotate(163.73 162.86 424.52)"/>
<ellipse cx="222.16" cy="500.82" rx="10.62" ry="12.49" fill="url(#g5)" transform="rotate(90.11 222.16 500.82)"/>
<ellipse cx="136.92" cy="642.16" rx="11.78" ry="10.99" fill="url(#g6)" transform="rotate(27.28 136.92 642.16)"/>
<ellipse cx="360.28" cy="578.36" rx="16.14" ry="13.76" fill="url(#g1)" transform="rotate(35.87 360.28 578.36)"/>
<ellipse cx="244.26" cy="535.14" rx="9.56" ry="12.71" fill="url(#g0)" transform="rotate(166.31 244.26 535.14)"/>
<ellipse cx="287.31" cy="466.56" rx="17.53" ry="19.73" fill="url(#g3)" transform="rotate(149.52 287.31 466.56)"/>
<ellipse cx="368.97" cy="395.81" rx="11.84" ry="13.82" fill="url(#g4)" transform="rotate(51.57 368.97 395.81)"/>
<ellipse cx="251.46" cy="438.27" rx="9.13" ry="12.42" fill="url(#g4)" transform="rotate(27.39 251.46 438.27)"/>
<ellipse cx="203.72" cy="594.31" rx="13.63" ry="14.73" fill="url(#g1)" transform="rotate(132.11 203.72 594.31)"/>
<ellipse cx="244.14" cy="549.13" rx="17.22" ry="15.75" fill="url(#g3)" transform="rotate(76.88 244.14 549.13)"/>
<ellipse cx="312.61" cy="546.86" rx="13.61" ry="12.82" fill="url(#g3)" transform="rotate(38.91 312.61 546.86)"/>
<ellipse cx="273.58" cy="440.53" rx="15.38" ry="20.99" fill="url(#g5)" transform="rotate(19.85 273.58 440.53)"/>
<ellipse cx="357.4" cy="548.34" rx="9.09" ry="12.3" fill="url(#g5)" transform="rotate(173 357.4 548.34)"/>
<ellipse cx="149.49" cy="467.51" rx="11.79" ry="9.42" fill="url(#g1)" transform="rotate(74.39 149.49 467.51)"/>
<ellipse cx="134.89" cy="616.66" rx="17.75" ry="17.85" fill="url(#g5)" transform="rotate(122.3 134.89 616.66)"/>
<ellipse cx="119.01" cy="558.8" rx="14.28" ry="14.17" fill="url(#g5)" transform="rotate(87.46 119.01 558.8)"/>
<ellipse cx="116.96" cy="500.86" rx="13.75" ry="10.93" fill="url(#g5)" transform="rotate(54.04 116.96 500.86)"/>
<ellipse cx="188.64" cy="560.88" rx="17.41" ry="22.66" fill="url(#g0)" transform="rotate(168.29 188.64 560.88)"/>
<ellipse cx="100.63" cy="501.62" rx="14.07" ry="19.04" fill="url(#g3)" transform="rotate(15.55 100.63 501.62)"/>
<ellipse cx="239.87" cy="632.69" rx="8.71" ry="11.93" fill="url(#g4)" transform="rotate(4.33 239.87 632.69)"/>
<ellipse cx="103.92" cy="596.5" rx="15.01" ry="10.51" fill="url(#g5)" transform="rotate(12.22 103.92 596.5)"/>
<ellipse cx="316.57" cy="637.14" rx="16.4" ry="14" fill="url(#g4)" transform="rotate(70.55 316.57 637.14)"/>
<ellipse cx="345.69" cy="432.47" rx="8.86" ry="9.43" fill="url(#g4)" transform="rotate(63.34 345.69 432.47)"/>
<ellipse cx="276.79" cy="624.75" rx="12.38" ry="10.86" fill="url(#g1)" transform="rotate(86.22 276.79 624.75)"/>
<ellipse cx="313.64" cy="457.87" rx="10.69" ry="11.94" fill="url(#g3)" transform="rotate(103.37 313.64 457.87)"/>
<ellipse cx="254.97" cy="371.24" rx="11.38" ry="10.6" fill="url(#g7)" transform="rotate(130.76 254.97 371.24)"/>
<ellipse cx="283.08" cy="585.5" rx="13.58" ry="11.83" fill="url(#g7)" transform="rotate(39.21 283.08 585.5)"/>
<ellipse cx="210.61" cy="641.16" rx="11.96" ry="16.66" fill="url(#g1)" transform="rotate(69.69 210.61 641.16)"/>
<ellipse cx="132.82" cy="585.3" rx="15.91" ry="15.36" fill="url(#g1)" transform="rotate(51.67 132.82 585.3)"/>
<ellipse cx="260.53" cy="571.88" rx="12.97" ry="9.55" fill="url(#g5)" transform="rotate(5.92 260.53 571.88)"/>
<ellipse cx="361.23" cy="483.53" rx="9.92" ry="13.04" fill="url(#g1)" transform="rotate(172.89 361.23 483.53)"/>
<ellipse cx="354.88" cy="460.39" rx="17.34" ry="23.61" fill="url(#g4)" transform="rotate(34.68 354.88 460.39)"/>
<ellipse cx="132.86" cy="554.22" rx="16.87" ry="16.15" fill="url(#g2)" transform="rotate(130.83 132.86 554.22)"/>
<ellipse cx="352.73" cy="405.86" rx="16.76" ry="19.67" fill="url(#g3)" transform="rotate(22.16 352.73 405.86)"/>
<ellipse cx="184.64" cy="527.51" rx="11.03" ry="13.61" fill="url(#g2)" transform="rotate(94.81 184.64 527.51)"/>
<ellipse cx="359.25" cy="387.73" rx="10.54" ry="14.58" fill="url(#g4)" transform="rotate(168.14 359.25 387.73)"/>
<ellipse cx="283.91" cy="416.88" rx="17.67" ry="16.01" fill="url(#g5)" transform="rotate(142.7 283.91 416.88)"/>
<ellipse cx="366.35" cy="493.27" rx="14.19" ry="10.32" fill="url(#g2)" transform="rotate(26.53 366.35 493.27)"/>
<ellipse cx="225.88" cy="554.3" rx="12.61" ry="11.32" fill="url(#g5)" transform="rotate(8.19 225.88 554.3)"/>
<ellipse cx="206.93" cy="594.5" rx="17.63" ry="22.2" fill="url(#g6)" transform="rotate(89.85 206.93 594.5)"/>
<ellipse cx="277.13" cy="494.76" rx="10.15" ry="14.01" fill="url(#g4)" transform="rotate(60.59 277.13 494.76)"/>
<ellipse cx="331.57" cy="521.78" rx="15" ry="12.25" fill="url(#g4)" transform="rotate(25.86 331.57 521.78)"/>
<ellipse cx="256.63" cy="535.85" rx="12.52" ry="11.68" fill="url(#g3)" transform="rotate(164.47 256.63 535.85)"/>
<ellipse cx="160.1" cy="626.1" rx="16.59" ry="17.05" fill="url(#g0)" transform="rotate(101.05 160.1 626.1)"/>
<ellipse cx="351.51" cy="578.5" rx="17.36" ry="19.25" fill="url(#g7)" transform="rotate(28.37 351.51 578.5)"/>
<ellipse cx="359.34" cy="444.25" rx="9.33" ry="9.66" fill="url(#g3)" transform="rotate(20.17 359.34 444.25)"/>
<ellipse cx="302.92" cy="588.35" rx="14.65" ry="14.36" fill="url(#g2)" transform="rotate(89.59 302.92 588.35)"/>
<ellipse cx="331.27" cy="523.66" rx="8.94" ry="6.65" fill="url(#g6)" transform="rotate(25.75 331.27 523.66)"/>
<ellipse cx="102.59" cy="515.24" rx="8.88" ry="7.68" fill="url(#g1)" transform="rotate(149.23 102.59 515.24)"/>
<ellipse cx="317.63" cy="436.05" rx="17.07" ry="16.17" fill="url(#g2)" transform="rotate(10.47 317.63 436.05)"/>
<ellipse cx="115.22" cy="604.76" rx="9.85" ry="10.37" fill="url(#g7)" transform="rotate(166.74 115.22 604.76)"/>
<ellipse cx="275.4" cy="557.4" rx="12.68" ry="14.96" fill="url(#g1)" transform="rotate(143.54 275.4 557.4)"/>
<ellipse cx="293.55" cy="590.88" rx="16.09" ry="14.68" fill="url(#g6)" transform="rotate(43.94 293.55 590.88)"/>
<ellipse cx="351.55" cy="371.38" rx="13.31" ry="15.61" fill="url(#g7)" transform="rotate(71.97 351.55 371.38)"/>
<ellipse cx="357.19" cy="606.47" rx="17.77" ry="24.66" fill="url(#g4)" transform="rotate(156.84 357.19 606.47)"/>
<ellipse cx="181.67" cy="416.87" rx="15.06" ry="18.44" fill="url(#g0)" transform="rotate(120.44 181.67 416.87)"/>
<ellipse cx="216.7" cy="478.71" rx="12.19" ry="13.39" fill="url(#g5)" transform="rotate(169.82 216.7 478.71)"/>
<ellipse cx="273.32" cy="502.25" rx="12.09" ry="15.94" fill="url(#g1)" transform="rotate(89.98 273.32 502.25)"/>
<ellipse cx="368.2" cy="429.4" rx="14.34" ry="15.21" fill="url(#g1)" transform="rotate(56.87 368.2 429.4)"/>
<ellipse cx="171.13" cy="417.27" rx="14.62" ry="13.62" fill="url(#g5)" transform="rotate(166.88 171.13 417.27)"/>
<ellipse cx="349.31" cy="446.06" rx="17.54" ry="21.78" fill="url(#g2)" transform="rotate(59.99 349.31 446.06)"/>
<ellipse cx="172.92" cy="510.79" rx="13.08" ry="9.62" fill="url(#g7)" transform="rotate(136.18 172.92 510.79)"/>
<ellipse cx="241.8" cy="445.44" rx="17.35" ry="16.13" fill="url(#g6)" transform="rotate(12.59 241.8 445.44)"/>
<ellipse cx="109.56" cy="464.13" rx="13.46" ry="11.45" fill="url(#g2)" transform="rotate(165.62 109.56 464.13)"/>
<ellipse cx="315.31" cy="620.71" rx="9.16" ry="10.81" fill="url(#g6)" transform="rotate(137.24 315.31 620.71)"/>
<ellipse cx="249.87" cy="543.88" rx="17.41" ry="19.33" fill="url(#g3)" transform="rotate(75.54 249.87 543.88)"/>
<ellipse cx="98.41" cy="389.35" rx="10.15" ry="8.41" fill="url(#g0)" transform="rotate(174.41 98.41 389.35)"/>
<ellipse cx="314.62" cy="528.12" rx="17.37" ry="20.75" fill="url(#g1)" transform="rotate(82.19 314.62 528.12)"/>
<ellipse cx="215.66" cy="394.74" rx="12.96" ry="14.06" fill="url(#g5)" transform="rotate(0.38 215.66 394.74)"/>
<ellipse cx="224.69" cy="536.58" rx="16.74" ry="18.43" fill="url(#g2)" transform="rotate(133.96 224.69 536.58)"/>
<ellipse cx="207.44" cy="546.25" rx="14.94" ry="11.37" fill="url(#g5)" transform="rotate(101.52 207.44 546.25)"/>
<ellipse cx="163.42" cy="524.12" rx="12.27" ry="14.86" fill="url(#g6)" transform="rotate(111.43 163.42 524.12)"/>
<ellipse cx="153.02" cy="433.41" rx="15.52" ry="20.92" fill="url(#g3)" transform="rotate(114.85 153.02 433.41)"/>
<ellipse cx="188.65" cy="371.13" rx="16.42" ry="19.99" fill="url(#g2)" transform="rotate(156.56 188.65 371.13)"/>
<ellipse cx="148.45" cy="374.45" rx="9.29" ry="8.88" fill="url(#g1)" transform="rotate(78.63 148.45 374.45)"/>
<ellipse cx="221.39" cy="453.04" rx="14.39" ry="16.34" fill="url(#g4)" transform="rotate(16.03 221.39 453.04)"/>
<ellipse cx="300.07" cy="539.52" rx="13.68" ry="18.07" fill="url(#g2)" transform="rotate(13.49 300.07 539.52)"/>
<ellipse cx="158.28" cy="428.82" rx="14.2" ry="14.27" fill="url(#g2)" transform="rotate(117.61 158.28 428.82)"/>
<ellipse cx="158.05" cy="579.93" rx="13.58" ry="14.86" fill="url(#g3)" transform="rotate(70.44 158.05 579.93)"/>
<ellipse cx="329.33" cy="461.11" rx="12.5" ry="10.68" fill="url(#g6)" transform="rotate(71.7 329.33 461.11)"/>
<ellipse cx="372.23" cy="419.86" rx="17.16" ry="12.63" fill="url(#g7)" transform="rotate(38.77 372.23 419.86)"/>
<ellipse cx="276.97" cy="383.58" rx="17.79" ry="21.75" fill="url(#g3)" transform="rotate(104.2 276.97 383.58)"/>
<ellipse cx="165.19" cy="561.76" rx="13.79" ry="10.97" fill="url(#g5)" transform="rotate(140.52 165.19 561.76)"/>
<ellipse cx="185.61" cy="567.72" rx="17.52" ry="16.48" fill="url(#g7)" transform="rotate(171.58 185.61 567.72)"/>
<ellipse cx="186.24" cy="622.37" rx="16.02" ry="14.45" fill="url(#g2)" transform="rotate(145.09 186.24 622.37)"/>
<ellipse cx="212.19" cy="405.51" rx="14.22" ry="15.62" fill="url(#g2)" transform="rotate(171.63 212.19 405.51)"/>
<ellipse cx="193.38" cy="576.74" rx="9.12" ry="10.79" fill="url(#g1)" transform="rotate(149.12 193.38 576.74)"/>
<ellipse cx="201.07" cy="441.34" rx="11.84" ry="12.76" fill="url(#g5)" transform="rotate(71.61 201.07 441.34)"/>
<ellipse cx="207.88" cy="584.93" rx="14.41" ry="12.17" fill="url(#g0)" transform="rotate(4.58 207.88 584.93)"/>
<ellipse cx="349.04" cy="542.72" rx="8.66" ry="9.02" fill="url(#g1)" transform="rotate(125.17 349.04 542.72)"/>
<ellipse cx="102.84" cy="593.47" rx="16.65" ry="19.81" fill="url(#g4)" transform="rotate(60.67 102.84 593.47)"/>
<ellipse cx="340.08" cy="425.93" rx="12.95" ry="17.38" fill="url(#g6)" transform="rotate(141.87 340.08 425.93)"/>
<ellipse cx="173.52" cy="505.97" rx="11.85" ry="9.54" fill="url(#g3)" transform="rotate(173.56 173.52 505.97)"/>
<ellipse cx="190.21" cy="487.77" rx="12.54" ry="12.93" fill="url(#g0)" transform="rotate(108.83 190.21 487.77)"/>
<ellipse cx="192.14" cy="579.79" rx="11.46" ry="10.94" fill="url(#g2)" transform="rotate(41.18 192.14 579.79)"/>
<ellipse cx="295.48" cy="378.14" rx="15.08" ry="20.49" fill="url(#g7)" transform="rotate(4.4 295.48 378.14)"/>
<ellipse cx="185.41" cy="530.59" rx="15.71" ry="11.69" fill="url(#g2)" transform="rotate(18.33 185.41 530.59)"/>
<ellipse cx="100.83" cy="559.46" rx="10.09" ry="11.98" fill="url(#g1)" transform="rotate(58.03 100.83 559.46)"/>
<ellipse cx="225.42" cy="445.64" rx="13.79" ry="9.69" fill="url(#g4)" transform="rotate(166.29 225.42 445.64)"/>
<ellipse cx="178.62" cy="369.18" rx="11.9" ry="10.57" fill="url(#g1)" transform="rotate(20.33 178.62 369.18)"/>
<ellipse cx="331.04" cy="495.87" rx="13.31" ry="16.77" fill="url(#g7)" transform="rotate(79.96 331.04 495.87)"/>
<ellipse cx="295.32" cy="433.13" rx="16.24" ry="16.7" fill="url(#g4)" transform="rotate(95.2 295.32 433.13)"/>
<ellipse cx="243.72" cy="585.01" rx="16.97" ry="15.4" fill="url(#g1)" transform="rotate(70.49 243.72 585.01)"/>
<ellipse cx="275.77" cy="375.95" rx="12.78" ry="16.72" fill="url(#g3)" transform="rotate(150.5 275.77 375.95)"/>
<ellipse cx="285.74" cy="557.99" rx="15.55" ry="16.34" fill="url(#g2)" transform="rotate(40.79 285.74 557.99)"/>
<ellipse cx="256.88" cy="547.61" rx="16.78" ry="14.65" fill="url(#g1)" transform="rotate(174.78 256.88 547.61)"/>
<ellipse cx="246.64" cy="508.63" rx="11.37" ry="15.85" fill="url(#g3)" transform="rotate(13.6 246.64 508.63)"/>
<ellipse cx="372.13" cy="368.74" rx="9.82" ry="9.95" fill="url(#g1)" transform="rotate(178.13 372.13 368.74)"/>
<ellipse cx="344.98" cy="530.04" rx="13.65" ry="10.21" fill="url(#g1)" transform="rotate(134.02 344.98 530.04)"/>
<ellipse cx="162.59" cy="504.34" rx="17.38" ry="24.21" fill="url(#g3)" transform="rotate(165.9 162.59 504.34)"/>
<ellipse cx="266.48" cy="368.43" rx="15.33" ry="13.33" fill="url(#g5)" transform="rotate(56 266.48 368.43)"/>
<ellipse cx="144.45" cy="613.66" rx="13.42" ry="11.86" fill="url(#g0)" transform="rotate(146.6 144.45 613.66)"/>
<ellipse cx="297.04" cy="576.58" rx="8.95" ry="11.22" fill="url(#g1)" transform="rotate(114.18 297.04 576.58)"/>
<ellipse cx="301.52" cy="612.32" rx="14.59" ry="19.42" fill="url(#g3)" transform="rotate(133.55 301.52 612.32)"/>
<ellipse cx="184.16" cy="397.13" rx="8.46" ry="8.19" fill="url(#g3)" transform="rotate(148.26 184.16 397.13)"/>
<ellipse cx="165.39" cy="564.48" rx="10.18" ry="8.83" fill="url(#g5)" transform="rotate(50.2 165.39 564.48)"/>
<ellipse cx="350.99" cy="553.18" rx="9.03" ry="8.73" fill="url(#g1)" transform="rotate(168.44 350.99 553.18)"/>
<ellipse cx="280.64" cy="398.51" rx="14.48" ry="19.62" fill="url(#g2)" transform="rotate(57.59 280.64 398.51)"/>
<ellipse cx="96.97" cy="479.49" rx="14.05" ry="10.31" fill="url(#g4)" transform="rotate(5.03 96.97 479.49)"/>
<ellipse cx="369.22" cy="468.58" rx="11.57" ry="13.31" fill="url(#g7)" transform="rotate(109.42 369.22 468.58)"/>
<ellipse cx="151.9" cy="368.17" rx="14.72" ry="14.92" fill="url(#g0)" transform="rotate(87.21 151.9 368.17)"/>
<ellipse cx="106.96" cy="516.39" rx="17.62" ry="18.11" fill="url(#g6)" transform="rotate(151.92 106.96 516.39)"/>
<ellipse cx="267.88" cy="573.08" rx="15.71" ry="14.85" fill="url(#g5)" transform="rotate(12.08 267.88 573.08)"/>
<ellipse cx="172.22" cy="536.63" rx="17" ry="13.63" fill="url(#g6)" transform="rotate(128.38 172.22 536.63)"/>
<ellipse cx="133.71" cy="460.47" rx="17.89" ry="15.4" fill="url(#g5)" transform="rotate(32.39 133.71 460.47)"/>
<ellipse cx="252" cy="590" rx="42" ry="45" fill="url(#g8)" transform="rotate(-15 252 590)"/>
<ellipse cx="258" cy="600" rx="90" ry="66" fill="url(#g9)" transform="rotate(0 258 600)"/>
<ellipse cx="273" cy="589" rx="18" ry="27" fill="url(#g10)" transform="rotate(10 273 589)"/>
<ellipse cx="254" cy="607" rx="30" ry="15" fill="url(#g10)" transform="rotate(10 254 607)"/>
<ellipse cx="238" cy="581" rx="21" ry="24" fill="url(#g11)" transform="rotate(0 238 581)"/>
<ellipse cx="247" cy="577" rx="33" ry="21" fill="url(#g12)" transform="rotate(0 247 577)"/>
<ellipse cx="300" cy="540" rx="135" ry="120" fill="url(#g4)" transform="rotate(0 300 540)"/>
<ellipse cx="180" cy="600" rx="225" ry="135" fill="url(#g6)" transform="rotate(0 180 600)"/>
<ellipse cx="200" cy="630" rx="180" ry="36" fill="url(#g6)" transform="rotate(0 200 630)"/>
<ellipse cx="330" cy="600" rx="150" ry="120" fill="url(#g1)" transform="rotate(0 330 600)"/>
<circle cx="294.9" cy="405" r="10.8" fill="url(#g13)"/>
<circle cx="249.5" cy="472.8" r="11.7" fill="url(#g14)"/>
<circle cx="321.3" cy="489.7" r="12.63" fill="url(#g15)"/>
<circle cx="288.3" cy="495.7" r="12.63" fill="url(#g16)"/>
<circle cx="356.3" cy="490.7" r="12.63" fill="url(#g17)"/>
<circle cx="124.9" cy="438.4" r="11.94" fill="url(#g18)"/>
<circle cx="179.1" cy="535" r="10.5" fill="url(#g19)"/>
<circle cx="109.7" cy="586.9" r="12.63" fill="url(#g18)"/>
<circle cx="155.5" cy="582.6" r="12.63" fill="url(#g20)"/>
<circle cx="263.7" cy="509.7" r="10.65" fill="url(#g21)"/>
<circle cx="344.8" cy="563.3" r="14.04" fill="url(#g17)"/>
<circle cx="154.3" cy="391.5" r="14.04" fill="url(#g22)"/>
<circle cx="166.8" cy="425.4" r="15.78" fill="url(#g23)"/>
<circle cx="262.2" cy="389" r="14.04" fill="url(#g23)"/>
<circle cx="241.4" cy="423.3" r="14.04" fill="url(#g22)"/>
<circle cx="337.9" cy="393.2" r="15.78" fill="url(#g9)"/>
<circle cx="294.3" cy="456.5" r="14.04" fill="url(#g22)"/>
<circle cx="278.8" cy="437.8" r="14.04" fill="url(#g9)"/>
<circle cx="359.7" cy="454.4" r="14.04" fill="url(#g24)"/>
<circle cx="353.4" cy="407.7" r="14.04" fill="url(#g10)"/>
<circle cx="316" cy="466.8" r="14.04" fill="url(#g10)"/>
<circle cx="149" cy="626.6" r="14.04" fill="url(#g9)"/>
<circle cx="338.4" cy="620.2" r="14.04" fill="url(#g23)"/>
<circle cx="322.3" cy="605" r="14.04" fill="url(#g9)"/>
<ellipse cx="230.3" cy="462.5" rx="12.3" ry="11.1" fill="url(#g25)" transform="rotate(0 230.3 462.5)"/>
<path d="M236.9 527.8C240.13 527.8 244.15 530.27 247.2 533.5C250.25 536.73 253.4 543.02 255.2 547.2C257 551.38 258.18 555.17 258 558.6C257.82 562.03 256.47 565.62 254.1 567.8C251.73 569.98 247.23 571.7 243.8 571.7C240.37 571.7 236.28 570.17 233.5 567.8C230.72 565.43 228.52 561.32 227.1 557.5C225.68 553.68 224.88 548.9 225 544.9C225.12 540.9 225.82 536.35 227.8 533.5C229.78 530.65 233.67 527.8 236.9 527.8Z" fill="#fff" stroke="#fff" stroke-width="4" stroke-linejoin="round" opacity="0.5" filter="url(#blur3)"/>
<path d="M236.9 527.8C240.13 527.8 244.15 530.27 247.2 533.5C250.25 536.73 253.4 543.02 255.2 547.2C257 551.38 258.18 555.17 258 558.6C257.82 562.03 256.47 565.62 254.1 567.8C251.73 569.98 247.23 571.7 243.8 571.7C240.37 571.7 236.28 570.17 233.5 567.8C230.72 565.43 228.52 561.32 227.1 557.5C225.68 553.68 224.88 548.9 225 544.9C225.12 540.9 225.82 536.35 227.8 533.5C229.78 530.65 233.67 527.8 236.9 527.8Z" fill="#fff" stroke="#fff" stroke-width="0.4" stroke-linejoin="round" filter="url(#blur1)"/>
</g>
<path d="M230.2 500.6L238.4 508.8M230.2 508.8L238.4 500.6" stroke="#ff0000" stroke-width="1.6" fill="none"/>
<path d="M259.6 506.2L267.8 514.4M259.6 514.4L267.8 506.2" stroke="#0000ff" stroke-width="1.6" fill="none"/>
<rect x="94.5" y="364.5" width="280" height="281" fill="none" stroke="#000" stroke-width="1.11"/>
<line x1="97.5" y1="364.5" x2="97.5" y2="359.14" stroke="#000" stroke-width="1.11"/>
<line x1="159.5" y1="364.5" x2="159.5" y2="359.14" stroke="#000" stroke-width="1.11"/>
<line x1="221.5" y1="364.5" x2="221.5" y2="359.14" stroke="#000" stroke-width="1.11"/>
<line x1="283.5" y1="364.5" x2="283.5" y2="359.14" stroke="#000" stroke-width="1.11"/>
<line x1="345.5" y1="364.5" x2="345.5" y2="359.14" stroke="#000" stroke-width="1.11"/>
<line x1="99.5" y1="645.5" x2="99.5" y2="650.86" stroke="#000" stroke-width="1.11"/>
<text x="99.2" y="665" font-size="13.89" text-anchor="middle">5<tspan font-size="9.72" dy="-5.3">h</tspan><tspan dy="5.3">08</tspan><tspan font-size="9.72" dy="-5.3">m</tspan></text>
<line x1="160.5" y1="645.5" x2="160.5" y2="650.86" stroke="#000" stroke-width="1.11"/>
<text x="160.4" y="665" font-size="13.89" text-anchor="middle">07<tspan font-size="9.72" dy="-5.3">m</tspan></text>
<line x1="221.5" y1="645.5" x2="221.5" y2="650.86" stroke="#000" stroke-width="1.11"/>
<text x="221.6" y="665" font-size="13.89" text-anchor="middle">06<tspan font-size="9.72" dy="-5.3">m</tspan></text>
<line x1="283.5" y1="645.5" x2="283.5" y2="650.86" stroke="#000" stroke-width="1.11"/>
<text x="283.6" y="665" font-size="13.89" text-anchor="middle">05<tspan font-size="9.72" dy="-5.3">m</tspan></text>
<line x1="344.5" y1="645.5" x2="344.5" y2="650.86" stroke="#000" stroke-width="1.11"/>
<text x="344.4" y="665" font-size="13.89" text-anchor="middle">04<tspan font-size="9.72" dy="-5.3">m</tspan></text>
<line x1="94.5" y1="433.5" x2="89.14" y2="433.5" stroke="#000" stroke-width="1.11"/>
<line x1="374.5" y1="433.5" x2="379.86" y2="433.5" stroke="#000" stroke-width="1.11"/>
<text x="83.8" y="438.05" font-size="13.89" text-anchor="end"><tspan dx="1.4">-</tspan><tspan dx="-1.4">28°00'</tspan></text>
<line x1="94.5" y1="503.5" x2="89.14" y2="503.5" stroke="#000" stroke-width="1.11"/>
<line x1="374.5" y1="503.5" x2="379.86" y2="503.5" stroke="#000" stroke-width="1.11"/>
<text x="83.8" y="508.25" font-size="13.89" text-anchor="end">15'</text>
<line x1="94.5" y1="573.5" x2="89.14" y2="573.5" stroke="#000" stroke-width="1.11"/>
<line x1="374.5" y1="573.5" x2="379.86" y2="573.5" stroke="#000" stroke-width="1.11"/>
<text x="83.8" y="578.45" font-size="13.89" text-anchor="end">30'</text>
<line x1="94.5" y1="643.5" x2="89.14" y2="643.5" stroke="#000" stroke-width="1.11"/>
<line x1="374.5" y1="643.5" x2="379.86" y2="643.5" stroke="#000" stroke-width="1.11"/>
<text x="83.8" y="648.45" font-size="13.89" text-anchor="end">45'</text>
<text x="0" y="0" font-size="16.67" text-anchor="middle" transform="matrix(0.980 0 0 1.075 234.6 356.2)">GLEAM</text>
<text x="234" y="685.5" font-size="13.89" text-anchor="middle">RA</text>
<text x="24.2" y="507" font-size="13.89" text-anchor="middle" transform="rotate(-90 24.2 507)">Dec</text>
<rect x="382.5" y="365.5" width="9" height="280" fill="url(#gcb)"/>
<rect x="382.5" y="365.5" width="9" height="280" fill="none" stroke="#000" stroke-width="1.11"/>
<line x1="391.5" y1="627.5" x2="396.86" y2="627.5" stroke="#000" stroke-width="1.11"/>
<text x="400.9" y="632.55" font-size="13.89" text-anchor="start">0</text>
<line x1="391.5" y1="578.5" x2="396.86" y2="578.5" stroke="#000" stroke-width="1.11"/>
<text x="400.9" y="583.55" font-size="13.89" text-anchor="start">50</text>
<line x1="391.5" y1="529.5" x2="396.86" y2="529.5" stroke="#000" stroke-width="1.11"/>
<text x="400.9" y="534.55" font-size="13.89" text-anchor="start">100</text>
<line x1="391.5" y1="481.5" x2="396.86" y2="481.5" stroke="#000" stroke-width="1.11"/>
<text x="400.9" y="486.55" font-size="13.89" text-anchor="start">150</text>
<line x1="391.5" y1="432.5" x2="396.86" y2="432.5" stroke="#000" stroke-width="1.11"/>
<text x="400.9" y="437.55" font-size="13.89" text-anchor="start">200</text>
<line x1="391.5" y1="383.5" x2="396.86" y2="383.5" stroke="#000" stroke-width="1.11"/>
<text x="400.9" y="388.55" font-size="13.89" text-anchor="start">250</text>
<text x="443.4" y="505" font-size="13.89" text-anchor="middle" transform="rotate(-90 443.4 505)">Brightness (mJy/beam)</text>
<clipPath id="clD"><rect x="473" y="366" width="359" height="279"/></clipPath>
<g shape-rendering="crispEdges" clip-path="url(#clD)">
<g fill="#0000ff" fill-opacity="0.3">
<rect x="473.3" y="555.82" width="3.96" height="89.18"/>
<rect x="477.26" y="525.06" width="3.96" height="119.94"/>
<rect x="481.21" y="538.2" width="3.96" height="106.8"/>
<rect x="485.17" y="566.02" width="3.96" height="78.98"/>
<rect x="489.13" y="589.95" width="3.96" height="55.05"/>
<rect x="493.08" y="604.81" width="3.96" height="40.19"/>
<rect x="497.04" y="617.77" width="3.96" height="27.23"/>
<rect x="500.99" y="625.18" width="3.96" height="19.82"/>
<rect x="504.95" y="631.09" width="3.96" height="13.91"/>
<rect x="508.91" y="635.27" width="3.96" height="9.73"/>
<rect x="512.86" y="638.17" width="3.96" height="6.83"/>
<rect x="516.82" y="640.23" width="3.96" height="4.77"/>
<rect x="520.77" y="641.22" width="3.96" height="3.78"/>
<rect x="524.73" y="642.14" width="3.96" height="2.86"/>
<rect x="528.69" y="642.28" width="3.96" height="2.72"/>
<rect x="532.64" y="643.13" width="3.96" height="1.87"/>
<rect x="536.6" y="643.13" width="3.96" height="1.87"/>
<rect x="540.55" y="643.13" width="3.96" height="1.87"/>
<rect x="544.51" y="643.9" width="3.96" height="1.1"/>
<rect x="548.47" y="643.97" width="3.96" height="1.03"/>
<rect x="552.42" y="644" width="3.96" height="1"/>
<rect x="556.38" y="644" width="3.96" height="1"/>
<rect x="560.33" y="644" width="3.96" height="1"/>
<rect x="564.29" y="644" width="3.96" height="1"/>
<rect x="568.25" y="644" width="3.96" height="1"/>
<rect x="572.2" y="644" width="3.96" height="1"/>
<rect x="576.16" y="644" width="3.96" height="1"/>
<rect x="580.11" y="644" width="3.96" height="1"/>
<rect x="584.07" y="644" width="3.96" height="1"/>
<rect x="588.03" y="644" width="3.96" height="1"/>
<rect x="595.94" y="644" width="3.96" height="1"/>
<rect x="599.89" y="644" width="3.96" height="1"/>
<rect x="607.81" y="644" width="3.96" height="1"/>
<rect x="623.63" y="644" width="3.96" height="1"/>
<rect x="627.59" y="644" width="3.96" height="1"/>
<rect x="651.32" y="644" width="3.96" height="1"/>
<rect x="655.28" y="644" width="3.96" height="1"/>
<rect x="667.15" y="644" width="3.96" height="1"/>
</g><g fill="#ff0000" fill-opacity="0.3">
<rect x="472.15" y="377.82" width="6.85" height="267.18"/>
<rect x="479" y="474.12" width="6.85" height="170.88"/>
<rect x="485.84" y="572.3" width="6.85" height="72.7"/>
<rect x="492.69" y="608.81" width="6.85" height="36.19"/>
<rect x="499.53" y="630.1" width="6.85" height="14.9"/>
<rect x="506.38" y="636.96" width="6.85" height="8.04"/>
<rect x="513.22" y="640.01" width="6.85" height="4.99"/>
<rect x="520.07" y="642.14" width="6.85" height="2.86"/>
<rect x="526.92" y="642.91" width="6.85" height="2.09"/>
<rect x="533.76" y="643.9" width="6.85" height="1.1"/>
<rect x="540.61" y="644" width="6.85" height="1"/>
<rect x="547.45" y="644" width="6.85" height="1"/>
<rect x="554.3" y="644" width="6.85" height="1"/>
<rect x="561.14" y="644" width="6.85" height="1"/>
<rect x="567.99" y="644" width="6.85" height="1"/>
<rect x="574.83" y="644" width="6.85" height="1"/>
<rect x="581.68" y="644" width="6.85" height="1"/>
<rect x="588.53" y="644" width="6.85" height="1"/>
<rect x="595.37" y="644" width="6.85" height="1"/>
<rect x="609.06" y="644" width="6.85" height="1"/>
<rect x="615.91" y="644" width="6.85" height="1"/>
<rect x="622.75" y="644" width="6.85" height="1"/>
<rect x="636.44" y="644" width="6.85" height="1"/>
<rect x="670.67" y="644" width="6.85" height="1"/>
<rect x="704.9" y="644" width="6.85" height="1"/>
<rect x="725.44" y="644" width="6.85" height="1"/>
<rect x="766.51" y="644" width="6.85" height="1"/>
<rect x="807.58" y="644" width="6.85" height="1"/>
</g></g>
<line x1="485" y1="645.5" x2="485" y2="365.5" stroke="#000" stroke-width="2.08" stroke-dasharray="7.71 3.33"/>
<line x1="492.1" y1="645.5" x2="492.1" y2="365.5" stroke="#000" stroke-width="2.08"/>
<rect x="472.5" y="365.5" width="360" height="280" fill="none" stroke="#000" stroke-width="1.11"/>
<line x1="472.5" y1="645.5" x2="472.5" y2="650.86" stroke="#000" stroke-width="1.11"/>
<text x="472.9" y="666" font-size="13.89" text-anchor="middle">0</text>
<line x1="562.5" y1="645.5" x2="562.5" y2="650.86" stroke="#000" stroke-width="1.11"/>
<text x="562" y="666" font-size="13.89" text-anchor="middle">10</text>
<line x1="651.5" y1="645.5" x2="651.5" y2="650.86" stroke="#000" stroke-width="1.11"/>
<text x="651.1" y="666" font-size="13.89" text-anchor="middle">20</text>
<line x1="740.5" y1="645.5" x2="740.5" y2="650.86" stroke="#000" stroke-width="1.11"/>
<text x="740.2" y="666" font-size="13.89" text-anchor="middle">30</text>
<line x1="829.5" y1="645.5" x2="829.5" y2="650.86" stroke="#000" stroke-width="1.11"/>
<text x="829.3" y="666" font-size="13.89" text-anchor="middle">40</text>
<line x1="832.5" y1="645.5" x2="837.86" y2="645.5" stroke="#000" stroke-width="1.11"/>
<text x="841.7" y="650" font-size="13.89" text-anchor="start">0</text>
<line x1="832.5" y1="608.5" x2="837.86" y2="608.5" stroke="#000" stroke-width="1.11"/>
<text x="841.7" y="613" font-size="13.89" text-anchor="start">1000</text>
<line x1="832.5" y1="571.5" x2="837.86" y2="571.5" stroke="#000" stroke-width="1.11"/>
<text x="841.7" y="577" font-size="13.89" text-anchor="start">2000</text>
<line x1="832.5" y1="534.5" x2="837.86" y2="534.5" stroke="#000" stroke-width="1.11"/>
<text x="841.7" y="540" font-size="13.89" text-anchor="start">3000</text>
<line x1="832.5" y1="498.5" x2="837.86" y2="498.5" stroke="#000" stroke-width="1.11"/>
<text x="841.7" y="503" font-size="13.89" text-anchor="start">4000</text>
<line x1="832.5" y1="461.5" x2="837.86" y2="461.5" stroke="#000" stroke-width="1.11"/>
<text x="841.7" y="467" font-size="13.89" text-anchor="start">5000</text>
<line x1="832.5" y1="424.5" x2="837.86" y2="424.5" stroke="#000" stroke-width="1.11"/>
<text x="841.7" y="430" font-size="13.89" text-anchor="start">6000</text>
<line x1="832.5" y1="388.5" x2="837.86" y2="388.5" stroke="#000" stroke-width="1.11"/>
<text x="841.7" y="393" font-size="13.89" text-anchor="start">7000</text>
<text x="652.3" y="684.8" font-size="13.89" text-anchor="middle">Normalised stdev or detection statistics</text>
<text x="893" y="505.4" font-size="13.89" text-anchor="middle" transform="rotate(-90 893 505.4)">Number of Sources</text>
<rect x="620.6" y="370.6" width="207" height="65.6" rx="2.2" ry="2.2" fill="#fff" fill-opacity="0.8" stroke="#ccc" stroke-width="1.11"/>
<rect x="624.7" y="375" width="22.2" height="7.8" fill="#0000ff" fill-opacity="0.3"/>
<rect x="624.7" y="390.2" width="22.2" height="7.8" fill="#ff0000" fill-opacity="0.3"/>
<line x1="624.7" y1="409.5" x2="646.4" y2="409.5" stroke="#000" stroke-width="2.08" stroke-dasharray="7.71 3.33"/>
<line x1="623.7" y1="424.6" x2="647.9" y2="424.6" stroke="#000" stroke-width="2.08"/>
<text x="656.1" y="382.9" font-size="11.11" text-anchor="start">Known srcs residual</text>
<text x="656.1" y="398.1" font-size="11.11" text-anchor="start">Known srcs detection statistic</text>
<text x="656.1" y="413.5" font-size="11.11" text-anchor="start">Candidate residual</text>
<text x="656.1" y="428.6" font-size="11.11" text-anchor="start">Candidate detection statistic</text>
</svg>
</body></html>
